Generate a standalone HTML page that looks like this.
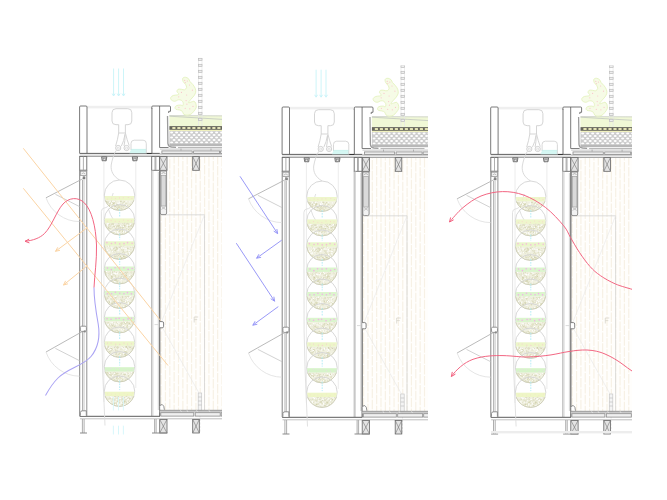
<!DOCTYPE html><html><head><meta charset="utf-8"><title>Section diagrams</title>
<style>html,body{margin:0;padding:0;background:#fff;font-family:"Liberation Sans",sans-serif;}svg{display:block;filter:blur(0.4px)}</style></head><body>
<svg width="667" height="500" viewBox="0 0 667 500">
<rect width="667" height="500" fill="#ffffff"/>
<defs>
<g id="pnl">
<rect x="160.50" y="157.00" width="65.50" height="253.50" fill="#fffefc" stroke="none" stroke-width="1" />
<line x1="161.10" y1="157.00" x2="161.10" y2="410.00" stroke="#f7f1e5" stroke-width="1.2" stroke-dasharray="9.5 1.4" stroke-dashoffset="0"/>
<line x1="165.45" y1="157.00" x2="165.45" y2="410.00" stroke="#f7f1e5" stroke-width="1.2" stroke-dasharray="9.5 1.4" stroke-dashoffset="5"/>
<line x1="169.80" y1="157.00" x2="169.80" y2="410.00" stroke="#f7f1e5" stroke-width="1.2" stroke-dasharray="9.5 1.4" stroke-dashoffset="9"/>
<line x1="174.15" y1="157.00" x2="174.15" y2="410.00" stroke="#f7f1e5" stroke-width="1.2" stroke-dasharray="9.5 1.4" stroke-dashoffset="3"/>
<line x1="178.50" y1="157.00" x2="178.50" y2="410.00" stroke="#f7f1e5" stroke-width="1.2" stroke-dasharray="9.5 1.4" stroke-dashoffset="11"/>
<line x1="182.85" y1="157.00" x2="182.85" y2="410.00" stroke="#f7f1e5" stroke-width="1.2" stroke-dasharray="9.5 1.4" stroke-dashoffset="7"/>
<line x1="187.20" y1="157.00" x2="187.20" y2="410.00" stroke="#f7f1e5" stroke-width="1.2" stroke-dasharray="9.5 1.4" stroke-dashoffset="2"/>
<line x1="191.55" y1="157.00" x2="191.55" y2="410.00" stroke="#f7f1e5" stroke-width="1.2" stroke-dasharray="9.5 1.4" stroke-dashoffset="0"/>
<line x1="195.90" y1="157.00" x2="195.90" y2="410.00" stroke="#f7f1e5" stroke-width="1.2" stroke-dasharray="9.5 1.4" stroke-dashoffset="5"/>
<line x1="200.25" y1="157.00" x2="200.25" y2="410.00" stroke="#f7f1e5" stroke-width="1.2" stroke-dasharray="9.5 1.4" stroke-dashoffset="9"/>
<line x1="204.60" y1="157.00" x2="204.60" y2="410.00" stroke="#f7f1e5" stroke-width="1.2" stroke-dasharray="9.5 1.4" stroke-dashoffset="3"/>
<line x1="208.95" y1="157.00" x2="208.95" y2="410.00" stroke="#f7f1e5" stroke-width="1.2" stroke-dasharray="9.5 1.4" stroke-dashoffset="11"/>
<line x1="213.30" y1="157.00" x2="213.30" y2="410.00" stroke="#f7f1e5" stroke-width="1.2" stroke-dasharray="9.5 1.4" stroke-dashoffset="7"/>
<line x1="217.65" y1="157.00" x2="217.65" y2="410.00" stroke="#f7f1e5" stroke-width="1.2" stroke-dasharray="9.5 1.4" stroke-dashoffset="2"/>
<line x1="222.00" y1="157.00" x2="222.00" y2="410.00" stroke="#f7f1e5" stroke-width="1.2" stroke-dasharray="9.5 1.4" stroke-dashoffset="0"/>
<path d="M160.8 214.8 H204.5 V410" fill="none" stroke="#d4d4d4" stroke-width="0.8" />
<line x1="204.50" y1="214.80" x2="161.00" y2="323.00" stroke="#e8e8e8" stroke-width="0.6" />
<line x1="161.00" y1="325.00" x2="199.00" y2="393.00" stroke="#e6e6e6" stroke-width="0.6" />
<rect x="198.20" y="393.00" width="3.50" height="17.50" fill="#f4f4f4" stroke="#c8c8c8" stroke-width="0.7" />
<line x1="198.20" y1="397.00" x2="201.70" y2="397.00" stroke="#c0c0c0" stroke-width="0.7" />
<line x1="198.20" y1="401.00" x2="201.70" y2="401.00" stroke="#c0c0c0" stroke-width="0.7" />
<line x1="198.20" y1="405.00" x2="201.70" y2="405.00" stroke="#c0c0c0" stroke-width="0.7" />
<line x1="200.00" y1="412.00" x2="200.00" y2="433.00" stroke="#d8d8d8" stroke-width="0.6" stroke-dasharray="2 1.5"/>
<path d="M194.2 322.5 V317 H198.2 M194.2 319.6 H197.2" fill="none" stroke="#d8d4ca" stroke-width="0.8" />
<rect x="169.40" y="115.50" width="57.00" height="10.50" fill="#f0f8d6" stroke="none" stroke-width="1" />
<line x1="169.40" y1="115.60" x2="226.00" y2="115.90" stroke="#cfd3cc" stroke-width="0.9" />
<line x1="169.40" y1="116.20" x2="226.00" y2="119.60" stroke="#c2c6c0" stroke-width="0.8" />
<rect x="169.40" y="126.10" width="57.00" height="3.80" fill="#66665a" stroke="none" stroke-width="1" />
<rect x="172.30" y="126.95" width="3.20" height="2.00" fill="#e2e2b4" stroke="none" stroke-width="1" rx="0.5"/>
<rect x="177.30" y="126.95" width="3.20" height="2.00" fill="#e2e2b4" stroke="none" stroke-width="1" rx="0.5"/>
<rect x="182.30" y="126.95" width="3.20" height="2.00" fill="#e2e2b4" stroke="none" stroke-width="1" rx="0.5"/>
<rect x="187.30" y="126.95" width="3.20" height="2.00" fill="#e2e2b4" stroke="none" stroke-width="1" rx="0.5"/>
<rect x="192.30" y="126.95" width="3.20" height="2.00" fill="#e2e2b4" stroke="none" stroke-width="1" rx="0.5"/>
<rect x="197.30" y="126.95" width="3.20" height="2.00" fill="#e2e2b4" stroke="none" stroke-width="1" rx="0.5"/>
<rect x="202.30" y="126.95" width="3.20" height="2.00" fill="#e2e2b4" stroke="none" stroke-width="1" rx="0.5"/>
<rect x="207.30" y="126.95" width="3.20" height="2.00" fill="#e2e2b4" stroke="none" stroke-width="1" rx="0.5"/>
<rect x="212.30" y="126.95" width="3.20" height="2.00" fill="#e2e2b4" stroke="none" stroke-width="1" rx="0.5"/>
<rect x="217.30" y="126.95" width="3.20" height="2.00" fill="#e2e2b4" stroke="none" stroke-width="1" rx="0.5"/>
<rect x="222.30" y="126.95" width="3.20" height="2.00" fill="#e2e2b4" stroke="none" stroke-width="1" rx="0.5"/>
<rect x="169.40" y="129.90" width="57.00" height="1.20" fill="#eff0bd" stroke="none" stroke-width="1" />
<rect x="169.40" y="131.10" width="57.00" height="12.70" fill="#cdcdcd" stroke="none" stroke-width="1" />
<ellipse cx="171.60" cy="132.40" rx="1.55" ry="1.0" fill="#fff"/>
<ellipse cx="176.60" cy="132.40" rx="1.55" ry="1.0" fill="#fff"/>
<ellipse cx="181.60" cy="132.40" rx="1.55" ry="1.0" fill="#fff"/>
<ellipse cx="186.60" cy="132.40" rx="1.55" ry="1.0" fill="#fff"/>
<ellipse cx="191.60" cy="132.40" rx="1.55" ry="1.0" fill="#fff"/>
<ellipse cx="196.60" cy="132.40" rx="1.55" ry="1.0" fill="#fff"/>
<ellipse cx="201.60" cy="132.40" rx="1.55" ry="1.0" fill="#fff"/>
<ellipse cx="206.60" cy="132.40" rx="1.55" ry="1.0" fill="#fff"/>
<ellipse cx="211.60" cy="132.40" rx="1.55" ry="1.0" fill="#fff"/>
<ellipse cx="216.60" cy="132.40" rx="1.55" ry="1.0" fill="#fff"/>
<ellipse cx="221.60" cy="132.40" rx="1.55" ry="1.0" fill="#fff"/>
<ellipse cx="226.60" cy="132.40" rx="1.55" ry="1.0" fill="#fff"/>
<ellipse cx="174.10" cy="134.90" rx="1.55" ry="1.0" fill="#fff"/>
<ellipse cx="179.10" cy="134.90" rx="1.55" ry="1.0" fill="#fff"/>
<ellipse cx="184.10" cy="134.90" rx="1.55" ry="1.0" fill="#fff"/>
<ellipse cx="189.10" cy="134.90" rx="1.55" ry="1.0" fill="#fff"/>
<ellipse cx="194.10" cy="134.90" rx="1.55" ry="1.0" fill="#fff"/>
<ellipse cx="199.10" cy="134.90" rx="1.55" ry="1.0" fill="#fff"/>
<ellipse cx="204.10" cy="134.90" rx="1.55" ry="1.0" fill="#fff"/>
<ellipse cx="209.10" cy="134.90" rx="1.55" ry="1.0" fill="#fff"/>
<ellipse cx="214.10" cy="134.90" rx="1.55" ry="1.0" fill="#fff"/>
<ellipse cx="219.10" cy="134.90" rx="1.55" ry="1.0" fill="#fff"/>
<ellipse cx="224.10" cy="134.90" rx="1.55" ry="1.0" fill="#fff"/>
<ellipse cx="171.60" cy="137.40" rx="1.55" ry="1.0" fill="#fff"/>
<ellipse cx="176.60" cy="137.40" rx="1.55" ry="1.0" fill="#fff"/>
<ellipse cx="181.60" cy="137.40" rx="1.55" ry="1.0" fill="#fff"/>
<ellipse cx="186.60" cy="137.40" rx="1.55" ry="1.0" fill="#fff"/>
<ellipse cx="191.60" cy="137.40" rx="1.55" ry="1.0" fill="#fff"/>
<ellipse cx="196.60" cy="137.40" rx="1.55" ry="1.0" fill="#fff"/>
<ellipse cx="201.60" cy="137.40" rx="1.55" ry="1.0" fill="#fff"/>
<ellipse cx="206.60" cy="137.40" rx="1.55" ry="1.0" fill="#fff"/>
<ellipse cx="211.60" cy="137.40" rx="1.55" ry="1.0" fill="#fff"/>
<ellipse cx="216.60" cy="137.40" rx="1.55" ry="1.0" fill="#fff"/>
<ellipse cx="221.60" cy="137.40" rx="1.55" ry="1.0" fill="#fff"/>
<ellipse cx="226.60" cy="137.40" rx="1.55" ry="1.0" fill="#fff"/>
<ellipse cx="174.10" cy="139.90" rx="1.55" ry="1.0" fill="#fff"/>
<ellipse cx="179.10" cy="139.90" rx="1.55" ry="1.0" fill="#fff"/>
<ellipse cx="184.10" cy="139.90" rx="1.55" ry="1.0" fill="#fff"/>
<ellipse cx="189.10" cy="139.90" rx="1.55" ry="1.0" fill="#fff"/>
<ellipse cx="194.10" cy="139.90" rx="1.55" ry="1.0" fill="#fff"/>
<ellipse cx="199.10" cy="139.90" rx="1.55" ry="1.0" fill="#fff"/>
<ellipse cx="204.10" cy="139.90" rx="1.55" ry="1.0" fill="#fff"/>
<ellipse cx="209.10" cy="139.90" rx="1.55" ry="1.0" fill="#fff"/>
<ellipse cx="214.10" cy="139.90" rx="1.55" ry="1.0" fill="#fff"/>
<ellipse cx="219.10" cy="139.90" rx="1.55" ry="1.0" fill="#fff"/>
<ellipse cx="224.10" cy="139.90" rx="1.55" ry="1.0" fill="#fff"/>
<ellipse cx="171.60" cy="142.40" rx="1.55" ry="1.0" fill="#fff"/>
<ellipse cx="176.60" cy="142.40" rx="1.55" ry="1.0" fill="#fff"/>
<ellipse cx="181.60" cy="142.40" rx="1.55" ry="1.0" fill="#fff"/>
<ellipse cx="186.60" cy="142.40" rx="1.55" ry="1.0" fill="#fff"/>
<ellipse cx="191.60" cy="142.40" rx="1.55" ry="1.0" fill="#fff"/>
<ellipse cx="196.60" cy="142.40" rx="1.55" ry="1.0" fill="#fff"/>
<ellipse cx="201.60" cy="142.40" rx="1.55" ry="1.0" fill="#fff"/>
<ellipse cx="206.60" cy="142.40" rx="1.55" ry="1.0" fill="#fff"/>
<ellipse cx="211.60" cy="142.40" rx="1.55" ry="1.0" fill="#fff"/>
<ellipse cx="216.60" cy="142.40" rx="1.55" ry="1.0" fill="#fff"/>
<ellipse cx="221.60" cy="142.40" rx="1.55" ry="1.0" fill="#fff"/>
<ellipse cx="226.60" cy="142.40" rx="1.55" ry="1.0" fill="#fff"/>
<rect x="169.40" y="143.60" width="57.00" height="2.60" fill="#b8b8b8" stroke="none" stroke-width="1" />
<path d="M167.5 116 L167.9 143.5 Q168.2 146.7 171.5 147 L176 147.3" fill="none" stroke="#9c9c9c" stroke-width="1.3" />
<path d="M183.2 77.8 C183.70 77.48 184.72 77.15 185.60 77.30 C186.48 77.45 187.77 77.98 188.50 78.70 C189.23 79.42 189.28 80.63 190.00 81.60 C190.72 82.57 191.93 83.38 192.80 84.50 C193.67 85.62 194.72 87.02 195.20 88.30 C195.68 89.58 195.93 90.92 195.70 92.20 C195.47 93.48 194.68 94.73 193.80 96.00 C192.92 97.27 191.28 98.68 190.40 99.80 C189.52 100.92 188.42 102.30 188.50 102.70 C188.58 103.10 190.02 102.43 190.90 102.20 C191.78 101.97 193.00 101.13 193.80 101.30 C194.60 101.47 195.30 102.17 195.70 103.20 C196.10 104.23 196.52 106.15 196.20 107.50 C195.88 108.85 194.68 110.18 193.80 111.30 C192.92 112.42 192.03 113.55 190.90 114.20 C189.77 114.85 188.20 115.20 187.00 115.20 C185.80 115.20 184.48 114.85 183.70 114.20 C182.92 113.55 183.02 112.02 182.30 111.30 C181.58 110.58 180.45 110.22 179.40 109.90 C178.35 109.58 176.73 109.80 176.00 109.40 C175.27 109.00 174.92 108.13 175.00 107.50 C175.08 106.87 175.60 106.00 176.50 105.60 C177.40 105.20 179.35 105.10 180.40 105.10 C181.45 105.10 182.33 106.00 182.80 105.60 C183.27 105.20 183.45 103.58 183.20 102.70 C182.95 101.82 182.10 100.78 181.30 100.30 C180.50 99.82 179.52 99.63 178.40 99.80 C177.28 99.97 175.80 101.30 174.60 101.30 C173.40 101.30 171.83 100.45 171.20 99.80 C170.57 99.15 170.47 98.12 170.80 97.40 C171.13 96.68 172.17 95.90 173.20 95.50 C174.23 95.10 176.05 95.25 177.00 95.00 C177.95 94.75 178.90 94.55 178.90 94.00 C178.90 93.45 177.15 92.48 177.00 91.70 C176.85 90.92 177.28 89.70 178.00 89.30 C178.72 88.90 180.18 89.22 181.30 89.30 C182.42 89.38 183.82 90.12 184.70 89.80 C185.58 89.48 186.45 88.28 186.60 87.40 C186.75 86.52 186.17 85.47 185.60 84.50 C185.03 83.53 183.70 82.48 183.20 81.60 C182.70 80.72 182.60 79.83 182.60 79.20 C182.60 78.57 182.70 78.12 183.20 77.80 Z" fill="#f6fbe6" stroke="#e7f4c4" stroke-width="1.0" />
<circle cx="184.7" cy="80.4" r="0.6" fill="#f9c6cc"/>
<circle cx="187.3" cy="81.1" r="0.6" fill="#f9c6cc"/>
<circle cx="185.3" cy="82.6" r="0.6" fill="#f9c6cc"/>
<circle cx="189.5" cy="85" r="0.6" fill="#f9c6cc"/>
<circle cx="192.4" cy="90.2" r="0.6" fill="#f9c6cc"/>
<circle cx="181.5" cy="92.4" r="0.6" fill="#f9c6cc"/>
<circle cx="186.6" cy="95" r="0.6" fill="#f9c6cc"/>
<circle cx="178.7" cy="96.8" r="0.6" fill="#f9c6cc"/>
<circle cx="186.1" cy="100.6" r="0.6" fill="#f9c6cc"/>
<circle cx="186.9" cy="104.2" r="0.6" fill="#f9c6cc"/>
<circle cx="193" cy="106.4" r="0.6" fill="#f9c6cc"/>
<circle cx="178.9" cy="107.3" r="0.6" fill="#f9c6cc"/>
<circle cx="185.2" cy="108.3" r="0.6" fill="#f9c6cc"/>
<circle cx="189.8" cy="108.8" r="0.6" fill="#f9c6cc"/>
<line x1="198.50" y1="58.00" x2="198.50" y2="126.00" stroke="#e6e6e6" stroke-width="0.7" />
<line x1="202.00" y1="58.00" x2="202.00" y2="126.00" stroke="#e6e6e6" stroke-width="0.7" />
<rect x="198.50" y="58.30" width="3.50" height="2.30" fill="#efefef" stroke="#bcbcbc" stroke-width="0.7" />
<rect x="198.50" y="64.30" width="3.50" height="2.30" fill="#efefef" stroke="#bcbcbc" stroke-width="0.7" />
<rect x="198.50" y="70.30" width="3.50" height="2.30" fill="#efefef" stroke="#bcbcbc" stroke-width="0.7" />
<rect x="198.50" y="76.30" width="3.50" height="2.30" fill="#efefef" stroke="#bcbcbc" stroke-width="0.7" />
<rect x="198.50" y="82.30" width="3.50" height="2.30" fill="#efefef" stroke="#bcbcbc" stroke-width="0.7" />
<rect x="198.50" y="88.30" width="3.50" height="2.30" fill="#efefef" stroke="#bcbcbc" stroke-width="0.7" />
<rect x="198.50" y="94.30" width="3.50" height="2.30" fill="#efefef" stroke="#bcbcbc" stroke-width="0.7" />
<rect x="198.50" y="100.30" width="3.50" height="2.30" fill="#efefef" stroke="#bcbcbc" stroke-width="0.7" />
<rect x="198.50" y="106.30" width="3.50" height="2.30" fill="#efefef" stroke="#bcbcbc" stroke-width="0.7" />
<rect x="198.50" y="112.30" width="3.50" height="2.30" fill="#efefef" stroke="#bcbcbc" stroke-width="0.7" />
<rect x="198.50" y="118.30" width="3.50" height="2.30" fill="#efefef" stroke="#bcbcbc" stroke-width="0.7" />
<rect x="87.00" y="105.80" width="65.00" height="2.60" fill="#efefef" stroke="none" stroke-width="1" />
<path d="M79.6 153.3 V107 Q79.6 106 80.6 106 H86 Q87 106 87 107 V153.3" fill="#fff" stroke="#585858" stroke-width="0.8" />
<path d="M151.8 109 V107 Q151.8 106 152.8 106 H169.5 Q170.5 106 170.5 107 V111.3 H168.7 V113" fill="none" stroke="#585858" stroke-width="0.8" />
<line x1="151.90" y1="108.00" x2="151.90" y2="153.30" stroke="#8c8c8c" stroke-width="1.2" />
<line x1="159.60" y1="106.00" x2="159.60" y2="147.50" stroke="#585858" stroke-width="0.8" />
<line x1="159.60" y1="147.50" x2="168.50" y2="147.50" stroke="#606060" stroke-width="0.8" />
<line x1="160.00" y1="149.10" x2="226.00" y2="149.10" stroke="#b8b8b8" stroke-width="0.8" />
<rect x="161.90" y="150.90" width="30.30" height="2.60" fill="#ececec" stroke="#8c8c8c" stroke-width="0.8" />
<rect x="193.60" y="150.90" width="26.00" height="2.60" fill="#ececec" stroke="#8c8c8c" stroke-width="0.8" />
<rect x="220.60" y="150.90" width="6.00" height="2.60" fill="#ececec" stroke="#8c8c8c" stroke-width="0.8" />
<line x1="178.00" y1="147.60" x2="222.00" y2="147.60" stroke="#a8a8a8" stroke-width="0.9" />
<line x1="181.00" y1="148.60" x2="181.00" y2="150.60" stroke="#999" stroke-width="0.7" />
<line x1="211.00" y1="148.60" x2="211.00" y2="150.60" stroke="#999" stroke-width="0.7" />
<rect x="79.60" y="153.40" width="80.20" height="2.80" fill="#e9e9e9" stroke="none" stroke-width="1" />
<line x1="79.60" y1="153.40" x2="159.80" y2="153.40" stroke="#505050" stroke-width="0.9" />
<line x1="79.60" y1="156.30" x2="226.00" y2="156.30" stroke="#858585" stroke-width="0.9" />
<line x1="159.80" y1="154.00" x2="226.00" y2="154.00" stroke="#9a9a9a" stroke-width="0.9" />
<rect x="159.70" y="156.60" width="7.30" height="13.70" fill="#e4e4e4" stroke="#666" stroke-width="0.8" /><line x1="159.70" y1="156.60" x2="167.00" y2="170.30" stroke="#777" stroke-width="0.6" /><line x1="167.00" y1="156.60" x2="159.70" y2="170.30" stroke="#777" stroke-width="0.6" />
<rect x="192.70" y="156.60" width="6.60" height="13.70" fill="#e4e4e4" stroke="#666" stroke-width="0.8" /><line x1="192.70" y1="156.60" x2="199.30" y2="170.30" stroke="#777" stroke-width="0.6" /><line x1="199.30" y1="156.60" x2="192.70" y2="170.30" stroke="#777" stroke-width="0.6" />
<rect x="151.70" y="156.50" width="7.80" height="13.80" fill="#fff" stroke="#6a6a6a" stroke-width="0.9" />
<line x1="155.00" y1="156.50" x2="155.00" y2="170.30" stroke="#8a8a8a" stroke-width="0.7" />
<line x1="155.90" y1="156.50" x2="155.90" y2="170.30" stroke="#8a8a8a" stroke-width="0.7" />
<line x1="151.70" y1="170.30" x2="151.70" y2="416.00" stroke="#a8a8a8" stroke-width="0.9" />
<line x1="152.90" y1="170.30" x2="152.90" y2="416.00" stroke="#c9c9c9" stroke-width="0.8" />
<line x1="158.30" y1="172.00" x2="158.30" y2="410.00" stroke="#cfcfcf" stroke-width="0.9" />
<line x1="159.70" y1="170.30" x2="159.70" y2="416.00" stroke="#7c7c7c" stroke-width="1.4" />
<path d="M160.3 171 H166.6 V213 Q166.6 214.6 165 214.6 H161.9 Q160.3 214.6 160.3 213 Z" fill="#f2f2f2" stroke="#777" stroke-width="0.8" />
<rect x="161.20" y="175.50" width="4.60" height="30.50" fill="#dadada" stroke="#9a9a9a" stroke-width="0.6" />
<path d="M161.5 173.5 Q163.5 171.8 165.5 173.5" fill="none" stroke="#888" stroke-width="0.6" />
<path d="M161.4 206.5 L165.6 209.5 M165.6 206.5 L161.4 209.5" fill="none" stroke="#999" stroke-width="0.5" />
<path d="M159.7 321.6 H162.2 Q163.6 321.6 163.6 323 V326.4 Q163.6 327.8 162.2 327.8 H159.7" fill="#fff" stroke="#666" stroke-width="0.8" />
<line x1="154.50" y1="324.60" x2="158.50" y2="324.60" stroke="#d0d0d0" stroke-width="0.8" />
<path d="M159.7 409.8 V406.5 Q160.2 404.3 162.3 404.6 Q164.2 405.2 164.4 409.8" fill="#fff" stroke="#777" stroke-width="0.8" />
<rect x="159.70" y="410.30" width="66.50" height="2.20" fill="#c9c9c9" stroke="none" stroke-width="1" />
<line x1="159.70" y1="410.30" x2="226.00" y2="410.30" stroke="#8a8a8a" stroke-width="0.8" />
<line x1="180.50" y1="410.30" x2="181.70" y2="412.30" stroke="#eee" stroke-width="0.7" />
<line x1="187.00" y1="410.30" x2="188.20" y2="412.30" stroke="#eee" stroke-width="0.7" />
<line x1="196.50" y1="410.30" x2="197.70" y2="412.30" stroke="#eee" stroke-width="0.7" />
<line x1="209.00" y1="410.30" x2="210.20" y2="412.30" stroke="#eee" stroke-width="0.7" />
<rect x="160.80" y="412.70" width="33.00" height="3.40" fill="#f0f0f0" stroke="#8a8a8a" stroke-width="0.8" />
<rect x="195.20" y="412.70" width="25.00" height="3.40" fill="#f0f0f0" stroke="#8a8a8a" stroke-width="0.8" />
<rect x="221.20" y="412.70" width="5.00" height="3.40" fill="#f0f0f0" stroke="#8a8a8a" stroke-width="0.8" />
<line x1="159.70" y1="418.80" x2="226.00" y2="418.80" stroke="#bdbdbd" stroke-width="1.0" />
<rect x="159.70" y="419.40" width="7.30" height="13.60" fill="#e4e4e4" stroke="#666" stroke-width="0.8" /><line x1="159.70" y1="419.40" x2="167.00" y2="433.00" stroke="#777" stroke-width="0.6" /><line x1="167.00" y1="419.40" x2="159.70" y2="433.00" stroke="#777" stroke-width="0.6" />
<rect x="192.70" y="419.40" width="6.60" height="13.60" fill="#e4e4e4" stroke="#666" stroke-width="0.8" /><line x1="192.70" y1="419.40" x2="199.30" y2="433.00" stroke="#777" stroke-width="0.6" /><line x1="199.30" y1="419.40" x2="192.70" y2="433.00" stroke="#777" stroke-width="0.6" />
<line x1="79.60" y1="416.30" x2="160.00" y2="416.30" stroke="#5a5a5a" stroke-width="1.0" />
<line x1="80.00" y1="418.80" x2="160.00" y2="418.80" stroke="#c2c2c2" stroke-width="1.0" />
<line x1="82.40" y1="419.00" x2="82.40" y2="433.00" stroke="#999" stroke-width="0.8" />
<line x1="84.10" y1="419.00" x2="84.10" y2="433.00" stroke="#999" stroke-width="0.8" />
<line x1="80.00" y1="433.00" x2="87.00" y2="433.00" stroke="#8a8a8a" stroke-width="1.0" />
<line x1="154.60" y1="419.00" x2="154.60" y2="433.00" stroke="#999" stroke-width="0.8" />
<line x1="156.10" y1="419.00" x2="156.10" y2="433.00" stroke="#999" stroke-width="0.8" />
<line x1="152.00" y1="433.00" x2="167.20" y2="433.00" stroke="#8a8a8a" stroke-width="1.0" />
<rect x="79.70" y="156.50" width="7.10" height="13.70" fill="#fff" stroke="#6a6a6a" stroke-width="0.9" />
<line x1="83.40" y1="156.50" x2="83.40" y2="170.20" stroke="#9a9a9a" stroke-width="0.8" />
<line x1="79.70" y1="170.20" x2="79.70" y2="416.00" stroke="#777" stroke-width="0.9" />
<line x1="82.50" y1="180.00" x2="82.50" y2="412.00" stroke="#a8a8a8" stroke-width="0.9" />
<line x1="84.00" y1="180.00" x2="84.00" y2="412.00" stroke="#b8b8b8" stroke-width="0.8" />
<line x1="86.80" y1="170.20" x2="86.80" y2="416.00" stroke="#858585" stroke-width="0.9" />
<rect x="80.30" y="171.20" width="6.20" height="4.20" fill="#f3f3f3" stroke="#8a8a8a" stroke-width="0.7" /><path d="M81.5 174.0 Q83.4 171.8 85.3 174.0" fill="none" stroke="#999" stroke-width="0.6" /><rect x="83.00" y="176.80" width="2.00" height="2.20" fill="#8a8a8a" stroke="#666" stroke-width="0.5" />
<rect x="80.40" y="326.20" width="6.00" height="5.20" fill="#fff" stroke="#808080" stroke-width="0.8" rx="1.2"/>
<rect x="83.80" y="330.40" width="1.80" height="2.00" fill="#888" stroke="none" stroke-width="1" />
<path d="M80.4 415.8 V412.5 Q80.6 410.6 82.6 410.8 H86.3 V415.8" fill="#fff" stroke="#777" stroke-width="0.8" />
<line x1="83.00" y1="178.60" x2="46.00" y2="197.80" stroke="#adadad" stroke-width="0.85" />
<line x1="55.40" y1="194.30" x2="79.50" y2="206.60" stroke="#c6c6c6" stroke-width="0.8" />
<path d="M46 197.8 A36 36 0 0 0 79.5 221.6" fill="none" stroke="#dedede" stroke-width="0.8" />
<line x1="82.20" y1="331.60" x2="46.00" y2="352.00" stroke="#adadad" stroke-width="0.85" />
<line x1="55.40" y1="348.40" x2="79.50" y2="360.70" stroke="#c6c6c6" stroke-width="0.8" />
<path d="M46 352 A36 36 0 0 0 79.5 376.2" fill="none" stroke="#dedede" stroke-width="0.8" />
<path d="M116 108.7 H127.8 Q131.8 108.7 131.8 112.7 V121 Q131.8 124.7 128 124.7 H125.4 V133 M118.7 133 V124.7 H116 Q112 124.7 112 121 V112.7 Q112 108.7 116 108.7 M118.7 133 H125.4 M118.7 133 Q117.6 140 115.6 146 M125.4 133 Q127 140 129.2 145.6 M125 134.3 Q124 141 121.3 146.2 M125 134.3 Q125.2 141 124 146" fill="none" stroke="#d0d0d0" stroke-width="0.9" />
<circle cx="118.2" cy="148" r="2.6" fill="#fff" stroke="#c6c6c6" stroke-width="0.8"/>
<circle cx="118.2" cy="148.2" r="1.1" fill="#fff" stroke="#cfcfcf" stroke-width="0.6"/>
<circle cx="126.6" cy="148" r="2.6" fill="#fff" stroke="#c6c6c6" stroke-width="0.8"/>
<circle cx="126.6" cy="148.2" r="1.1" fill="#fff" stroke="#cfcfcf" stroke-width="0.6"/>
<path d="M129.4 153.2 L131 149.4 H146.3 V153.2 Z" fill="#d5f7f3" stroke="none" stroke-width="1" />
<path d="M131 150 V143.4 Q131 140.2 134.2 140.2 H143.1 Q146.3 140.2 146.3 143.4 V153.2" fill="none" stroke="#d4d4d4" stroke-width="0.9" />
<line x1="131.00" y1="149.40" x2="146.30" y2="149.40" stroke="#bdeeea" stroke-width="0.7" />
<line x1="146.90" y1="153.50" x2="151.70" y2="153.50" stroke="#333" stroke-width="1.0" />
<path d="M116.4 150.2 C114 153.5 112 160 111.2 165 C110.6 171 113 176 119.5 180" fill="none" stroke="#d6d6d6" stroke-width="0.9" />
<path d="M101.6 156.8 H106.8 L106.19999999999999 160.8 H102.19999999999999 Z" fill="#cfcfcf" stroke="#5a5a5a" stroke-width="0.8" />
<rect x="103.10" y="158.40" width="2.20" height="1.70" fill="#f4f4f4" stroke="#777" stroke-width="0.5" />
<path d="M132.3 156.8 H137.5 L136.9 160.8 H132.9 Z" fill="#cfcfcf" stroke="#5a5a5a" stroke-width="0.8" />
<rect x="133.80" y="158.40" width="2.20" height="1.70" fill="#f4f4f4" stroke="#777" stroke-width="0.5" />
<line x1="103.90" y1="161.00" x2="103.90" y2="402.00" stroke="#e6e6e6" stroke-width="0.75" />
<line x1="135.80" y1="161.00" x2="135.80" y2="388.00" stroke="#e6e6e6" stroke-width="0.75" />
<path d="M113.2 193 L110 203 Q108.3 207.6 104.2 208 Q101.5 208.4 101.4 211.5 L101.6 330 L102.7 372 L105 425.5" fill="none" stroke="#dedede" stroke-width="0.9" />
<path d="M108.3 208.6 Q110 215 113.9 220.5" fill="none" stroke="#d8d8d8" stroke-width="0.8" />
<clipPath id="cc0"><circle cx="119.5" cy="195.20" r="14.899999999999999"/></clipPath>
<circle cx="119.5" cy="195.20" r="15.2" fill="none" stroke="#d4d4d4" stroke-width="0.9"/>
<g clip-path="url(#cc0)"><rect x="104.30" y="196.00" width="30.40" height="4.60" fill="#eef6cb" stroke="none" stroke-width="1" /><rect x="104.30" y="200.40" width="30.40" height="15.20" fill="#f0f0e0" stroke="none" stroke-width="1" /><line x1="114.14" y1="202.08" x2="113.75" y2="202.85" stroke="#c6c69a" stroke-width="0.45" /><line x1="120.59" y1="204.18" x2="121.83" y2="204.41" stroke="#c6c69a" stroke-width="0.45" /><line x1="105.44" y1="204.85" x2="106.30" y2="205.04" stroke="#c6c69a" stroke-width="0.45" /><line x1="117.21" y1="208.70" x2="118.13" y2="209.08" stroke="#c6c69a" stroke-width="0.45" /><line x1="123.37" y1="209.89" x2="123.10" y2="211.01" stroke="#c6c69a" stroke-width="0.45" /><line x1="133.98" y1="201.06" x2="133.02" y2="201.51" stroke="#c6c69a" stroke-width="0.45" /><line x1="108.69" y1="201.75" x2="109.55" y2="203.02" stroke="#c6c69a" stroke-width="0.45" /><line x1="109.79" y1="206.30" x2="109.31" y2="207.33" stroke="#c6c69a" stroke-width="0.45" /><line x1="120.95" y1="201.22" x2="121.92" y2="201.40" stroke="#c6c69a" stroke-width="0.45" /><line x1="124.98" y1="204.79" x2="125.72" y2="205.90" stroke="#c6c69a" stroke-width="0.45" /><line x1="118.08" y1="203.54" x2="116.94" y2="204.40" stroke="#c6c69a" stroke-width="0.45" /><line x1="111.72" y1="206.23" x2="111.59" y2="207.81" stroke="#c6c69a" stroke-width="0.45" /><line x1="126.48" y1="203.42" x2="125.57" y2="203.48" stroke="#c6c69a" stroke-width="0.45" /><line x1="117.01" y1="208.02" x2="118.11" y2="208.59" stroke="#c6c69a" stroke-width="0.45" /><line x1="105.49" y1="207.15" x2="104.52" y2="208.04" stroke="#c6c69a" stroke-width="0.45" /><line x1="130.91" y1="203.67" x2="130.15" y2="204.77" stroke="#c6c69a" stroke-width="0.45" /><line x1="121.93" y1="205.07" x2="120.48" y2="205.87" stroke="#c6c69a" stroke-width="0.45" /><line x1="118.71" y1="207.11" x2="120.12" y2="207.38" stroke="#c6c69a" stroke-width="0.45" /><line x1="123.97" y1="210.33" x2="123.08" y2="210.89" stroke="#c6c69a" stroke-width="0.45" /><line x1="116.03" y1="207.15" x2="117.24" y2="207.24" stroke="#c6c69a" stroke-width="0.45" /><line x1="109.41" y1="201.75" x2="110.87" y2="202.02" stroke="#c6c69a" stroke-width="0.45" /><line x1="108.23" y1="203.03" x2="108.76" y2="204.52" stroke="#c6c69a" stroke-width="0.45" /><line x1="106.75" y1="205.00" x2="106.50" y2="206.58" stroke="#c6c69a" stroke-width="0.45" /><line x1="129.21" y1="209.07" x2="129.96" y2="209.97" stroke="#c6c69a" stroke-width="0.45" /><line x1="115.21" y1="209.27" x2="114.28" y2="209.39" stroke="#c6c69a" stroke-width="0.45" /><line x1="109.66" y1="202.87" x2="110.58" y2="203.70" stroke="#c6c69a" stroke-width="0.45" /><line x1="122.21" y1="203.17" x2="123.39" y2="203.19" stroke="#c6c69a" stroke-width="0.45" /><line x1="115.53" y1="206.15" x2="114.12" y2="206.36" stroke="#c6c69a" stroke-width="0.45" /><line x1="119.97" y1="206.65" x2="119.52" y2="207.37" stroke="#c6c69a" stroke-width="0.45" /><line x1="131.65" y1="208.24" x2="130.24" y2="208.83" stroke="#c6c69a" stroke-width="0.45" /><line x1="116.23" y1="204.51" x2="117.53" y2="204.95" stroke="#c6c69a" stroke-width="0.45" /><line x1="106.19" y1="201.26" x2="106.94" y2="201.84" stroke="#c6c69a" stroke-width="0.45" /><line x1="114.64" y1="201.12" x2="115.57" y2="201.12" stroke="#c6c69a" stroke-width="0.45" /><line x1="107.38" y1="204.16" x2="108.97" y2="204.29" stroke="#c6c69a" stroke-width="0.45" /><line x1="122.97" y1="202.06" x2="123.75" y2="202.85" stroke="#c6c69a" stroke-width="0.45" /><line x1="115.37" y1="201.80" x2="113.86" y2="202.58" stroke="#c6c69a" stroke-width="0.45" /><line x1="118.47" y1="205.34" x2="119.33" y2="205.58" stroke="#c6c69a" stroke-width="0.45" /><line x1="114.72" y1="203.19" x2="113.90" y2="203.68" stroke="#c6c69a" stroke-width="0.45" /><line x1="105.00" y1="209.92" x2="104.92" y2="210.85" stroke="#c6c69a" stroke-width="0.45" /><line x1="120.81" y1="200.87" x2="120.66" y2="202.54" stroke="#c6c69a" stroke-width="0.45" /><line x1="130.55" y1="207.42" x2="131.32" y2="208.25" stroke="#c6c69a" stroke-width="0.45" /><line x1="109.38" y1="208.16" x2="109.22" y2="209.66" stroke="#c6c69a" stroke-width="0.45" /><line x1="114.32" y1="202.79" x2="112.92" y2="203.73" stroke="#c6c69a" stroke-width="0.45" /><line x1="130.22" y1="208.50" x2="128.99" y2="209.29" stroke="#c6c69a" stroke-width="0.45" /><line x1="111.19" y1="205.67" x2="111.55" y2="206.42" stroke="#c6c69a" stroke-width="0.45" /><line x1="105.15" y1="203.34" x2="106.13" y2="204.37" stroke="#c6c69a" stroke-width="0.45" /><line x1="133.38" y1="204.98" x2="131.72" y2="205.31" stroke="#c6c69a" stroke-width="0.45" /><line x1="133.33" y1="204.17" x2="134.10" y2="204.81" stroke="#c6c69a" stroke-width="0.45" /><line x1="110.28" y1="202.60" x2="109.67" y2="204.09" stroke="#c6c69a" stroke-width="0.45" /><line x1="129.85" y1="205.30" x2="129.15" y2="206.65" stroke="#c6c69a" stroke-width="0.45" /><line x1="106.88" y1="207.07" x2="105.43" y2="207.49" stroke="#c6c69a" stroke-width="0.45" /><line x1="127.10" y1="205.28" x2="128.38" y2="206.09" stroke="#c6c69a" stroke-width="0.45" /><line x1="114.41" y1="208.45" x2="113.26" y2="208.55" stroke="#c6c69a" stroke-width="0.45" /><line x1="116.50" y1="209.88" x2="115.88" y2="210.60" stroke="#c6c69a" stroke-width="0.45" /><line x1="108.16" y1="202.08" x2="106.70" y2="202.53" stroke="#c6c69a" stroke-width="0.45" /><line x1="108.74" y1="208.70" x2="107.35" y2="208.79" stroke="#c6c69a" stroke-width="0.45" /><line x1="114.95" y1="205.98" x2="115.70" y2="206.30" stroke="#c6c69a" stroke-width="0.45" /><line x1="133.82" y1="206.97" x2="133.68" y2="208.60" stroke="#c6c69a" stroke-width="0.45" /><line x1="117.49" y1="209.14" x2="116.64" y2="209.66" stroke="#c6c69a" stroke-width="0.45" /><line x1="111.96" y1="203.47" x2="112.92" y2="204.38" stroke="#c6c69a" stroke-width="0.45" /><line x1="112.18" y1="204.71" x2="113.67" y2="205.35" stroke="#c6c69a" stroke-width="0.45" /><line x1="115.06" y1="205.09" x2="114.64" y2="206.65" stroke="#c6c69a" stroke-width="0.45" /><line x1="117.09" y1="209.59" x2="117.08" y2="210.87" stroke="#c6c69a" stroke-width="0.45" /><line x1="120.21" y1="200.78" x2="120.40" y2="201.73" stroke="#c6c69a" stroke-width="0.45" /><line x1="104.42" y1="208.43" x2="105.47" y2="209.06" stroke="#c6c69a" stroke-width="0.45" /><line x1="126.35" y1="206.05" x2="127.00" y2="207.14" stroke="#c6c69a" stroke-width="0.45" /><line x1="121.19" y1="208.29" x2="122.42" y2="208.71" stroke="#c6c69a" stroke-width="0.45" /><line x1="111.85" y1="203.31" x2="110.91" y2="204.14" stroke="#c6c69a" stroke-width="0.45" /><line x1="121.38" y1="208.05" x2="120.22" y2="208.37" stroke="#c6c69a" stroke-width="0.45" /><line x1="122.92" y1="205.55" x2="122.87" y2="206.98" stroke="#c6c69a" stroke-width="0.45" /><line x1="118.05" y1="205.83" x2="118.16" y2="207.47" stroke="#c6c69a" stroke-width="0.45" /><line x1="125.56" y1="209.19" x2="124.54" y2="209.38" stroke="#c6c69a" stroke-width="0.45" /><line x1="121.31" y1="209.84" x2="120.50" y2="210.29" stroke="#c6c69a" stroke-width="0.45" /><line x1="108.00" y1="204.93" x2="108.99" y2="205.16" stroke="#c6c69a" stroke-width="0.45" /><line x1="106.52" y1="207.16" x2="105.27" y2="208.17" stroke="#c6c69a" stroke-width="0.45" /><line x1="109.00" y1="207.62" x2="108.55" y2="208.43" stroke="#c6c69a" stroke-width="0.45" /><line x1="131.14" y1="210.08" x2="132.42" y2="211.14" stroke="#c6c69a" stroke-width="0.45" /><line x1="116.41" y1="205.38" x2="114.86" y2="205.42" stroke="#c6c69a" stroke-width="0.45" /><line x1="109.21" y1="204.83" x2="109.15" y2="205.93" stroke="#c6c69a" stroke-width="0.45" /><line x1="110.25" y1="203.72" x2="109.73" y2="204.35" stroke="#c6c69a" stroke-width="0.45" /><line x1="121.14" y1="204.92" x2="122.24" y2="204.98" stroke="#c6c69a" stroke-width="0.45" /><line x1="123.27" y1="205.62" x2="124.92" y2="205.96" stroke="#c6c69a" stroke-width="0.45" /><line x1="128.27" y1="210.12" x2="129.25" y2="210.46" stroke="#c6c69a" stroke-width="0.45" /><line x1="105.50" y1="208.23" x2="106.11" y2="208.92" stroke="#c6c69a" stroke-width="0.45" /><line x1="117.14" y1="209.53" x2="116.27" y2="210.09" stroke="#c6c69a" stroke-width="0.45" /><line x1="108.84" y1="209.61" x2="108.53" y2="211.00" stroke="#c6c69a" stroke-width="0.45" /><line x1="107.02" y1="201.16" x2="106.36" y2="202.15" stroke="#c6c69a" stroke-width="0.45" /><line x1="106.50" y1="209.80" x2="105.88" y2="211.18" stroke="#c6c69a" stroke-width="0.45" /><line x1="106.85" y1="208.99" x2="108.39" y2="209.32" stroke="#c6c69a" stroke-width="0.45" /><line x1="118.09" y1="203.92" x2="117.82" y2="205.54" stroke="#c6c69a" stroke-width="0.45" /><line x1="112.44" y1="201.87" x2="112.36" y2="202.88" stroke="#c6c69a" stroke-width="0.45" /><line x1="107.63" y1="202.18" x2="108.60" y2="202.34" stroke="#c6c69a" stroke-width="0.45" /><line x1="113.78" y1="203.59" x2="113.01" y2="204.32" stroke="#c6c69a" stroke-width="0.45" /><line x1="119.50" y1="202.34" x2="119.88" y2="203.07" stroke="#c6c69a" stroke-width="0.45" /><line x1="111.91" y1="200.75" x2="111.05" y2="201.71" stroke="#c6c69a" stroke-width="0.45" /><line x1="110.06" y1="205.25" x2="109.18" y2="205.44" stroke="#c6c69a" stroke-width="0.45" /><line x1="129.20" y1="204.84" x2="129.22" y2="206.39" stroke="#c6c69a" stroke-width="0.45" /><line x1="116.25" y1="205.57" x2="115.31" y2="206.97" stroke="#c6c69a" stroke-width="0.45" /><line x1="114.72" y1="208.76" x2="113.89" y2="209.85" stroke="#c6c69a" stroke-width="0.45" /><line x1="116.60" y1="204.01" x2="117.51" y2="204.16" stroke="#c6c69a" stroke-width="0.45" /><line x1="106.45" y1="207.86" x2="107.11" y2="208.54" stroke="#c6c69a" stroke-width="0.45" /><line x1="106.87" y1="208.84" x2="105.58" y2="209.40" stroke="#c6c69a" stroke-width="0.45" /><line x1="112.87" y1="202.97" x2="113.61" y2="203.94" stroke="#c6c69a" stroke-width="0.45" /><line x1="109.09" y1="204.97" x2="110.22" y2="206.19" stroke="#c6c69a" stroke-width="0.45" /><line x1="133.87" y1="205.96" x2="135.07" y2="207.12" stroke="#c6c69a" stroke-width="0.45" /><line x1="113.71" y1="204.09" x2="114.85" y2="204.10" stroke="#c6c69a" stroke-width="0.45" /><line x1="118.73" y1="205.53" x2="119.74" y2="206.27" stroke="#c6c69a" stroke-width="0.45" /><line x1="104.45" y1="203.19" x2="105.56" y2="203.51" stroke="#c6c69a" stroke-width="0.45" /><line x1="105.57" y1="200.82" x2="106.15" y2="201.65" stroke="#c6c69a" stroke-width="0.45" /><line x1="122.10" y1="205.79" x2="121.12" y2="206.77" stroke="#c6c69a" stroke-width="0.45" /><line x1="126.07" y1="209.22" x2="126.44" y2="210.24" stroke="#c6c69a" stroke-width="0.45" /><line x1="134.24" y1="202.06" x2="133.34" y2="203.12" stroke="#c6c69a" stroke-width="0.45" /><line x1="105.63" y1="208.79" x2="104.34" y2="209.24" stroke="#c6c69a" stroke-width="0.45" /><line x1="126.61" y1="208.56" x2="127.76" y2="209.10" stroke="#c6c69a" stroke-width="0.45" /><line x1="119.63" y1="208.78" x2="118.37" y2="209.67" stroke="#c6c69a" stroke-width="0.45" /><line x1="122.06" y1="209.35" x2="121.28" y2="210.55" stroke="#c6c69a" stroke-width="0.45" /><line x1="111.29" y1="200.91" x2="112.32" y2="201.36" stroke="#c6c69a" stroke-width="0.45" /><line x1="107.49" y1="208.79" x2="107.24" y2="210.13" stroke="#c6c69a" stroke-width="0.45" /><line x1="123.34" y1="207.27" x2="123.36" y2="208.07" stroke="#c6c69a" stroke-width="0.45" /><line x1="128.55" y1="207.93" x2="128.54" y2="209.21" stroke="#c6c69a" stroke-width="0.45" /><line x1="124.34" y1="201.25" x2="123.65" y2="202.00" stroke="#c6c69a" stroke-width="0.45" /><line x1="106.56" y1="203.20" x2="105.91" y2="203.94" stroke="#c6c69a" stroke-width="0.45" /><line x1="126.79" y1="210.16" x2="126.81" y2="211.31" stroke="#c6c69a" stroke-width="0.45" /><line x1="118.86" y1="207.30" x2="117.85" y2="208.21" stroke="#c6c69a" stroke-width="0.45" /><line x1="123.84" y1="201.36" x2="124.76" y2="201.82" stroke="#c6c69a" stroke-width="0.45" /><line x1="126.89" y1="203.58" x2="126.72" y2="204.38" stroke="#c6c69a" stroke-width="0.45" /><line x1="106.14" y1="203.23" x2="105.41" y2="204.45" stroke="#c6c69a" stroke-width="0.45" /><line x1="124.84" y1="203.45" x2="124.78" y2="204.67" stroke="#c6c69a" stroke-width="0.45" /><line x1="118.48" y1="201.76" x2="117.55" y2="202.08" stroke="#c6c69a" stroke-width="0.45" /><line x1="134.04" y1="209.78" x2="135.25" y2="209.84" stroke="#c6c69a" stroke-width="0.45" /><circle cx="129.22" cy="210.09" r="0.6" fill="#fff"/><circle cx="117.96" cy="203.38" r="0.6" fill="#fff"/><circle cx="110.68" cy="209.88" r="0.6" fill="#fff"/><circle cx="110.71" cy="206.38" r="0.6" fill="#fff"/><circle cx="108.61" cy="205.83" r="0.6" fill="#fff"/><circle cx="133.26" cy="202.07" r="0.6" fill="#fff"/><circle cx="129.23" cy="205.68" r="0.6" fill="#fff"/><circle cx="131.26" cy="207.55" r="0.6" fill="#fff"/><circle cx="111.33" cy="209.42" r="0.6" fill="#fff"/><circle cx="119.08" cy="201.04" r="0.6" fill="#fff"/><circle cx="104.41" cy="205.52" r="0.6" fill="#fff"/><circle cx="118.00" cy="203.70" r="0.6" fill="#fff"/><circle cx="108.58" cy="204.10" r="0.6" fill="#fff"/><circle cx="113.91" cy="208.87" r="0.6" fill="#fff"/><circle cx="104.35" cy="208.01" r="0.6" fill="#fff"/><circle cx="129.81" cy="201.95" r="0.6" fill="#fff"/><circle cx="132.46" cy="207.65" r="0.6" fill="#fff"/><circle cx="131.71" cy="203.58" r="0.6" fill="#fff"/><circle cx="115.62" cy="204.57" r="0.6" fill="#fff"/><circle cx="134.66" cy="206.46" r="0.6" fill="#fff"/><circle cx="115.27" cy="204.91" r="0.6" fill="#fff"/><circle cx="112.66" cy="201.26" r="0.6" fill="#fff"/><circle cx="107.39" cy="208.81" r="0.6" fill="#fff"/><circle cx="112.98" cy="209.78" r="0.6" fill="#fff"/><circle cx="111.88" cy="203.35" r="0.6" fill="#fff"/><circle cx="119.83" cy="202.62" r="0.6" fill="#fff"/><circle cx="115.65" cy="209.98" r="0.6" fill="#fff"/><circle cx="131.18" cy="208.59" r="0.6" fill="#fff"/><circle cx="123.48" cy="209.57" r="0.6" fill="#fff"/><circle cx="132.90" cy="206.07" r="0.6" fill="#fff"/><circle cx="126.18" cy="201.27" r="0.6" fill="#fff"/><circle cx="126.56" cy="205.13" r="0.6" fill="#fff"/><circle cx="127.18" cy="206.99" r="0.6" fill="#fff"/><circle cx="113.00" cy="201.27" r="0.6" fill="#fff"/><circle cx="132.47" cy="202.02" r="0.6" fill="#fff"/><circle cx="118.65" cy="204.10" r="0.6" fill="#fff"/><circle cx="113.35" cy="207.89" r="0.6" fill="#fff"/><circle cx="133.98" cy="203.30" r="0.6" fill="#fff"/><circle cx="124.24" cy="203.69" r="0.6" fill="#fff"/><circle cx="121.24" cy="204.59" r="0.6" fill="#fff"/><circle cx="109.39" cy="202.35" r="0.6" fill="#fff"/><circle cx="110.62" cy="209.50" r="0.6" fill="#fff"/><circle cx="119.41" cy="202.91" r="0.6" fill="#fff"/><circle cx="131.85" cy="210.37" r="0.6" fill="#fff"/><circle cx="117.98" cy="202.14" r="0.6" fill="#fff"/><circle cx="110.15" cy="201.67" r="0.6" fill="#fff"/><circle cx="114.70" cy="201.67" r="0.6" fill="#fff"/><circle cx="111.57" cy="203.28" r="0.6" fill="#fff"/><circle cx="107.37" cy="198.97" r="0.55" fill="#f8d6cc"/><circle cx="111.65" cy="198.03" r="0.55" fill="#f8d6cc"/><circle cx="115.41" cy="198.25" r="0.55" fill="#f8d6cc"/><circle cx="119.48" cy="197.88" r="0.55" fill="#f8d6cc"/><circle cx="123.26" cy="197.76" r="0.55" fill="#f8d6cc"/><circle cx="128.27" cy="197.45" r="0.55" fill="#f8d6cc"/><circle cx="131.90" cy="198.46" r="0.55" fill="#f8d6cc"/></g>
<path d="M105.22 200.40 A15.2 15.2 0 0 0 133.78 200.40" fill="none" stroke="#cdcdb0" stroke-width="0.8" />
<line x1="119.70" y1="209.20" x2="119.70" y2="216.80" stroke="#a6eaf4" stroke-width="0.85" stroke-dasharray="1.7 1.1"/>
<clipPath id="cc1"><circle cx="119.5" cy="219.70" r="14.899999999999999"/></clipPath>
<circle cx="119.5" cy="219.70" r="15.2" fill="none" stroke="#d4d4d4" stroke-width="0.9"/>
<g clip-path="url(#cc1)"><rect x="104.30" y="218.40" width="30.40" height="4.60" fill="#eef6cb" stroke="none" stroke-width="1" /><rect x="104.30" y="222.80" width="30.40" height="15.20" fill="#f0f0e0" stroke="none" stroke-width="1" /><line x1="130.53" y1="225.57" x2="131.21" y2="226.34" stroke="#c6c69a" stroke-width="0.45" /><line x1="116.45" y1="228.31" x2="114.91" y2="228.53" stroke="#c6c69a" stroke-width="0.45" /><line x1="130.84" y1="223.26" x2="132.27" y2="223.41" stroke="#c6c69a" stroke-width="0.45" /><line x1="131.53" y1="228.63" x2="131.31" y2="229.40" stroke="#c6c69a" stroke-width="0.45" /><line x1="116.20" y1="234.03" x2="114.86" y2="234.85" stroke="#c6c69a" stroke-width="0.45" /><line x1="133.86" y1="225.96" x2="134.74" y2="226.27" stroke="#c6c69a" stroke-width="0.45" /><line x1="120.18" y1="231.12" x2="118.75" y2="231.38" stroke="#c6c69a" stroke-width="0.45" /><line x1="123.98" y1="232.10" x2="124.15" y2="233.39" stroke="#c6c69a" stroke-width="0.45" /><line x1="105.50" y1="232.31" x2="106.71" y2="233.40" stroke="#c6c69a" stroke-width="0.45" /><line x1="123.92" y1="226.62" x2="124.87" y2="227.02" stroke="#c6c69a" stroke-width="0.45" /><line x1="123.64" y1="231.31" x2="124.45" y2="231.61" stroke="#c6c69a" stroke-width="0.45" /><line x1="120.24" y1="229.94" x2="120.59" y2="230.88" stroke="#c6c69a" stroke-width="0.45" /><line x1="122.57" y1="223.12" x2="123.28" y2="224.11" stroke="#c6c69a" stroke-width="0.45" /><line x1="133.45" y1="230.67" x2="132.30" y2="231.11" stroke="#c6c69a" stroke-width="0.45" /><line x1="111.44" y1="225.94" x2="110.01" y2="226.12" stroke="#c6c69a" stroke-width="0.45" /><line x1="113.64" y1="223.26" x2="113.65" y2="224.67" stroke="#c6c69a" stroke-width="0.45" /><line x1="117.07" y1="226.06" x2="116.25" y2="227.47" stroke="#c6c69a" stroke-width="0.45" /><line x1="111.19" y1="223.41" x2="111.77" y2="224.43" stroke="#c6c69a" stroke-width="0.45" /><line x1="125.05" y1="225.36" x2="123.87" y2="226.23" stroke="#c6c69a" stroke-width="0.45" /><line x1="119.65" y1="225.44" x2="118.57" y2="225.54" stroke="#c6c69a" stroke-width="0.45" /><line x1="129.23" y1="225.75" x2="130.37" y2="226.70" stroke="#c6c69a" stroke-width="0.45" /><line x1="113.27" y1="234.33" x2="113.28" y2="235.30" stroke="#c6c69a" stroke-width="0.45" /><line x1="111.09" y1="227.96" x2="110.27" y2="229.40" stroke="#c6c69a" stroke-width="0.45" /><line x1="108.75" y1="227.68" x2="110.07" y2="228.72" stroke="#c6c69a" stroke-width="0.45" /><line x1="108.61" y1="223.62" x2="109.75" y2="223.83" stroke="#c6c69a" stroke-width="0.45" /><line x1="131.60" y1="233.51" x2="130.47" y2="234.78" stroke="#c6c69a" stroke-width="0.45" /><line x1="132.62" y1="226.92" x2="133.99" y2="227.82" stroke="#c6c69a" stroke-width="0.45" /><line x1="126.99" y1="223.38" x2="126.42" y2="224.37" stroke="#c6c69a" stroke-width="0.45" /><line x1="115.67" y1="226.95" x2="116.36" y2="227.35" stroke="#c6c69a" stroke-width="0.45" /><line x1="112.81" y1="227.18" x2="111.90" y2="227.31" stroke="#c6c69a" stroke-width="0.45" /><line x1="133.61" y1="225.47" x2="134.28" y2="226.85" stroke="#c6c69a" stroke-width="0.45" /><line x1="129.29" y1="228.15" x2="130.50" y2="228.34" stroke="#c6c69a" stroke-width="0.45" /><line x1="115.63" y1="233.94" x2="116.56" y2="234.58" stroke="#c6c69a" stroke-width="0.45" /><line x1="131.57" y1="223.36" x2="131.99" y2="224.83" stroke="#c6c69a" stroke-width="0.45" /><line x1="127.61" y1="223.48" x2="128.46" y2="223.58" stroke="#c6c69a" stroke-width="0.45" /><line x1="132.27" y1="226.06" x2="131.14" y2="227.21" stroke="#c6c69a" stroke-width="0.45" /><line x1="114.61" y1="226.24" x2="113.26" y2="226.42" stroke="#c6c69a" stroke-width="0.45" /><line x1="112.27" y1="231.53" x2="112.84" y2="232.41" stroke="#c6c69a" stroke-width="0.45" /><line x1="104.41" y1="231.99" x2="103.09" y2="232.35" stroke="#c6c69a" stroke-width="0.45" /><line x1="132.97" y1="223.29" x2="133.89" y2="224.11" stroke="#c6c69a" stroke-width="0.45" /><line x1="133.39" y1="234.35" x2="133.74" y2="235.31" stroke="#c6c69a" stroke-width="0.45" /><line x1="117.37" y1="228.87" x2="116.43" y2="229.09" stroke="#c6c69a" stroke-width="0.45" /><line x1="128.70" y1="231.79" x2="127.43" y2="232.58" stroke="#c6c69a" stroke-width="0.45" /><line x1="122.76" y1="226.90" x2="123.37" y2="227.85" stroke="#c6c69a" stroke-width="0.45" /><line x1="128.08" y1="223.94" x2="129.28" y2="224.80" stroke="#c6c69a" stroke-width="0.45" /><line x1="111.82" y1="223.77" x2="113.11" y2="223.91" stroke="#c6c69a" stroke-width="0.45" /><line x1="114.20" y1="234.67" x2="112.63" y2="235.27" stroke="#c6c69a" stroke-width="0.45" /><line x1="112.35" y1="224.00" x2="113.54" y2="224.37" stroke="#c6c69a" stroke-width="0.45" /><line x1="125.88" y1="228.32" x2="126.75" y2="229.11" stroke="#c6c69a" stroke-width="0.45" /><line x1="123.16" y1="231.02" x2="122.06" y2="232.13" stroke="#c6c69a" stroke-width="0.45" /><line x1="124.50" y1="224.44" x2="123.56" y2="224.95" stroke="#c6c69a" stroke-width="0.45" /><line x1="121.53" y1="227.44" x2="120.87" y2="228.16" stroke="#c6c69a" stroke-width="0.45" /><line x1="111.82" y1="225.92" x2="113.24" y2="226.66" stroke="#c6c69a" stroke-width="0.45" /><line x1="121.88" y1="226.88" x2="122.42" y2="228.49" stroke="#c6c69a" stroke-width="0.45" /><line x1="119.72" y1="225.75" x2="118.58" y2="226.54" stroke="#c6c69a" stroke-width="0.45" /><line x1="134.43" y1="224.22" x2="134.55" y2="225.75" stroke="#c6c69a" stroke-width="0.45" /><line x1="129.85" y1="233.88" x2="130.91" y2="234.02" stroke="#c6c69a" stroke-width="0.45" /><line x1="107.92" y1="225.26" x2="106.60" y2="225.37" stroke="#c6c69a" stroke-width="0.45" /><line x1="132.58" y1="227.43" x2="131.48" y2="227.92" stroke="#c6c69a" stroke-width="0.45" /><line x1="112.20" y1="232.26" x2="111.32" y2="232.41" stroke="#c6c69a" stroke-width="0.45" /><line x1="122.42" y1="230.38" x2="123.30" y2="231.09" stroke="#c6c69a" stroke-width="0.45" /><line x1="108.60" y1="225.43" x2="109.53" y2="226.39" stroke="#c6c69a" stroke-width="0.45" /><line x1="124.11" y1="225.42" x2="125.20" y2="225.46" stroke="#c6c69a" stroke-width="0.45" /><line x1="124.92" y1="225.20" x2="125.47" y2="226.02" stroke="#c6c69a" stroke-width="0.45" /><line x1="128.48" y1="229.52" x2="129.35" y2="229.70" stroke="#c6c69a" stroke-width="0.45" /><line x1="116.32" y1="229.55" x2="115.94" y2="230.35" stroke="#c6c69a" stroke-width="0.45" /><line x1="109.28" y1="231.28" x2="109.57" y2="232.29" stroke="#c6c69a" stroke-width="0.45" /><line x1="113.65" y1="234.34" x2="114.38" y2="235.43" stroke="#c6c69a" stroke-width="0.45" /><line x1="115.16" y1="227.96" x2="113.61" y2="228.66" stroke="#c6c69a" stroke-width="0.45" /><line x1="115.36" y1="225.35" x2="114.71" y2="226.09" stroke="#c6c69a" stroke-width="0.45" /><line x1="104.48" y1="233.73" x2="104.84" y2="235.22" stroke="#c6c69a" stroke-width="0.45" /><line x1="116.65" y1="233.51" x2="116.76" y2="234.44" stroke="#c6c69a" stroke-width="0.45" /><line x1="104.75" y1="229.56" x2="104.06" y2="231.03" stroke="#c6c69a" stroke-width="0.45" /><line x1="107.01" y1="230.40" x2="107.50" y2="231.56" stroke="#c6c69a" stroke-width="0.45" /><line x1="108.73" y1="226.37" x2="108.63" y2="228.00" stroke="#c6c69a" stroke-width="0.45" /><line x1="107.61" y1="228.84" x2="106.24" y2="229.80" stroke="#c6c69a" stroke-width="0.45" /><line x1="110.30" y1="224.51" x2="108.65" y2="224.81" stroke="#c6c69a" stroke-width="0.45" /><line x1="118.98" y1="223.64" x2="117.86" y2="223.90" stroke="#c6c69a" stroke-width="0.45" /><line x1="131.79" y1="230.38" x2="130.98" y2="230.88" stroke="#c6c69a" stroke-width="0.45" /><line x1="128.19" y1="225.64" x2="128.65" y2="227.13" stroke="#c6c69a" stroke-width="0.45" /><line x1="129.51" y1="225.18" x2="130.41" y2="225.91" stroke="#c6c69a" stroke-width="0.45" /><line x1="120.04" y1="227.56" x2="120.99" y2="227.95" stroke="#c6c69a" stroke-width="0.45" /><line x1="126.34" y1="233.68" x2="127.63" y2="233.85" stroke="#c6c69a" stroke-width="0.45" /><line x1="127.33" y1="223.45" x2="126.54" y2="223.89" stroke="#c6c69a" stroke-width="0.45" /><line x1="122.53" y1="229.55" x2="122.11" y2="230.54" stroke="#c6c69a" stroke-width="0.45" /><line x1="117.07" y1="229.93" x2="117.39" y2="231.29" stroke="#c6c69a" stroke-width="0.45" /><line x1="117.88" y1="228.22" x2="119.24" y2="228.32" stroke="#c6c69a" stroke-width="0.45" /><line x1="119.18" y1="225.80" x2="118.07" y2="226.82" stroke="#c6c69a" stroke-width="0.45" /><line x1="118.23" y1="225.14" x2="118.31" y2="226.03" stroke="#c6c69a" stroke-width="0.45" /><line x1="108.21" y1="228.12" x2="109.35" y2="228.46" stroke="#c6c69a" stroke-width="0.45" /><line x1="119.81" y1="223.49" x2="119.45" y2="224.28" stroke="#c6c69a" stroke-width="0.45" /><line x1="126.60" y1="232.25" x2="126.57" y2="233.10" stroke="#c6c69a" stroke-width="0.45" /><line x1="119.62" y1="227.50" x2="118.71" y2="227.64" stroke="#c6c69a" stroke-width="0.45" /><line x1="130.35" y1="234.85" x2="129.33" y2="236.00" stroke="#c6c69a" stroke-width="0.45" /><line x1="110.19" y1="234.68" x2="110.23" y2="236.34" stroke="#c6c69a" stroke-width="0.45" /><line x1="132.15" y1="224.96" x2="130.86" y2="225.98" stroke="#c6c69a" stroke-width="0.45" /><line x1="106.29" y1="227.18" x2="105.61" y2="227.83" stroke="#c6c69a" stroke-width="0.45" /><line x1="131.55" y1="226.27" x2="130.78" y2="226.78" stroke="#c6c69a" stroke-width="0.45" /><line x1="119.57" y1="233.95" x2="120.39" y2="234.58" stroke="#c6c69a" stroke-width="0.45" /><line x1="119.68" y1="226.80" x2="120.64" y2="226.91" stroke="#c6c69a" stroke-width="0.45" /><line x1="109.20" y1="234.14" x2="108.34" y2="235.50" stroke="#c6c69a" stroke-width="0.45" /><line x1="109.43" y1="232.34" x2="110.62" y2="232.79" stroke="#c6c69a" stroke-width="0.45" /><line x1="123.64" y1="227.28" x2="122.45" y2="227.79" stroke="#c6c69a" stroke-width="0.45" /><line x1="121.93" y1="233.50" x2="123.54" y2="234.05" stroke="#c6c69a" stroke-width="0.45" /><line x1="123.45" y1="227.69" x2="122.61" y2="228.31" stroke="#c6c69a" stroke-width="0.45" /><line x1="134.41" y1="229.87" x2="135.04" y2="231.22" stroke="#c6c69a" stroke-width="0.45" /><line x1="117.75" y1="225.10" x2="117.16" y2="225.71" stroke="#c6c69a" stroke-width="0.45" /><line x1="129.22" y1="226.02" x2="128.51" y2="227.55" stroke="#c6c69a" stroke-width="0.45" /><line x1="122.11" y1="230.90" x2="122.56" y2="231.56" stroke="#c6c69a" stroke-width="0.45" /><line x1="105.33" y1="224.78" x2="104.90" y2="225.89" stroke="#c6c69a" stroke-width="0.45" /><line x1="119.89" y1="233.66" x2="120.80" y2="234.06" stroke="#c6c69a" stroke-width="0.45" /><line x1="124.15" y1="223.27" x2="125.27" y2="223.27" stroke="#c6c69a" stroke-width="0.45" /><line x1="107.53" y1="227.25" x2="108.54" y2="228.11" stroke="#c6c69a" stroke-width="0.45" /><line x1="122.21" y1="225.43" x2="121.74" y2="226.57" stroke="#c6c69a" stroke-width="0.45" /><line x1="108.40" y1="234.15" x2="109.07" y2="234.79" stroke="#c6c69a" stroke-width="0.45" /><line x1="107.21" y1="230.59" x2="105.83" y2="231.19" stroke="#c6c69a" stroke-width="0.45" /><line x1="116.52" y1="226.14" x2="117.90" y2="226.19" stroke="#c6c69a" stroke-width="0.45" /><line x1="121.39" y1="227.17" x2="120.87" y2="228.25" stroke="#c6c69a" stroke-width="0.45" /><line x1="132.79" y1="231.73" x2="133.94" y2="232.86" stroke="#c6c69a" stroke-width="0.45" /><line x1="105.64" y1="229.33" x2="105.93" y2="230.30" stroke="#c6c69a" stroke-width="0.45" /><line x1="106.07" y1="232.27" x2="107.37" y2="232.32" stroke="#c6c69a" stroke-width="0.45" /><line x1="132.90" y1="224.69" x2="134.00" y2="225.48" stroke="#c6c69a" stroke-width="0.45" /><line x1="119.71" y1="230.63" x2="118.91" y2="231.16" stroke="#c6c69a" stroke-width="0.45" /><line x1="113.71" y1="226.57" x2="115.29" y2="226.82" stroke="#c6c69a" stroke-width="0.45" /><line x1="128.10" y1="231.51" x2="129.66" y2="231.54" stroke="#c6c69a" stroke-width="0.45" /><line x1="126.95" y1="228.54" x2="126.12" y2="229.41" stroke="#c6c69a" stroke-width="0.45" /><line x1="111.17" y1="224.25" x2="111.79" y2="224.81" stroke="#c6c69a" stroke-width="0.45" /><line x1="114.50" y1="231.92" x2="113.60" y2="233.20" stroke="#c6c69a" stroke-width="0.45" /><line x1="125.94" y1="226.17" x2="125.73" y2="227.34" stroke="#c6c69a" stroke-width="0.45" /><line x1="128.27" y1="229.23" x2="129.20" y2="230.25" stroke="#c6c69a" stroke-width="0.45" /><circle cx="133.64" cy="225.74" r="0.6" fill="#fff"/><circle cx="131.05" cy="223.38" r="0.6" fill="#fff"/><circle cx="112.22" cy="225.96" r="0.6" fill="#fff"/><circle cx="126.91" cy="234.25" r="0.6" fill="#fff"/><circle cx="126.98" cy="227.02" r="0.6" fill="#fff"/><circle cx="131.06" cy="227.04" r="0.6" fill="#fff"/><circle cx="111.57" cy="233.82" r="0.6" fill="#fff"/><circle cx="123.47" cy="231.31" r="0.6" fill="#fff"/><circle cx="124.52" cy="234.65" r="0.6" fill="#fff"/><circle cx="118.57" cy="233.02" r="0.6" fill="#fff"/><circle cx="125.51" cy="233.23" r="0.6" fill="#fff"/><circle cx="117.59" cy="231.68" r="0.6" fill="#fff"/><circle cx="121.64" cy="226.80" r="0.6" fill="#fff"/><circle cx="110.74" cy="230.48" r="0.6" fill="#fff"/><circle cx="106.67" cy="233.86" r="0.6" fill="#fff"/><circle cx="108.70" cy="223.51" r="0.6" fill="#fff"/><circle cx="107.54" cy="234.07" r="0.6" fill="#fff"/><circle cx="114.78" cy="224.86" r="0.6" fill="#fff"/><circle cx="105.17" cy="223.69" r="0.6" fill="#fff"/><circle cx="125.36" cy="230.62" r="0.6" fill="#fff"/><circle cx="125.49" cy="231.82" r="0.6" fill="#fff"/><circle cx="106.30" cy="230.11" r="0.6" fill="#fff"/><circle cx="115.35" cy="232.77" r="0.6" fill="#fff"/><circle cx="129.21" cy="233.63" r="0.6" fill="#fff"/><circle cx="106.30" cy="233.35" r="0.6" fill="#fff"/><circle cx="132.10" cy="234.25" r="0.6" fill="#fff"/><circle cx="107.56" cy="225.61" r="0.6" fill="#fff"/><circle cx="107.70" cy="223.60" r="0.6" fill="#fff"/><circle cx="130.07" cy="232.70" r="0.6" fill="#fff"/><circle cx="123.58" cy="232.85" r="0.6" fill="#fff"/><circle cx="123.50" cy="226.56" r="0.6" fill="#fff"/><circle cx="107.34" cy="224.34" r="0.6" fill="#fff"/><circle cx="127.32" cy="225.60" r="0.6" fill="#fff"/><circle cx="114.00" cy="228.16" r="0.6" fill="#fff"/><circle cx="104.94" cy="226.20" r="0.6" fill="#fff"/><circle cx="112.89" cy="231.57" r="0.6" fill="#fff"/><circle cx="115.49" cy="226.95" r="0.6" fill="#fff"/><circle cx="133.61" cy="229.09" r="0.6" fill="#fff"/><circle cx="130.18" cy="230.43" r="0.6" fill="#fff"/><circle cx="105.24" cy="228.03" r="0.6" fill="#fff"/><circle cx="117.57" cy="232.24" r="0.6" fill="#fff"/><circle cx="114.84" cy="231.44" r="0.6" fill="#fff"/><circle cx="120.65" cy="225.73" r="0.6" fill="#fff"/><circle cx="130.51" cy="224.26" r="0.6" fill="#fff"/><circle cx="129.22" cy="225.19" r="0.6" fill="#fff"/><circle cx="104.34" cy="225.56" r="0.6" fill="#fff"/><circle cx="127.47" cy="234.64" r="0.6" fill="#fff"/><circle cx="104.43" cy="228.94" r="0.6" fill="#fff"/><circle cx="107.29" cy="221.19" r="0.55" fill="#f8d6cc"/><circle cx="111.08" cy="220.59" r="0.55" fill="#f8d6cc"/><circle cx="115.35" cy="221.26" r="0.55" fill="#f8d6cc"/><circle cx="119.36" cy="221.49" r="0.55" fill="#f8d6cc"/><circle cx="123.48" cy="220.03" r="0.55" fill="#f8d6cc"/><circle cx="128.00" cy="220.60" r="0.55" fill="#f8d6cc"/><circle cx="131.51" cy="220.87" r="0.55" fill="#f8d6cc"/></g>
<path d="M104.62 222.80 A15.2 15.2 0 0 0 134.38 222.80" fill="none" stroke="#cdcdb0" stroke-width="0.8" />
<line x1="119.70" y1="233.70" x2="119.70" y2="239.70" stroke="#a6eaf4" stroke-width="0.85" stroke-dasharray="1.7 1.1"/>
<clipPath id="cc2"><circle cx="119.5" cy="244.20" r="14.899999999999999"/></clipPath>
<circle cx="119.5" cy="244.20" r="15.2" fill="none" stroke="#d4d4d4" stroke-width="0.9"/>
<g clip-path="url(#cc2)"><rect x="104.30" y="241.30" width="30.40" height="4.60" fill="#e9f6c9" stroke="none" stroke-width="1" /><rect x="104.30" y="245.70" width="30.40" height="15.20" fill="#f0f0e0" stroke="none" stroke-width="1" /><line x1="106.76" y1="256.54" x2="105.88" y2="257.76" stroke="#c6c69a" stroke-width="0.45" /><line x1="123.39" y1="250.70" x2="123.74" y2="251.80" stroke="#c6c69a" stroke-width="0.45" /><line x1="131.37" y1="247.06" x2="130.60" y2="247.35" stroke="#c6c69a" stroke-width="0.45" /><line x1="110.57" y1="249.45" x2="109.37" y2="249.84" stroke="#c6c69a" stroke-width="0.45" /><line x1="115.83" y1="257.83" x2="116.73" y2="258.65" stroke="#c6c69a" stroke-width="0.45" /><line x1="120.46" y1="256.09" x2="119.47" y2="257.05" stroke="#c6c69a" stroke-width="0.45" /><line x1="114.89" y1="250.31" x2="116.27" y2="251.04" stroke="#c6c69a" stroke-width="0.45" /><line x1="124.43" y1="255.92" x2="125.46" y2="256.52" stroke="#c6c69a" stroke-width="0.45" /><line x1="127.81" y1="253.72" x2="128.93" y2="254.19" stroke="#c6c69a" stroke-width="0.45" /><line x1="131.21" y1="249.11" x2="132.09" y2="249.72" stroke="#c6c69a" stroke-width="0.45" /><line x1="125.68" y1="257.29" x2="126.51" y2="257.73" stroke="#c6c69a" stroke-width="0.45" /><line x1="111.83" y1="250.31" x2="111.76" y2="251.25" stroke="#c6c69a" stroke-width="0.45" /><line x1="114.27" y1="248.46" x2="112.82" y2="248.57" stroke="#c6c69a" stroke-width="0.45" /><line x1="107.39" y1="258.89" x2="108.48" y2="259.25" stroke="#c6c69a" stroke-width="0.45" /><line x1="134.21" y1="256.63" x2="133.41" y2="257.52" stroke="#c6c69a" stroke-width="0.45" /><line x1="110.26" y1="254.51" x2="111.19" y2="254.84" stroke="#c6c69a" stroke-width="0.45" /><line x1="116.11" y1="246.36" x2="116.58" y2="247.79" stroke="#c6c69a" stroke-width="0.45" /><line x1="125.38" y1="252.66" x2="124.89" y2="253.77" stroke="#c6c69a" stroke-width="0.45" /><line x1="108.61" y1="254.05" x2="109.04" y2="255.45" stroke="#c6c69a" stroke-width="0.45" /><line x1="131.90" y1="251.71" x2="131.56" y2="253.14" stroke="#c6c69a" stroke-width="0.45" /><line x1="117.10" y1="248.99" x2="116.08" y2="250.21" stroke="#c6c69a" stroke-width="0.45" /><line x1="127.83" y1="255.35" x2="126.57" y2="255.98" stroke="#c6c69a" stroke-width="0.45" /><line x1="123.80" y1="252.03" x2="124.56" y2="253.16" stroke="#c6c69a" stroke-width="0.45" /><line x1="107.28" y1="251.56" x2="106.16" y2="252.48" stroke="#c6c69a" stroke-width="0.45" /><line x1="123.44" y1="249.28" x2="123.73" y2="250.45" stroke="#c6c69a" stroke-width="0.45" /><line x1="123.20" y1="251.43" x2="122.34" y2="252.82" stroke="#c6c69a" stroke-width="0.45" /><line x1="109.87" y1="254.74" x2="108.98" y2="255.47" stroke="#c6c69a" stroke-width="0.45" /><line x1="119.19" y1="259.06" x2="120.47" y2="259.21" stroke="#c6c69a" stroke-width="0.45" /><line x1="109.19" y1="256.45" x2="107.94" y2="256.69" stroke="#c6c69a" stroke-width="0.45" /><line x1="107.37" y1="253.66" x2="107.19" y2="255.09" stroke="#c6c69a" stroke-width="0.45" /><line x1="119.87" y1="254.53" x2="118.78" y2="255.18" stroke="#c6c69a" stroke-width="0.45" /><line x1="116.77" y1="258.70" x2="117.89" y2="259.57" stroke="#c6c69a" stroke-width="0.45" /><line x1="116.23" y1="256.20" x2="117.79" y2="256.83" stroke="#c6c69a" stroke-width="0.45" /><line x1="115.11" y1="246.66" x2="115.86" y2="247.54" stroke="#c6c69a" stroke-width="0.45" /><line x1="104.70" y1="251.55" x2="105.06" y2="252.94" stroke="#c6c69a" stroke-width="0.45" /><line x1="115.00" y1="249.48" x2="116.12" y2="250.43" stroke="#c6c69a" stroke-width="0.45" /><line x1="132.87" y1="253.02" x2="134.05" y2="253.98" stroke="#c6c69a" stroke-width="0.45" /><line x1="116.22" y1="248.76" x2="117.59" y2="249.35" stroke="#c6c69a" stroke-width="0.45" /><line x1="128.91" y1="254.46" x2="129.04" y2="255.76" stroke="#c6c69a" stroke-width="0.45" /><line x1="111.17" y1="258.91" x2="111.78" y2="260.14" stroke="#c6c69a" stroke-width="0.45" /><line x1="129.19" y1="256.92" x2="129.30" y2="257.98" stroke="#c6c69a" stroke-width="0.45" /><line x1="120.97" y1="247.59" x2="120.00" y2="248.15" stroke="#c6c69a" stroke-width="0.45" /><line x1="130.16" y1="249.51" x2="130.55" y2="250.46" stroke="#c6c69a" stroke-width="0.45" /><line x1="117.25" y1="248.41" x2="118.70" y2="248.42" stroke="#c6c69a" stroke-width="0.45" /><line x1="112.85" y1="249.21" x2="113.57" y2="250.21" stroke="#c6c69a" stroke-width="0.45" /><line x1="117.33" y1="254.50" x2="116.79" y2="255.49" stroke="#c6c69a" stroke-width="0.45" /><line x1="132.53" y1="257.44" x2="134.05" y2="257.71" stroke="#c6c69a" stroke-width="0.45" /><line x1="131.84" y1="256.48" x2="133.24" y2="257.15" stroke="#c6c69a" stroke-width="0.45" /><line x1="123.55" y1="246.10" x2="125.20" y2="246.16" stroke="#c6c69a" stroke-width="0.45" /><line x1="124.24" y1="249.28" x2="125.12" y2="249.57" stroke="#c6c69a" stroke-width="0.45" /><line x1="111.40" y1="256.38" x2="111.84" y2="257.21" stroke="#c6c69a" stroke-width="0.45" /><line x1="131.78" y1="256.59" x2="133.17" y2="257.39" stroke="#c6c69a" stroke-width="0.45" /><line x1="122.79" y1="256.45" x2="121.98" y2="257.83" stroke="#c6c69a" stroke-width="0.45" /><line x1="128.26" y1="257.22" x2="129.42" y2="258.05" stroke="#c6c69a" stroke-width="0.45" /><line x1="120.44" y1="255.92" x2="120.74" y2="257.48" stroke="#c6c69a" stroke-width="0.45" /><line x1="121.17" y1="249.47" x2="121.86" y2="250.09" stroke="#c6c69a" stroke-width="0.45" /><line x1="119.29" y1="246.69" x2="119.39" y2="247.61" stroke="#c6c69a" stroke-width="0.45" /><line x1="119.24" y1="252.63" x2="119.04" y2="254.19" stroke="#c6c69a" stroke-width="0.45" /><line x1="104.50" y1="257.25" x2="104.63" y2="258.55" stroke="#c6c69a" stroke-width="0.45" /><line x1="124.53" y1="257.25" x2="124.98" y2="258.33" stroke="#c6c69a" stroke-width="0.45" /><line x1="133.50" y1="246.92" x2="132.93" y2="248.17" stroke="#c6c69a" stroke-width="0.45" /><line x1="105.17" y1="254.13" x2="104.28" y2="255.51" stroke="#c6c69a" stroke-width="0.45" /><line x1="114.35" y1="259.15" x2="114.30" y2="260.39" stroke="#c6c69a" stroke-width="0.45" /><line x1="131.59" y1="246.36" x2="130.72" y2="247.41" stroke="#c6c69a" stroke-width="0.45" /><line x1="114.59" y1="257.53" x2="115.09" y2="258.65" stroke="#c6c69a" stroke-width="0.45" /><line x1="120.28" y1="256.30" x2="121.22" y2="257.04" stroke="#c6c69a" stroke-width="0.45" /><line x1="117.14" y1="253.38" x2="116.23" y2="253.93" stroke="#c6c69a" stroke-width="0.45" /><line x1="129.46" y1="251.35" x2="129.45" y2="252.39" stroke="#c6c69a" stroke-width="0.45" /><line x1="119.70" y1="259.06" x2="118.99" y2="260.40" stroke="#c6c69a" stroke-width="0.45" /><line x1="114.36" y1="250.18" x2="115.14" y2="251.25" stroke="#c6c69a" stroke-width="0.45" /><line x1="123.60" y1="256.49" x2="125.04" y2="256.67" stroke="#c6c69a" stroke-width="0.45" /><line x1="131.22" y1="253.26" x2="132.28" y2="253.43" stroke="#c6c69a" stroke-width="0.45" /><line x1="104.49" y1="248.46" x2="103.18" y2="248.79" stroke="#c6c69a" stroke-width="0.45" /><line x1="124.30" y1="256.55" x2="123.01" y2="256.93" stroke="#c6c69a" stroke-width="0.45" /><line x1="123.05" y1="254.36" x2="122.27" y2="255.45" stroke="#c6c69a" stroke-width="0.45" /><line x1="125.00" y1="248.77" x2="124.39" y2="249.82" stroke="#c6c69a" stroke-width="0.45" /><line x1="127.49" y1="247.27" x2="128.19" y2="247.72" stroke="#c6c69a" stroke-width="0.45" /><line x1="127.85" y1="258.24" x2="127.31" y2="259.24" stroke="#c6c69a" stroke-width="0.45" /><line x1="129.31" y1="256.52" x2="129.11" y2="257.53" stroke="#c6c69a" stroke-width="0.45" /><line x1="113.48" y1="251.59" x2="114.12" y2="252.59" stroke="#c6c69a" stroke-width="0.45" /><line x1="123.81" y1="258.51" x2="125.10" y2="258.73" stroke="#c6c69a" stroke-width="0.45" /><line x1="105.50" y1="247.50" x2="104.41" y2="248.24" stroke="#c6c69a" stroke-width="0.45" /><line x1="132.23" y1="251.93" x2="133.37" y2="251.98" stroke="#c6c69a" stroke-width="0.45" /><line x1="122.30" y1="258.56" x2="121.07" y2="258.63" stroke="#c6c69a" stroke-width="0.45" /><line x1="116.84" y1="247.28" x2="116.40" y2="248.17" stroke="#c6c69a" stroke-width="0.45" /><line x1="108.91" y1="246.11" x2="110.33" y2="246.13" stroke="#c6c69a" stroke-width="0.45" /><line x1="108.00" y1="258.95" x2="109.52" y2="259.38" stroke="#c6c69a" stroke-width="0.45" /><line x1="108.22" y1="246.14" x2="107.57" y2="246.93" stroke="#c6c69a" stroke-width="0.45" /><line x1="126.60" y1="248.43" x2="128.08" y2="248.66" stroke="#c6c69a" stroke-width="0.45" /><line x1="125.99" y1="257.45" x2="125.41" y2="258.11" stroke="#c6c69a" stroke-width="0.45" /><line x1="123.41" y1="255.47" x2="123.61" y2="257.10" stroke="#c6c69a" stroke-width="0.45" /><line x1="112.02" y1="258.92" x2="111.51" y2="259.55" stroke="#c6c69a" stroke-width="0.45" /><line x1="104.75" y1="254.68" x2="104.02" y2="255.16" stroke="#c6c69a" stroke-width="0.45" /><line x1="113.76" y1="255.75" x2="115.12" y2="256.53" stroke="#c6c69a" stroke-width="0.45" /><line x1="119.08" y1="246.71" x2="119.62" y2="247.91" stroke="#c6c69a" stroke-width="0.45" /><line x1="117.64" y1="255.04" x2="119.00" y2="255.71" stroke="#c6c69a" stroke-width="0.45" /><line x1="115.34" y1="254.61" x2="114.88" y2="255.69" stroke="#c6c69a" stroke-width="0.45" /><line x1="116.03" y1="256.51" x2="114.54" y2="256.77" stroke="#c6c69a" stroke-width="0.45" /><line x1="121.53" y1="249.85" x2="123.18" y2="250.16" stroke="#c6c69a" stroke-width="0.45" /><line x1="125.68" y1="257.07" x2="126.36" y2="258.23" stroke="#c6c69a" stroke-width="0.45" /><line x1="134.01" y1="257.12" x2="133.68" y2="258.15" stroke="#c6c69a" stroke-width="0.45" /><line x1="117.33" y1="257.89" x2="117.86" y2="259.20" stroke="#c6c69a" stroke-width="0.45" /><line x1="122.59" y1="258.00" x2="121.73" y2="258.60" stroke="#c6c69a" stroke-width="0.45" /><line x1="104.35" y1="249.45" x2="104.67" y2="250.74" stroke="#c6c69a" stroke-width="0.45" /><line x1="129.11" y1="257.88" x2="130.64" y2="258.09" stroke="#c6c69a" stroke-width="0.45" /><line x1="128.98" y1="257.61" x2="128.74" y2="258.63" stroke="#c6c69a" stroke-width="0.45" /><line x1="130.18" y1="256.79" x2="129.29" y2="258.15" stroke="#c6c69a" stroke-width="0.45" /><line x1="114.84" y1="247.05" x2="114.59" y2="248.54" stroke="#c6c69a" stroke-width="0.45" /><line x1="110.39" y1="256.03" x2="109.41" y2="256.24" stroke="#c6c69a" stroke-width="0.45" /><line x1="122.75" y1="255.05" x2="122.86" y2="256.03" stroke="#c6c69a" stroke-width="0.45" /><line x1="112.04" y1="256.04" x2="111.08" y2="256.78" stroke="#c6c69a" stroke-width="0.45" /><line x1="106.97" y1="256.79" x2="106.20" y2="257.45" stroke="#c6c69a" stroke-width="0.45" /><line x1="121.92" y1="258.01" x2="120.73" y2="258.46" stroke="#c6c69a" stroke-width="0.45" /><line x1="118.79" y1="253.86" x2="119.59" y2="254.40" stroke="#c6c69a" stroke-width="0.45" /><line x1="109.79" y1="255.36" x2="110.34" y2="256.55" stroke="#c6c69a" stroke-width="0.45" /><line x1="116.54" y1="252.88" x2="117.29" y2="253.26" stroke="#c6c69a" stroke-width="0.45" /><line x1="134.61" y1="250.95" x2="135.91" y2="251.40" stroke="#c6c69a" stroke-width="0.45" /><line x1="128.24" y1="248.01" x2="127.90" y2="249.07" stroke="#c6c69a" stroke-width="0.45" /><line x1="120.09" y1="246.18" x2="121.77" y2="246.36" stroke="#c6c69a" stroke-width="0.45" /><line x1="130.63" y1="252.47" x2="130.41" y2="253.48" stroke="#c6c69a" stroke-width="0.45" /><line x1="127.99" y1="251.65" x2="126.52" y2="251.90" stroke="#c6c69a" stroke-width="0.45" /><line x1="129.19" y1="258.91" x2="129.77" y2="259.50" stroke="#c6c69a" stroke-width="0.45" /><line x1="110.41" y1="248.34" x2="111.23" y2="248.56" stroke="#c6c69a" stroke-width="0.45" /><line x1="121.24" y1="257.65" x2="121.46" y2="259.29" stroke="#c6c69a" stroke-width="0.45" /><line x1="131.96" y1="246.77" x2="131.61" y2="247.87" stroke="#c6c69a" stroke-width="0.45" /><line x1="107.95" y1="258.85" x2="108.85" y2="259.80" stroke="#c6c69a" stroke-width="0.45" /><line x1="123.78" y1="258.81" x2="123.19" y2="259.81" stroke="#c6c69a" stroke-width="0.45" /><line x1="117.93" y1="248.06" x2="116.25" y2="248.24" stroke="#c6c69a" stroke-width="0.45" /><line x1="111.04" y1="246.42" x2="111.82" y2="247.23" stroke="#c6c69a" stroke-width="0.45" /><line x1="131.74" y1="258.11" x2="131.01" y2="258.52" stroke="#c6c69a" stroke-width="0.45" /><circle cx="128.21" cy="255.54" r="0.6" fill="#fff"/><circle cx="123.96" cy="259.21" r="0.6" fill="#fff"/><circle cx="106.00" cy="248.03" r="0.6" fill="#fff"/><circle cx="127.25" cy="258.59" r="0.6" fill="#fff"/><circle cx="124.88" cy="250.07" r="0.6" fill="#fff"/><circle cx="122.28" cy="256.18" r="0.6" fill="#fff"/><circle cx="107.50" cy="250.41" r="0.6" fill="#fff"/><circle cx="112.11" cy="247.75" r="0.6" fill="#fff"/><circle cx="118.93" cy="248.34" r="0.6" fill="#fff"/><circle cx="111.55" cy="248.00" r="0.6" fill="#fff"/><circle cx="124.90" cy="246.27" r="0.6" fill="#fff"/><circle cx="126.10" cy="248.69" r="0.6" fill="#fff"/><circle cx="105.39" cy="258.44" r="0.6" fill="#fff"/><circle cx="111.00" cy="258.52" r="0.6" fill="#fff"/><circle cx="130.65" cy="257.92" r="0.6" fill="#fff"/><circle cx="108.55" cy="252.05" r="0.6" fill="#fff"/><circle cx="107.25" cy="258.45" r="0.6" fill="#fff"/><circle cx="129.90" cy="254.46" r="0.6" fill="#fff"/><circle cx="118.05" cy="250.62" r="0.6" fill="#fff"/><circle cx="129.32" cy="252.45" r="0.6" fill="#fff"/><circle cx="123.40" cy="248.00" r="0.6" fill="#fff"/><circle cx="111.04" cy="246.85" r="0.6" fill="#fff"/><circle cx="126.00" cy="253.46" r="0.6" fill="#fff"/><circle cx="108.70" cy="257.68" r="0.6" fill="#fff"/><circle cx="112.40" cy="251.58" r="0.6" fill="#fff"/><circle cx="109.03" cy="249.71" r="0.6" fill="#fff"/><circle cx="129.82" cy="250.55" r="0.6" fill="#fff"/><circle cx="109.40" cy="252.63" r="0.6" fill="#fff"/><circle cx="113.97" cy="258.11" r="0.6" fill="#fff"/><circle cx="107.77" cy="259.12" r="0.6" fill="#fff"/><circle cx="106.03" cy="258.00" r="0.6" fill="#fff"/><circle cx="124.62" cy="248.91" r="0.6" fill="#fff"/><circle cx="118.81" cy="249.91" r="0.6" fill="#fff"/><circle cx="112.14" cy="248.78" r="0.6" fill="#fff"/><circle cx="115.37" cy="259.28" r="0.6" fill="#fff"/><circle cx="134.64" cy="258.40" r="0.6" fill="#fff"/><circle cx="107.27" cy="249.95" r="0.6" fill="#fff"/><circle cx="131.54" cy="246.86" r="0.6" fill="#fff"/><circle cx="126.38" cy="250.00" r="0.6" fill="#fff"/><circle cx="134.05" cy="246.31" r="0.6" fill="#fff"/><circle cx="128.83" cy="250.63" r="0.6" fill="#fff"/><circle cx="108.56" cy="246.13" r="0.6" fill="#fff"/><circle cx="129.60" cy="253.10" r="0.6" fill="#fff"/><circle cx="109.95" cy="251.89" r="0.6" fill="#fff"/><circle cx="132.02" cy="249.00" r="0.6" fill="#fff"/><circle cx="121.67" cy="247.94" r="0.6" fill="#fff"/><circle cx="109.78" cy="256.35" r="0.6" fill="#fff"/><circle cx="125.93" cy="248.72" r="0.6" fill="#fff"/><circle cx="106.88" cy="242.67" r="0.8" fill="#f6bcdc"/><circle cx="111.51" cy="243.49" r="0.8" fill="#f6bcdc"/><circle cx="115.27" cy="242.91" r="0.8" fill="#f6bcdc"/><circle cx="119.71" cy="243.92" r="0.8" fill="#f6bcdc"/><circle cx="124.01" cy="243.67" r="0.8" fill="#f6bcdc"/><circle cx="127.50" cy="242.63" r="0.8" fill="#f6bcdc"/><circle cx="132.13" cy="243.32" r="0.8" fill="#f6bcdc"/></g>
<path d="M104.37 245.70 A15.2 15.2 0 0 0 134.63 245.70" fill="none" stroke="#cdcdb0" stroke-width="0.8" />
<line x1="119.70" y1="258.20" x2="119.70" y2="264.90" stroke="#a6eaf4" stroke-width="0.85" stroke-dasharray="1.7 1.1"/>
<clipPath id="cc3"><circle cx="119.5" cy="268.70" r="14.899999999999999"/></clipPath>
<circle cx="119.5" cy="268.70" r="15.2" fill="none" stroke="#d4d4d4" stroke-width="0.9"/>
<g clip-path="url(#cc3)"><rect x="104.30" y="266.50" width="30.40" height="4.60" fill="#dbf5cd" stroke="none" stroke-width="1" /><rect x="104.30" y="270.90" width="30.40" height="15.20" fill="#f0f0e0" stroke="none" stroke-width="1" /><line x1="126.24" y1="271.81" x2="125.33" y2="272.43" stroke="#c6c69a" stroke-width="0.45" /><line x1="129.89" y1="282.17" x2="129.91" y2="282.98" stroke="#c6c69a" stroke-width="0.45" /><line x1="131.97" y1="277.20" x2="131.01" y2="277.61" stroke="#c6c69a" stroke-width="0.45" /><line x1="109.96" y1="281.74" x2="110.34" y2="282.61" stroke="#c6c69a" stroke-width="0.45" /><line x1="115.58" y1="278.71" x2="116.85" y2="278.73" stroke="#c6c69a" stroke-width="0.45" /><line x1="117.85" y1="277.70" x2="119.19" y2="278.23" stroke="#c6c69a" stroke-width="0.45" /><line x1="129.12" y1="282.18" x2="129.89" y2="283.40" stroke="#c6c69a" stroke-width="0.45" /><line x1="115.89" y1="280.72" x2="117.45" y2="281.02" stroke="#c6c69a" stroke-width="0.45" /><line x1="133.30" y1="277.43" x2="133.25" y2="278.71" stroke="#c6c69a" stroke-width="0.45" /><line x1="120.63" y1="271.36" x2="119.64" y2="271.47" stroke="#c6c69a" stroke-width="0.45" /><line x1="109.84" y1="272.41" x2="110.93" y2="273.50" stroke="#c6c69a" stroke-width="0.45" /><line x1="105.21" y1="272.33" x2="104.64" y2="273.13" stroke="#c6c69a" stroke-width="0.45" /><line x1="104.84" y1="278.77" x2="104.54" y2="280.01" stroke="#c6c69a" stroke-width="0.45" /><line x1="125.66" y1="272.42" x2="124.33" y2="272.99" stroke="#c6c69a" stroke-width="0.45" /><line x1="105.67" y1="272.68" x2="105.70" y2="273.93" stroke="#c6c69a" stroke-width="0.45" /><line x1="112.80" y1="272.66" x2="113.07" y2="273.55" stroke="#c6c69a" stroke-width="0.45" /><line x1="122.29" y1="282.12" x2="123.47" y2="282.71" stroke="#c6c69a" stroke-width="0.45" /><line x1="127.00" y1="273.20" x2="125.59" y2="274.06" stroke="#c6c69a" stroke-width="0.45" /><line x1="116.12" y1="276.48" x2="115.00" y2="277.10" stroke="#c6c69a" stroke-width="0.45" /><line x1="116.33" y1="283.15" x2="115.48" y2="283.86" stroke="#c6c69a" stroke-width="0.45" /><line x1="111.61" y1="275.39" x2="111.95" y2="277.04" stroke="#c6c69a" stroke-width="0.45" /><line x1="128.75" y1="282.78" x2="127.45" y2="283.64" stroke="#c6c69a" stroke-width="0.45" /><line x1="105.93" y1="277.72" x2="104.30" y2="277.94" stroke="#c6c69a" stroke-width="0.45" /><line x1="111.88" y1="276.50" x2="111.42" y2="277.53" stroke="#c6c69a" stroke-width="0.45" /><line x1="120.44" y1="271.99" x2="120.70" y2="273.21" stroke="#c6c69a" stroke-width="0.45" /><line x1="104.93" y1="272.88" x2="103.44" y2="273.03" stroke="#c6c69a" stroke-width="0.45" /><line x1="132.78" y1="279.21" x2="131.46" y2="280.11" stroke="#c6c69a" stroke-width="0.45" /><line x1="131.19" y1="271.54" x2="130.75" y2="272.48" stroke="#c6c69a" stroke-width="0.45" /><line x1="124.92" y1="274.60" x2="124.71" y2="276.22" stroke="#c6c69a" stroke-width="0.45" /><line x1="123.19" y1="274.31" x2="123.11" y2="275.50" stroke="#c6c69a" stroke-width="0.45" /><line x1="133.21" y1="274.78" x2="134.00" y2="275.91" stroke="#c6c69a" stroke-width="0.45" /><line x1="107.96" y1="278.71" x2="106.71" y2="278.88" stroke="#c6c69a" stroke-width="0.45" /><line x1="112.46" y1="277.07" x2="112.36" y2="278.00" stroke="#c6c69a" stroke-width="0.45" /><line x1="108.07" y1="272.78" x2="108.77" y2="273.71" stroke="#c6c69a" stroke-width="0.45" /><line x1="113.06" y1="274.22" x2="114.31" y2="274.57" stroke="#c6c69a" stroke-width="0.45" /><line x1="129.83" y1="278.91" x2="129.53" y2="280.26" stroke="#c6c69a" stroke-width="0.45" /><line x1="110.42" y1="280.19" x2="110.57" y2="281.48" stroke="#c6c69a" stroke-width="0.45" /><line x1="122.93" y1="277.10" x2="123.50" y2="277.95" stroke="#c6c69a" stroke-width="0.45" /><line x1="111.04" y1="277.66" x2="111.51" y2="278.90" stroke="#c6c69a" stroke-width="0.45" /><line x1="104.66" y1="275.61" x2="103.74" y2="276.04" stroke="#c6c69a" stroke-width="0.45" /><line x1="121.22" y1="277.39" x2="122.28" y2="278.71" stroke="#c6c69a" stroke-width="0.45" /><line x1="113.28" y1="280.98" x2="114.04" y2="281.39" stroke="#c6c69a" stroke-width="0.45" /><line x1="130.79" y1="276.73" x2="131.91" y2="276.95" stroke="#c6c69a" stroke-width="0.45" /><line x1="117.67" y1="280.51" x2="118.62" y2="280.85" stroke="#c6c69a" stroke-width="0.45" /><line x1="133.46" y1="280.55" x2="134.44" y2="281.07" stroke="#c6c69a" stroke-width="0.45" /><line x1="115.01" y1="279.74" x2="114.46" y2="281.21" stroke="#c6c69a" stroke-width="0.45" /><line x1="129.26" y1="277.73" x2="128.26" y2="278.80" stroke="#c6c69a" stroke-width="0.45" /><line x1="127.39" y1="277.18" x2="126.27" y2="278.08" stroke="#c6c69a" stroke-width="0.45" /><line x1="132.11" y1="272.73" x2="131.37" y2="273.05" stroke="#c6c69a" stroke-width="0.45" /><line x1="127.58" y1="278.60" x2="127.59" y2="280.27" stroke="#c6c69a" stroke-width="0.45" /><line x1="121.69" y1="276.45" x2="120.45" y2="277.45" stroke="#c6c69a" stroke-width="0.45" /><line x1="122.76" y1="275.96" x2="122.94" y2="277.16" stroke="#c6c69a" stroke-width="0.45" /><line x1="126.28" y1="274.85" x2="126.72" y2="276.07" stroke="#c6c69a" stroke-width="0.45" /><line x1="115.99" y1="275.22" x2="114.76" y2="276.19" stroke="#c6c69a" stroke-width="0.45" /><line x1="119.49" y1="276.78" x2="120.39" y2="277.37" stroke="#c6c69a" stroke-width="0.45" /><line x1="108.71" y1="278.47" x2="108.48" y2="279.32" stroke="#c6c69a" stroke-width="0.45" /><line x1="132.27" y1="275.25" x2="130.90" y2="275.98" stroke="#c6c69a" stroke-width="0.45" /><line x1="133.45" y1="273.72" x2="133.82" y2="275.29" stroke="#c6c69a" stroke-width="0.45" /><line x1="104.63" y1="271.71" x2="104.37" y2="272.93" stroke="#c6c69a" stroke-width="0.45" /><line x1="132.28" y1="281.00" x2="132.07" y2="282.69" stroke="#c6c69a" stroke-width="0.45" /><line x1="120.03" y1="277.72" x2="119.40" y2="278.68" stroke="#c6c69a" stroke-width="0.45" /><line x1="115.17" y1="278.71" x2="115.92" y2="280.19" stroke="#c6c69a" stroke-width="0.45" /><line x1="124.86" y1="277.82" x2="125.95" y2="278.17" stroke="#c6c69a" stroke-width="0.45" /><line x1="116.49" y1="278.29" x2="116.12" y2="279.83" stroke="#c6c69a" stroke-width="0.45" /><line x1="133.62" y1="277.33" x2="133.87" y2="278.67" stroke="#c6c69a" stroke-width="0.45" /><line x1="134.58" y1="275.49" x2="134.44" y2="277.02" stroke="#c6c69a" stroke-width="0.45" /><line x1="109.49" y1="275.17" x2="107.95" y2="275.28" stroke="#c6c69a" stroke-width="0.45" /><line x1="119.88" y1="272.51" x2="118.54" y2="272.98" stroke="#c6c69a" stroke-width="0.45" /><line x1="129.24" y1="283.78" x2="128.14" y2="284.18" stroke="#c6c69a" stroke-width="0.45" /><line x1="109.05" y1="274.81" x2="109.01" y2="276.06" stroke="#c6c69a" stroke-width="0.45" /><line x1="110.02" y1="273.43" x2="109.48" y2="274.67" stroke="#c6c69a" stroke-width="0.45" /><line x1="115.04" y1="283.82" x2="114.69" y2="284.58" stroke="#c6c69a" stroke-width="0.45" /><line x1="116.81" y1="281.18" x2="117.62" y2="282.35" stroke="#c6c69a" stroke-width="0.45" /><line x1="104.42" y1="275.00" x2="103.25" y2="275.63" stroke="#c6c69a" stroke-width="0.45" /><line x1="124.61" y1="273.62" x2="124.62" y2="274.92" stroke="#c6c69a" stroke-width="0.45" /><line x1="112.39" y1="279.38" x2="112.22" y2="281.07" stroke="#c6c69a" stroke-width="0.45" /><line x1="121.76" y1="276.36" x2="122.64" y2="276.71" stroke="#c6c69a" stroke-width="0.45" /><line x1="127.39" y1="272.47" x2="128.30" y2="272.76" stroke="#c6c69a" stroke-width="0.45" /><line x1="120.18" y1="281.64" x2="119.65" y2="283.07" stroke="#c6c69a" stroke-width="0.45" /><line x1="106.19" y1="271.26" x2="105.37" y2="271.98" stroke="#c6c69a" stroke-width="0.45" /><line x1="126.05" y1="275.63" x2="126.95" y2="276.16" stroke="#c6c69a" stroke-width="0.45" /><line x1="107.32" y1="282.67" x2="107.04" y2="283.75" stroke="#c6c69a" stroke-width="0.45" /><line x1="117.98" y1="276.04" x2="119.55" y2="276.31" stroke="#c6c69a" stroke-width="0.45" /><line x1="122.01" y1="283.38" x2="122.27" y2="284.72" stroke="#c6c69a" stroke-width="0.45" /><line x1="111.88" y1="271.66" x2="110.35" y2="272.00" stroke="#c6c69a" stroke-width="0.45" /><line x1="113.87" y1="282.61" x2="112.97" y2="283.19" stroke="#c6c69a" stroke-width="0.45" /><line x1="122.62" y1="283.39" x2="122.64" y2="285.04" stroke="#c6c69a" stroke-width="0.45" /><line x1="111.69" y1="276.09" x2="111.05" y2="276.86" stroke="#c6c69a" stroke-width="0.45" /><line x1="113.70" y1="282.30" x2="113.77" y2="283.82" stroke="#c6c69a" stroke-width="0.45" /><line x1="111.70" y1="273.32" x2="112.12" y2="274.19" stroke="#c6c69a" stroke-width="0.45" /><line x1="133.84" y1="274.82" x2="133.66" y2="275.71" stroke="#c6c69a" stroke-width="0.45" /><line x1="120.53" y1="276.04" x2="120.78" y2="276.86" stroke="#c6c69a" stroke-width="0.45" /><line x1="108.05" y1="281.67" x2="108.51" y2="282.58" stroke="#c6c69a" stroke-width="0.45" /><line x1="110.11" y1="274.73" x2="110.72" y2="275.29" stroke="#c6c69a" stroke-width="0.45" /><line x1="124.49" y1="275.47" x2="125.76" y2="276.15" stroke="#c6c69a" stroke-width="0.45" /><line x1="107.12" y1="274.55" x2="106.32" y2="275.01" stroke="#c6c69a" stroke-width="0.45" /><line x1="117.78" y1="281.80" x2="117.00" y2="282.35" stroke="#c6c69a" stroke-width="0.45" /><line x1="115.03" y1="280.35" x2="115.66" y2="281.89" stroke="#c6c69a" stroke-width="0.45" /><line x1="110.62" y1="283.27" x2="110.61" y2="284.28" stroke="#c6c69a" stroke-width="0.45" /><line x1="118.06" y1="272.78" x2="117.44" y2="273.60" stroke="#c6c69a" stroke-width="0.45" /><line x1="131.65" y1="278.62" x2="132.06" y2="279.56" stroke="#c6c69a" stroke-width="0.45" /><line x1="122.79" y1="273.82" x2="121.95" y2="274.18" stroke="#c6c69a" stroke-width="0.45" /><line x1="119.90" y1="278.05" x2="120.88" y2="279.17" stroke="#c6c69a" stroke-width="0.45" /><line x1="116.00" y1="279.52" x2="115.77" y2="280.57" stroke="#c6c69a" stroke-width="0.45" /><line x1="116.15" y1="272.20" x2="117.48" y2="273.03" stroke="#c6c69a" stroke-width="0.45" /><line x1="114.06" y1="279.58" x2="115.29" y2="280.02" stroke="#c6c69a" stroke-width="0.45" /><line x1="115.29" y1="277.50" x2="115.80" y2="278.20" stroke="#c6c69a" stroke-width="0.45" /><line x1="113.76" y1="274.00" x2="115.10" y2="274.56" stroke="#c6c69a" stroke-width="0.45" /><line x1="112.88" y1="276.26" x2="111.45" y2="276.69" stroke="#c6c69a" stroke-width="0.45" /><line x1="131.14" y1="282.12" x2="132.10" y2="282.55" stroke="#c6c69a" stroke-width="0.45" /><line x1="105.20" y1="279.80" x2="104.65" y2="280.77" stroke="#c6c69a" stroke-width="0.45" /><line x1="116.84" y1="279.54" x2="116.24" y2="280.37" stroke="#c6c69a" stroke-width="0.45" /><line x1="130.04" y1="275.61" x2="129.66" y2="276.49" stroke="#c6c69a" stroke-width="0.45" /><line x1="107.80" y1="282.78" x2="106.84" y2="283.85" stroke="#c6c69a" stroke-width="0.45" /><line x1="105.53" y1="271.61" x2="106.38" y2="272.09" stroke="#c6c69a" stroke-width="0.45" /><line x1="113.51" y1="275.97" x2="114.59" y2="276.11" stroke="#c6c69a" stroke-width="0.45" /><line x1="123.70" y1="273.40" x2="122.56" y2="274.03" stroke="#c6c69a" stroke-width="0.45" /><line x1="126.09" y1="274.36" x2="126.37" y2="275.75" stroke="#c6c69a" stroke-width="0.45" /><line x1="114.91" y1="271.11" x2="113.61" y2="271.86" stroke="#c6c69a" stroke-width="0.45" /><line x1="113.00" y1="271.65" x2="111.80" y2="272.25" stroke="#c6c69a" stroke-width="0.45" /><line x1="105.74" y1="274.23" x2="107.16" y2="274.75" stroke="#c6c69a" stroke-width="0.45" /><line x1="110.69" y1="282.81" x2="110.07" y2="283.43" stroke="#c6c69a" stroke-width="0.45" /><line x1="125.42" y1="276.14" x2="124.33" y2="277.24" stroke="#c6c69a" stroke-width="0.45" /><line x1="112.85" y1="272.25" x2="111.68" y2="272.45" stroke="#c6c69a" stroke-width="0.45" /><line x1="132.58" y1="279.95" x2="131.52" y2="281.09" stroke="#c6c69a" stroke-width="0.45" /><line x1="123.39" y1="276.90" x2="124.80" y2="277.14" stroke="#c6c69a" stroke-width="0.45" /><line x1="117.32" y1="277.65" x2="116.43" y2="277.86" stroke="#c6c69a" stroke-width="0.45" /><line x1="127.46" y1="271.66" x2="126.56" y2="272.89" stroke="#c6c69a" stroke-width="0.45" /><line x1="112.24" y1="278.09" x2="110.87" y2="278.23" stroke="#c6c69a" stroke-width="0.45" /><line x1="120.84" y1="274.30" x2="121.94" y2="274.50" stroke="#c6c69a" stroke-width="0.45" /><circle cx="116.81" cy="273.84" r="0.6" fill="#fff"/><circle cx="113.74" cy="273.02" r="0.6" fill="#fff"/><circle cx="125.79" cy="279.75" r="0.6" fill="#fff"/><circle cx="111.53" cy="274.35" r="0.6" fill="#fff"/><circle cx="119.97" cy="276.91" r="0.6" fill="#fff"/><circle cx="132.75" cy="275.73" r="0.6" fill="#fff"/><circle cx="113.40" cy="282.45" r="0.6" fill="#fff"/><circle cx="108.61" cy="278.40" r="0.6" fill="#fff"/><circle cx="114.44" cy="281.57" r="0.6" fill="#fff"/><circle cx="120.97" cy="280.88" r="0.6" fill="#fff"/><circle cx="109.44" cy="279.70" r="0.6" fill="#fff"/><circle cx="122.50" cy="277.11" r="0.6" fill="#fff"/><circle cx="127.59" cy="281.77" r="0.6" fill="#fff"/><circle cx="107.78" cy="274.95" r="0.6" fill="#fff"/><circle cx="115.26" cy="273.90" r="0.6" fill="#fff"/><circle cx="106.13" cy="274.84" r="0.6" fill="#fff"/><circle cx="110.29" cy="280.14" r="0.6" fill="#fff"/><circle cx="117.92" cy="272.72" r="0.6" fill="#fff"/><circle cx="114.16" cy="277.21" r="0.6" fill="#fff"/><circle cx="115.33" cy="273.42" r="0.6" fill="#fff"/><circle cx="106.48" cy="271.44" r="0.6" fill="#fff"/><circle cx="134.46" cy="280.76" r="0.6" fill="#fff"/><circle cx="106.85" cy="280.34" r="0.6" fill="#fff"/><circle cx="134.10" cy="278.40" r="0.6" fill="#fff"/><circle cx="107.61" cy="277.46" r="0.6" fill="#fff"/><circle cx="117.50" cy="273.69" r="0.6" fill="#fff"/><circle cx="120.81" cy="271.40" r="0.6" fill="#fff"/><circle cx="132.25" cy="279.42" r="0.6" fill="#fff"/><circle cx="123.38" cy="283.08" r="0.6" fill="#fff"/><circle cx="124.14" cy="274.47" r="0.6" fill="#fff"/><circle cx="111.78" cy="273.05" r="0.6" fill="#fff"/><circle cx="105.14" cy="281.06" r="0.6" fill="#fff"/><circle cx="129.82" cy="275.03" r="0.6" fill="#fff"/><circle cx="109.95" cy="279.34" r="0.6" fill="#fff"/><circle cx="130.01" cy="282.98" r="0.6" fill="#fff"/><circle cx="109.42" cy="281.19" r="0.6" fill="#fff"/><circle cx="129.54" cy="280.65" r="0.6" fill="#fff"/><circle cx="114.23" cy="273.63" r="0.6" fill="#fff"/><circle cx="129.39" cy="275.33" r="0.6" fill="#fff"/><circle cx="115.50" cy="278.24" r="0.6" fill="#fff"/><circle cx="115.53" cy="281.78" r="0.6" fill="#fff"/><circle cx="111.58" cy="271.82" r="0.6" fill="#fff"/><circle cx="121.53" cy="279.22" r="0.6" fill="#fff"/><circle cx="129.22" cy="280.19" r="0.6" fill="#fff"/><circle cx="131.82" cy="283.21" r="0.6" fill="#fff"/><circle cx="119.33" cy="277.59" r="0.6" fill="#fff"/><circle cx="109.09" cy="275.07" r="0.6" fill="#fff"/><circle cx="121.97" cy="272.31" r="0.6" fill="#fff"/><circle cx="107.49" cy="268.03" r="0.8" fill="#f3b0ea"/><circle cx="111.34" cy="269.64" r="0.8" fill="#f3b0ea"/><circle cx="115.09" cy="267.78" r="0.8" fill="#f3b0ea"/><circle cx="119.54" cy="268.08" r="0.8" fill="#f3b0ea"/><circle cx="123.92" cy="267.71" r="0.8" fill="#f3b0ea"/><circle cx="128.14" cy="269.41" r="0.8" fill="#f3b0ea"/><circle cx="132.19" cy="268.55" r="0.8" fill="#f3b0ea"/></g>
<path d="M104.46 270.90 A15.2 15.2 0 0 0 134.54 270.90" fill="none" stroke="#cdcdb0" stroke-width="0.8" />
<line x1="119.70" y1="282.70" x2="119.70" y2="289.40" stroke="#a6eaf4" stroke-width="0.85" stroke-dasharray="1.7 1.1"/>
<clipPath id="cc4"><circle cx="119.5" cy="293.20" r="14.899999999999999"/></clipPath>
<circle cx="119.5" cy="293.20" r="15.2" fill="none" stroke="#d4d4d4" stroke-width="0.9"/>
<g clip-path="url(#cc4)"><rect x="104.30" y="291.00" width="30.40" height="4.60" fill="#dcf5cd" stroke="none" stroke-width="1" /><rect x="104.30" y="295.40" width="30.40" height="15.20" fill="#f0f0e0" stroke="none" stroke-width="1" /><line x1="112.91" y1="304.07" x2="112.86" y2="305.25" stroke="#c6c69a" stroke-width="0.45" /><line x1="114.60" y1="301.22" x2="113.83" y2="302.55" stroke="#c6c69a" stroke-width="0.45" /><line x1="131.78" y1="297.71" x2="132.50" y2="298.67" stroke="#c6c69a" stroke-width="0.45" /><line x1="121.43" y1="300.06" x2="122.14" y2="300.56" stroke="#c6c69a" stroke-width="0.45" /><line x1="114.14" y1="301.49" x2="112.53" y2="301.64" stroke="#c6c69a" stroke-width="0.45" /><line x1="130.61" y1="308.07" x2="129.26" y2="308.23" stroke="#c6c69a" stroke-width="0.45" /><line x1="128.96" y1="296.37" x2="128.25" y2="297.51" stroke="#c6c69a" stroke-width="0.45" /><line x1="113.33" y1="302.91" x2="112.11" y2="303.09" stroke="#c6c69a" stroke-width="0.45" /><line x1="123.98" y1="299.43" x2="124.73" y2="300.84" stroke="#c6c69a" stroke-width="0.45" /><line x1="105.15" y1="298.02" x2="104.51" y2="299.04" stroke="#c6c69a" stroke-width="0.45" /><line x1="106.89" y1="304.05" x2="107.41" y2="305.27" stroke="#c6c69a" stroke-width="0.45" /><line x1="116.96" y1="302.38" x2="116.72" y2="303.52" stroke="#c6c69a" stroke-width="0.45" /><line x1="107.77" y1="297.91" x2="106.56" y2="298.35" stroke="#c6c69a" stroke-width="0.45" /><line x1="107.71" y1="306.64" x2="108.33" y2="307.27" stroke="#c6c69a" stroke-width="0.45" /><line x1="120.44" y1="298.82" x2="120.48" y2="300.12" stroke="#c6c69a" stroke-width="0.45" /><line x1="111.19" y1="302.93" x2="112.37" y2="303.37" stroke="#c6c69a" stroke-width="0.45" /><line x1="122.19" y1="296.63" x2="122.44" y2="297.46" stroke="#c6c69a" stroke-width="0.45" /><line x1="117.66" y1="306.65" x2="117.43" y2="308.08" stroke="#c6c69a" stroke-width="0.45" /><line x1="127.31" y1="297.07" x2="125.86" y2="297.11" stroke="#c6c69a" stroke-width="0.45" /><line x1="107.40" y1="306.23" x2="107.72" y2="307.13" stroke="#c6c69a" stroke-width="0.45" /><line x1="133.49" y1="302.81" x2="132.78" y2="303.41" stroke="#c6c69a" stroke-width="0.45" /><line x1="127.90" y1="296.34" x2="128.73" y2="297.11" stroke="#c6c69a" stroke-width="0.45" /><line x1="104.76" y1="303.21" x2="105.60" y2="303.87" stroke="#c6c69a" stroke-width="0.45" /><line x1="125.81" y1="301.05" x2="124.53" y2="301.52" stroke="#c6c69a" stroke-width="0.45" /><line x1="130.81" y1="302.81" x2="129.28" y2="303.21" stroke="#c6c69a" stroke-width="0.45" /><line x1="109.41" y1="305.14" x2="110.12" y2="306.45" stroke="#c6c69a" stroke-width="0.45" /><line x1="124.99" y1="306.17" x2="126.04" y2="306.60" stroke="#c6c69a" stroke-width="0.45" /><line x1="126.71" y1="307.73" x2="126.17" y2="308.38" stroke="#c6c69a" stroke-width="0.45" /><line x1="122.66" y1="296.88" x2="122.42" y2="298.38" stroke="#c6c69a" stroke-width="0.45" /><line x1="107.73" y1="307.44" x2="107.20" y2="308.32" stroke="#c6c69a" stroke-width="0.45" /><line x1="110.17" y1="301.32" x2="109.02" y2="301.96" stroke="#c6c69a" stroke-width="0.45" /><line x1="107.75" y1="295.87" x2="109.18" y2="296.39" stroke="#c6c69a" stroke-width="0.45" /><line x1="109.93" y1="302.69" x2="110.80" y2="303.82" stroke="#c6c69a" stroke-width="0.45" /><line x1="115.88" y1="297.45" x2="114.69" y2="297.94" stroke="#c6c69a" stroke-width="0.45" /><line x1="125.26" y1="305.94" x2="124.46" y2="306.08" stroke="#c6c69a" stroke-width="0.45" /><line x1="114.71" y1="297.53" x2="114.70" y2="299.12" stroke="#c6c69a" stroke-width="0.45" /><line x1="128.63" y1="296.05" x2="129.93" y2="296.89" stroke="#c6c69a" stroke-width="0.45" /><line x1="124.96" y1="300.62" x2="125.03" y2="301.56" stroke="#c6c69a" stroke-width="0.45" /><line x1="129.99" y1="300.64" x2="128.75" y2="301.16" stroke="#c6c69a" stroke-width="0.45" /><line x1="106.61" y1="299.81" x2="107.85" y2="300.82" stroke="#c6c69a" stroke-width="0.45" /><line x1="122.21" y1="296.16" x2="123.18" y2="296.73" stroke="#c6c69a" stroke-width="0.45" /><line x1="118.52" y1="302.99" x2="118.91" y2="304.04" stroke="#c6c69a" stroke-width="0.45" /><line x1="104.48" y1="303.01" x2="104.89" y2="303.72" stroke="#c6c69a" stroke-width="0.45" /><line x1="118.27" y1="308.23" x2="119.19" y2="308.36" stroke="#c6c69a" stroke-width="0.45" /><line x1="124.70" y1="299.09" x2="125.51" y2="300.04" stroke="#c6c69a" stroke-width="0.45" /><line x1="112.27" y1="302.88" x2="112.12" y2="304.54" stroke="#c6c69a" stroke-width="0.45" /><line x1="134.46" y1="296.04" x2="134.18" y2="297.50" stroke="#c6c69a" stroke-width="0.45" /><line x1="130.82" y1="305.51" x2="130.26" y2="306.76" stroke="#c6c69a" stroke-width="0.45" /><line x1="115.33" y1="299.20" x2="114.06" y2="300.15" stroke="#c6c69a" stroke-width="0.45" /><line x1="132.83" y1="304.32" x2="133.69" y2="305.53" stroke="#c6c69a" stroke-width="0.45" /><line x1="126.78" y1="302.11" x2="126.32" y2="303.13" stroke="#c6c69a" stroke-width="0.45" /><line x1="121.04" y1="300.80" x2="122.13" y2="301.00" stroke="#c6c69a" stroke-width="0.45" /><line x1="114.13" y1="308.25" x2="114.19" y2="309.38" stroke="#c6c69a" stroke-width="0.45" /><line x1="111.70" y1="298.61" x2="112.12" y2="299.43" stroke="#c6c69a" stroke-width="0.45" /><line x1="104.52" y1="306.75" x2="104.70" y2="307.94" stroke="#c6c69a" stroke-width="0.45" /><line x1="121.59" y1="299.47" x2="122.33" y2="299.91" stroke="#c6c69a" stroke-width="0.45" /><line x1="113.47" y1="299.55" x2="112.62" y2="300.53" stroke="#c6c69a" stroke-width="0.45" /><line x1="132.80" y1="299.96" x2="131.51" y2="300.28" stroke="#c6c69a" stroke-width="0.45" /><line x1="106.73" y1="297.89" x2="106.31" y2="299.52" stroke="#c6c69a" stroke-width="0.45" /><line x1="115.15" y1="305.51" x2="115.51" y2="307.05" stroke="#c6c69a" stroke-width="0.45" /><line x1="106.36" y1="301.80" x2="105.36" y2="302.13" stroke="#c6c69a" stroke-width="0.45" /><line x1="112.13" y1="295.90" x2="113.03" y2="296.41" stroke="#c6c69a" stroke-width="0.45" /><line x1="125.71" y1="298.39" x2="126.02" y2="299.33" stroke="#c6c69a" stroke-width="0.45" /><line x1="122.63" y1="306.66" x2="122.19" y2="307.53" stroke="#c6c69a" stroke-width="0.45" /><line x1="126.61" y1="307.93" x2="126.34" y2="308.76" stroke="#c6c69a" stroke-width="0.45" /><line x1="128.91" y1="306.81" x2="129.35" y2="307.62" stroke="#c6c69a" stroke-width="0.45" /><line x1="110.02" y1="302.47" x2="108.75" y2="303.00" stroke="#c6c69a" stroke-width="0.45" /><line x1="132.36" y1="298.32" x2="133.12" y2="299.58" stroke="#c6c69a" stroke-width="0.45" /><line x1="124.03" y1="300.79" x2="123.44" y2="301.72" stroke="#c6c69a" stroke-width="0.45" /><line x1="106.05" y1="300.90" x2="107.40" y2="301.10" stroke="#c6c69a" stroke-width="0.45" /><line x1="114.47" y1="301.93" x2="114.16" y2="302.91" stroke="#c6c69a" stroke-width="0.45" /><line x1="118.39" y1="295.77" x2="117.11" y2="296.08" stroke="#c6c69a" stroke-width="0.45" /><line x1="134.32" y1="296.32" x2="133.81" y2="297.68" stroke="#c6c69a" stroke-width="0.45" /><line x1="114.31" y1="296.80" x2="115.13" y2="297.23" stroke="#c6c69a" stroke-width="0.45" /><line x1="127.62" y1="296.75" x2="126.64" y2="297.40" stroke="#c6c69a" stroke-width="0.45" /><line x1="120.68" y1="303.13" x2="120.44" y2="304.50" stroke="#c6c69a" stroke-width="0.45" /><line x1="122.59" y1="299.83" x2="121.88" y2="300.58" stroke="#c6c69a" stroke-width="0.45" /><line x1="125.93" y1="305.37" x2="125.11" y2="306.07" stroke="#c6c69a" stroke-width="0.45" /><line x1="127.79" y1="308.11" x2="127.94" y2="309.15" stroke="#c6c69a" stroke-width="0.45" /><line x1="120.21" y1="307.64" x2="120.95" y2="307.97" stroke="#c6c69a" stroke-width="0.45" /><line x1="118.76" y1="303.99" x2="117.91" y2="304.72" stroke="#c6c69a" stroke-width="0.45" /><line x1="134.38" y1="298.52" x2="133.75" y2="299.13" stroke="#c6c69a" stroke-width="0.45" /><line x1="105.15" y1="297.32" x2="106.38" y2="297.55" stroke="#c6c69a" stroke-width="0.45" /><line x1="121.18" y1="297.93" x2="120.07" y2="298.14" stroke="#c6c69a" stroke-width="0.45" /><line x1="108.84" y1="297.87" x2="107.73" y2="299.07" stroke="#c6c69a" stroke-width="0.45" /><line x1="109.23" y1="295.97" x2="108.45" y2="296.63" stroke="#c6c69a" stroke-width="0.45" /><line x1="134.16" y1="301.99" x2="133.70" y2="303.00" stroke="#c6c69a" stroke-width="0.45" /><line x1="128.64" y1="301.49" x2="129.48" y2="302.86" stroke="#c6c69a" stroke-width="0.45" /><line x1="107.58" y1="304.99" x2="108.93" y2="305.27" stroke="#c6c69a" stroke-width="0.45" /><line x1="116.52" y1="306.66" x2="117.80" y2="306.90" stroke="#c6c69a" stroke-width="0.45" /><line x1="116.76" y1="307.36" x2="115.42" y2="307.60" stroke="#c6c69a" stroke-width="0.45" /><line x1="111.11" y1="298.82" x2="111.92" y2="299.70" stroke="#c6c69a" stroke-width="0.45" /><line x1="111.33" y1="298.20" x2="110.33" y2="299.15" stroke="#c6c69a" stroke-width="0.45" /><line x1="113.37" y1="308.33" x2="114.39" y2="309.15" stroke="#c6c69a" stroke-width="0.45" /><line x1="109.06" y1="306.65" x2="108.11" y2="307.06" stroke="#c6c69a" stroke-width="0.45" /><line x1="127.15" y1="306.13" x2="127.84" y2="306.98" stroke="#c6c69a" stroke-width="0.45" /><line x1="119.06" y1="307.00" x2="120.30" y2="307.69" stroke="#c6c69a" stroke-width="0.45" /><line x1="122.47" y1="301.40" x2="122.07" y2="302.94" stroke="#c6c69a" stroke-width="0.45" /><line x1="110.68" y1="306.91" x2="111.32" y2="308.27" stroke="#c6c69a" stroke-width="0.45" /><line x1="130.55" y1="297.93" x2="129.00" y2="298.64" stroke="#c6c69a" stroke-width="0.45" /><line x1="113.35" y1="295.91" x2="114.92" y2="296.49" stroke="#c6c69a" stroke-width="0.45" /><line x1="104.59" y1="307.27" x2="105.89" y2="307.94" stroke="#c6c69a" stroke-width="0.45" /><line x1="107.27" y1="297.76" x2="106.79" y2="298.50" stroke="#c6c69a" stroke-width="0.45" /><line x1="114.62" y1="307.36" x2="113.62" y2="308.60" stroke="#c6c69a" stroke-width="0.45" /><line x1="134.08" y1="296.02" x2="135.20" y2="297.04" stroke="#c6c69a" stroke-width="0.45" /><line x1="125.26" y1="296.08" x2="125.24" y2="297.09" stroke="#c6c69a" stroke-width="0.45" /><line x1="117.39" y1="296.94" x2="119.08" y2="297.05" stroke="#c6c69a" stroke-width="0.45" /><line x1="113.92" y1="306.85" x2="115.07" y2="307.30" stroke="#c6c69a" stroke-width="0.45" /><line x1="108.43" y1="301.08" x2="109.63" y2="301.84" stroke="#c6c69a" stroke-width="0.45" /><line x1="108.80" y1="305.05" x2="108.80" y2="305.95" stroke="#c6c69a" stroke-width="0.45" /><line x1="115.05" y1="301.95" x2="113.97" y2="302.23" stroke="#c6c69a" stroke-width="0.45" /><line x1="110.84" y1="307.98" x2="109.48" y2="308.51" stroke="#c6c69a" stroke-width="0.45" /><line x1="112.60" y1="297.87" x2="113.18" y2="298.51" stroke="#c6c69a" stroke-width="0.45" /><line x1="105.61" y1="302.11" x2="105.98" y2="303.36" stroke="#c6c69a" stroke-width="0.45" /><line x1="115.32" y1="295.74" x2="114.55" y2="296.89" stroke="#c6c69a" stroke-width="0.45" /><line x1="120.84" y1="302.62" x2="119.89" y2="304.02" stroke="#c6c69a" stroke-width="0.45" /><line x1="130.87" y1="304.79" x2="131.21" y2="305.82" stroke="#c6c69a" stroke-width="0.45" /><line x1="117.04" y1="308.05" x2="117.44" y2="309.13" stroke="#c6c69a" stroke-width="0.45" /><line x1="116.76" y1="297.43" x2="115.96" y2="297.44" stroke="#c6c69a" stroke-width="0.45" /><line x1="122.78" y1="307.46" x2="123.72" y2="308.42" stroke="#c6c69a" stroke-width="0.45" /><line x1="115.76" y1="298.68" x2="116.49" y2="299.21" stroke="#c6c69a" stroke-width="0.45" /><line x1="129.93" y1="305.63" x2="129.12" y2="305.87" stroke="#c6c69a" stroke-width="0.45" /><line x1="125.40" y1="299.75" x2="124.83" y2="300.91" stroke="#c6c69a" stroke-width="0.45" /><line x1="113.89" y1="308.04" x2="115.37" y2="308.04" stroke="#c6c69a" stroke-width="0.45" /><line x1="130.25" y1="302.13" x2="129.76" y2="303.75" stroke="#c6c69a" stroke-width="0.45" /><line x1="111.43" y1="303.66" x2="110.64" y2="304.48" stroke="#c6c69a" stroke-width="0.45" /><line x1="125.95" y1="300.64" x2="125.84" y2="301.98" stroke="#c6c69a" stroke-width="0.45" /><line x1="124.89" y1="299.72" x2="124.38" y2="300.91" stroke="#c6c69a" stroke-width="0.45" /><line x1="111.09" y1="303.44" x2="112.18" y2="304.64" stroke="#c6c69a" stroke-width="0.45" /><line x1="118.69" y1="304.84" x2="118.60" y2="306.06" stroke="#c6c69a" stroke-width="0.45" /><circle cx="111.03" cy="297.59" r="0.6" fill="#fff"/><circle cx="132.49" cy="302.46" r="0.6" fill="#fff"/><circle cx="120.23" cy="302.45" r="0.6" fill="#fff"/><circle cx="129.03" cy="298.81" r="0.6" fill="#fff"/><circle cx="109.54" cy="306.16" r="0.6" fill="#fff"/><circle cx="118.29" cy="303.87" r="0.6" fill="#fff"/><circle cx="129.45" cy="307.06" r="0.6" fill="#fff"/><circle cx="130.68" cy="296.35" r="0.6" fill="#fff"/><circle cx="115.89" cy="306.28" r="0.6" fill="#fff"/><circle cx="129.16" cy="297.35" r="0.6" fill="#fff"/><circle cx="108.98" cy="298.97" r="0.6" fill="#fff"/><circle cx="107.43" cy="300.29" r="0.6" fill="#fff"/><circle cx="128.72" cy="302.37" r="0.6" fill="#fff"/><circle cx="118.07" cy="296.91" r="0.6" fill="#fff"/><circle cx="116.32" cy="308.36" r="0.6" fill="#fff"/><circle cx="125.43" cy="301.46" r="0.6" fill="#fff"/><circle cx="118.84" cy="305.86" r="0.6" fill="#fff"/><circle cx="127.37" cy="297.69" r="0.6" fill="#fff"/><circle cx="124.98" cy="300.42" r="0.6" fill="#fff"/><circle cx="120.13" cy="298.79" r="0.6" fill="#fff"/><circle cx="115.57" cy="300.09" r="0.6" fill="#fff"/><circle cx="115.89" cy="296.02" r="0.6" fill="#fff"/><circle cx="110.41" cy="302.99" r="0.6" fill="#fff"/><circle cx="106.06" cy="298.05" r="0.6" fill="#fff"/><circle cx="126.13" cy="299.26" r="0.6" fill="#fff"/><circle cx="114.15" cy="298.85" r="0.6" fill="#fff"/><circle cx="129.66" cy="296.95" r="0.6" fill="#fff"/><circle cx="123.64" cy="306.62" r="0.6" fill="#fff"/><circle cx="110.43" cy="301.13" r="0.6" fill="#fff"/><circle cx="128.39" cy="303.59" r="0.6" fill="#fff"/><circle cx="115.60" cy="296.35" r="0.6" fill="#fff"/><circle cx="117.75" cy="300.43" r="0.6" fill="#fff"/><circle cx="125.96" cy="299.52" r="0.6" fill="#fff"/><circle cx="116.70" cy="303.97" r="0.6" fill="#fff"/><circle cx="128.95" cy="300.24" r="0.6" fill="#fff"/><circle cx="116.01" cy="303.09" r="0.6" fill="#fff"/><circle cx="132.41" cy="298.21" r="0.6" fill="#fff"/><circle cx="133.83" cy="304.77" r="0.6" fill="#fff"/><circle cx="115.62" cy="304.19" r="0.6" fill="#fff"/><circle cx="114.32" cy="296.69" r="0.6" fill="#fff"/><circle cx="127.28" cy="300.58" r="0.6" fill="#fff"/><circle cx="120.28" cy="302.06" r="0.6" fill="#fff"/><circle cx="131.70" cy="305.34" r="0.6" fill="#fff"/><circle cx="105.08" cy="303.27" r="0.6" fill="#fff"/><circle cx="118.36" cy="301.62" r="0.6" fill="#fff"/><circle cx="129.82" cy="301.03" r="0.6" fill="#fff"/><circle cx="118.70" cy="307.02" r="0.6" fill="#fff"/><circle cx="117.67" cy="301.99" r="0.6" fill="#fff"/><circle cx="107.31" cy="293.85" r="0.8" fill="#f3b0ea"/><circle cx="111.57" cy="293.68" r="0.8" fill="#f3b0ea"/><circle cx="115.40" cy="292.28" r="0.8" fill="#f3b0ea"/><circle cx="119.78" cy="293.31" r="0.8" fill="#f3b0ea"/><circle cx="123.97" cy="293.74" r="0.8" fill="#f3b0ea"/><circle cx="127.42" cy="292.64" r="0.8" fill="#f3b0ea"/><circle cx="131.48" cy="293.83" r="0.8" fill="#f3b0ea"/></g>
<path d="M104.46 295.40 A15.2 15.2 0 0 0 134.54 295.40" fill="none" stroke="#cdcdb0" stroke-width="0.8" />
<line x1="119.70" y1="307.20" x2="119.70" y2="315.20" stroke="#a6eaf4" stroke-width="0.85" stroke-dasharray="1.7 1.1"/>
<clipPath id="cc5"><circle cx="119.5" cy="317.70" r="14.899999999999999"/></clipPath>
<circle cx="119.5" cy="317.70" r="15.2" fill="none" stroke="#d4d4d4" stroke-width="0.9"/>
<g clip-path="url(#cc5)"><rect x="104.30" y="316.80" width="30.40" height="4.60" fill="#dbf5cd" stroke="none" stroke-width="1" /><rect x="104.30" y="321.20" width="30.40" height="15.20" fill="#f0f0e0" stroke="none" stroke-width="1" /><line x1="107.39" y1="322.41" x2="106.46" y2="323.33" stroke="#c6c69a" stroke-width="0.45" /><line x1="105.97" y1="329.23" x2="105.21" y2="330.20" stroke="#c6c69a" stroke-width="0.45" /><line x1="105.97" y1="329.35" x2="106.30" y2="330.63" stroke="#c6c69a" stroke-width="0.45" /><line x1="134.64" y1="330.79" x2="133.79" y2="331.16" stroke="#c6c69a" stroke-width="0.45" /><line x1="114.46" y1="327.36" x2="116.15" y2="327.39" stroke="#c6c69a" stroke-width="0.45" /><line x1="112.65" y1="324.42" x2="113.22" y2="325.27" stroke="#c6c69a" stroke-width="0.45" /><line x1="130.41" y1="327.79" x2="130.37" y2="328.97" stroke="#c6c69a" stroke-width="0.45" /><line x1="105.85" y1="324.90" x2="104.46" y2="325.52" stroke="#c6c69a" stroke-width="0.45" /><line x1="130.34" y1="324.36" x2="131.02" y2="324.86" stroke="#c6c69a" stroke-width="0.45" /><line x1="120.62" y1="325.70" x2="120.76" y2="326.93" stroke="#c6c69a" stroke-width="0.45" /><line x1="122.05" y1="325.61" x2="121.25" y2="326.18" stroke="#c6c69a" stroke-width="0.45" /><line x1="132.25" y1="327.80" x2="133.32" y2="327.97" stroke="#c6c69a" stroke-width="0.45" /><line x1="120.51" y1="326.10" x2="120.28" y2="327.17" stroke="#c6c69a" stroke-width="0.45" /><line x1="112.62" y1="330.56" x2="113.49" y2="331.70" stroke="#c6c69a" stroke-width="0.45" /><line x1="128.69" y1="328.21" x2="128.93" y2="329.83" stroke="#c6c69a" stroke-width="0.45" /><line x1="117.82" y1="331.50" x2="119.00" y2="331.71" stroke="#c6c69a" stroke-width="0.45" /><line x1="123.73" y1="321.96" x2="122.95" y2="322.32" stroke="#c6c69a" stroke-width="0.45" /><line x1="122.43" y1="323.47" x2="121.16" y2="323.79" stroke="#c6c69a" stroke-width="0.45" /><line x1="128.64" y1="327.13" x2="127.91" y2="328.33" stroke="#c6c69a" stroke-width="0.45" /><line x1="113.26" y1="323.83" x2="112.45" y2="324.28" stroke="#c6c69a" stroke-width="0.45" /><line x1="132.20" y1="323.78" x2="133.04" y2="324.06" stroke="#c6c69a" stroke-width="0.45" /><line x1="128.14" y1="332.34" x2="128.51" y2="333.68" stroke="#c6c69a" stroke-width="0.45" /><line x1="112.13" y1="331.82" x2="111.61" y2="332.60" stroke="#c6c69a" stroke-width="0.45" /><line x1="106.02" y1="329.40" x2="107.56" y2="329.60" stroke="#c6c69a" stroke-width="0.45" /><line x1="113.23" y1="324.08" x2="112.95" y2="325.13" stroke="#c6c69a" stroke-width="0.45" /><line x1="121.34" y1="323.17" x2="120.29" y2="323.47" stroke="#c6c69a" stroke-width="0.45" /><line x1="129.88" y1="323.15" x2="128.52" y2="324.14" stroke="#c6c69a" stroke-width="0.45" /><line x1="116.20" y1="321.78" x2="116.71" y2="323.06" stroke="#c6c69a" stroke-width="0.45" /><line x1="111.09" y1="327.68" x2="112.26" y2="328.03" stroke="#c6c69a" stroke-width="0.45" /><line x1="126.44" y1="326.34" x2="125.96" y2="327.11" stroke="#c6c69a" stroke-width="0.45" /><line x1="129.49" y1="322.80" x2="127.84" y2="323.21" stroke="#c6c69a" stroke-width="0.45" /><line x1="132.86" y1="327.45" x2="133.54" y2="328.33" stroke="#c6c69a" stroke-width="0.45" /><line x1="127.11" y1="327.11" x2="126.25" y2="327.30" stroke="#c6c69a" stroke-width="0.45" /><line x1="119.04" y1="331.34" x2="118.65" y2="332.56" stroke="#c6c69a" stroke-width="0.45" /><line x1="106.99" y1="323.01" x2="108.04" y2="324.21" stroke="#c6c69a" stroke-width="0.45" /><line x1="130.00" y1="324.01" x2="129.19" y2="324.21" stroke="#c6c69a" stroke-width="0.45" /><line x1="122.50" y1="332.52" x2="123.28" y2="333.98" stroke="#c6c69a" stroke-width="0.45" /><line x1="124.26" y1="321.98" x2="124.86" y2="323.02" stroke="#c6c69a" stroke-width="0.45" /><line x1="111.82" y1="329.94" x2="113.10" y2="330.74" stroke="#c6c69a" stroke-width="0.45" /><line x1="113.37" y1="322.20" x2="113.20" y2="323.07" stroke="#c6c69a" stroke-width="0.45" /><line x1="121.07" y1="330.46" x2="120.71" y2="331.62" stroke="#c6c69a" stroke-width="0.45" /><line x1="105.33" y1="327.30" x2="106.64" y2="327.72" stroke="#c6c69a" stroke-width="0.45" /><line x1="108.31" y1="328.05" x2="108.82" y2="329.06" stroke="#c6c69a" stroke-width="0.45" /><line x1="124.46" y1="323.28" x2="125.88" y2="324.12" stroke="#c6c69a" stroke-width="0.45" /><line x1="114.38" y1="331.09" x2="113.25" y2="331.56" stroke="#c6c69a" stroke-width="0.45" /><line x1="108.83" y1="322.48" x2="107.99" y2="322.82" stroke="#c6c69a" stroke-width="0.45" /><line x1="119.38" y1="327.56" x2="120.52" y2="328.00" stroke="#c6c69a" stroke-width="0.45" /><line x1="109.29" y1="327.56" x2="109.26" y2="328.69" stroke="#c6c69a" stroke-width="0.45" /><line x1="110.31" y1="326.04" x2="111.04" y2="326.59" stroke="#c6c69a" stroke-width="0.45" /><line x1="111.59" y1="331.42" x2="111.58" y2="333.02" stroke="#c6c69a" stroke-width="0.45" /><line x1="104.76" y1="332.25" x2="104.81" y2="333.76" stroke="#c6c69a" stroke-width="0.45" /><line x1="121.64" y1="329.32" x2="122.75" y2="330.30" stroke="#c6c69a" stroke-width="0.45" /><line x1="108.97" y1="324.44" x2="110.12" y2="324.55" stroke="#c6c69a" stroke-width="0.45" /><line x1="120.05" y1="324.76" x2="119.23" y2="325.05" stroke="#c6c69a" stroke-width="0.45" /><line x1="121.89" y1="324.09" x2="121.44" y2="325.53" stroke="#c6c69a" stroke-width="0.45" /><line x1="125.91" y1="322.11" x2="126.87" y2="323.05" stroke="#c6c69a" stroke-width="0.45" /><line x1="134.18" y1="321.87" x2="133.67" y2="323.20" stroke="#c6c69a" stroke-width="0.45" /><line x1="129.07" y1="325.33" x2="128.06" y2="326.02" stroke="#c6c69a" stroke-width="0.45" /><line x1="132.29" y1="321.52" x2="131.14" y2="321.74" stroke="#c6c69a" stroke-width="0.45" /><line x1="116.68" y1="322.41" x2="117.73" y2="323.43" stroke="#c6c69a" stroke-width="0.45" /><line x1="124.94" y1="323.14" x2="125.37" y2="323.96" stroke="#c6c69a" stroke-width="0.45" /><line x1="110.33" y1="323.93" x2="111.17" y2="325.37" stroke="#c6c69a" stroke-width="0.45" /><line x1="134.62" y1="330.50" x2="134.70" y2="331.75" stroke="#c6c69a" stroke-width="0.45" /><line x1="127.99" y1="331.84" x2="127.01" y2="332.81" stroke="#c6c69a" stroke-width="0.45" /><line x1="110.35" y1="328.59" x2="109.02" y2="329.29" stroke="#c6c69a" stroke-width="0.45" /><line x1="107.11" y1="329.65" x2="107.54" y2="330.49" stroke="#c6c69a" stroke-width="0.45" /><line x1="133.66" y1="329.14" x2="133.02" y2="329.80" stroke="#c6c69a" stroke-width="0.45" /><line x1="129.48" y1="332.18" x2="128.08" y2="332.61" stroke="#c6c69a" stroke-width="0.45" /><line x1="129.61" y1="330.62" x2="129.27" y2="331.77" stroke="#c6c69a" stroke-width="0.45" /><line x1="129.39" y1="330.42" x2="128.40" y2="330.84" stroke="#c6c69a" stroke-width="0.45" /><line x1="133.51" y1="327.51" x2="132.62" y2="327.67" stroke="#c6c69a" stroke-width="0.45" /><line x1="133.74" y1="330.46" x2="134.83" y2="331.56" stroke="#c6c69a" stroke-width="0.45" /><line x1="111.36" y1="323.68" x2="111.49" y2="324.68" stroke="#c6c69a" stroke-width="0.45" /><line x1="119.28" y1="331.84" x2="118.48" y2="333.05" stroke="#c6c69a" stroke-width="0.45" /><line x1="116.22" y1="330.41" x2="115.09" y2="331.27" stroke="#c6c69a" stroke-width="0.45" /><line x1="132.93" y1="330.90" x2="133.18" y2="331.74" stroke="#c6c69a" stroke-width="0.45" /><line x1="124.14" y1="331.02" x2="124.78" y2="332.19" stroke="#c6c69a" stroke-width="0.45" /><line x1="129.72" y1="330.52" x2="130.96" y2="330.54" stroke="#c6c69a" stroke-width="0.45" /><line x1="104.80" y1="322.67" x2="103.82" y2="323.33" stroke="#c6c69a" stroke-width="0.45" /><line x1="122.68" y1="326.66" x2="123.18" y2="327.52" stroke="#c6c69a" stroke-width="0.45" /><line x1="115.05" y1="331.11" x2="114.66" y2="332.10" stroke="#c6c69a" stroke-width="0.45" /><line x1="106.97" y1="324.52" x2="106.27" y2="325.48" stroke="#c6c69a" stroke-width="0.45" /><line x1="124.39" y1="330.68" x2="125.71" y2="331.21" stroke="#c6c69a" stroke-width="0.45" /><line x1="105.56" y1="330.86" x2="106.44" y2="331.43" stroke="#c6c69a" stroke-width="0.45" /><line x1="133.41" y1="325.57" x2="134.63" y2="326.60" stroke="#c6c69a" stroke-width="0.45" /><line x1="122.85" y1="331.68" x2="123.26" y2="332.86" stroke="#c6c69a" stroke-width="0.45" /><line x1="133.36" y1="327.23" x2="132.39" y2="327.26" stroke="#c6c69a" stroke-width="0.45" /><line x1="129.55" y1="323.27" x2="129.48" y2="324.06" stroke="#c6c69a" stroke-width="0.45" /><line x1="109.63" y1="332.27" x2="109.85" y2="333.78" stroke="#c6c69a" stroke-width="0.45" /><line x1="111.92" y1="325.45" x2="113.16" y2="325.86" stroke="#c6c69a" stroke-width="0.45" /><line x1="130.51" y1="327.31" x2="131.13" y2="328.82" stroke="#c6c69a" stroke-width="0.45" /><line x1="131.47" y1="329.06" x2="132.79" y2="329.38" stroke="#c6c69a" stroke-width="0.45" /><line x1="117.80" y1="332.42" x2="118.39" y2="333.68" stroke="#c6c69a" stroke-width="0.45" /><line x1="123.51" y1="325.72" x2="123.41" y2="327.13" stroke="#c6c69a" stroke-width="0.45" /><line x1="131.88" y1="327.13" x2="132.58" y2="328.66" stroke="#c6c69a" stroke-width="0.45" /><line x1="106.03" y1="331.00" x2="105.32" y2="332.09" stroke="#c6c69a" stroke-width="0.45" /><line x1="117.91" y1="330.04" x2="116.54" y2="330.53" stroke="#c6c69a" stroke-width="0.45" /><line x1="127.09" y1="321.80" x2="127.58" y2="322.59" stroke="#c6c69a" stroke-width="0.45" /><line x1="133.27" y1="331.65" x2="134.46" y2="332.23" stroke="#c6c69a" stroke-width="0.45" /><line x1="121.83" y1="321.94" x2="122.32" y2="323.33" stroke="#c6c69a" stroke-width="0.45" /><line x1="123.80" y1="324.63" x2="123.02" y2="325.35" stroke="#c6c69a" stroke-width="0.45" /><line x1="120.85" y1="326.24" x2="119.47" y2="326.33" stroke="#c6c69a" stroke-width="0.45" /><line x1="128.77" y1="329.18" x2="129.38" y2="330.73" stroke="#c6c69a" stroke-width="0.45" /><line x1="125.87" y1="329.34" x2="126.48" y2="330.07" stroke="#c6c69a" stroke-width="0.45" /><line x1="121.78" y1="330.90" x2="120.90" y2="331.57" stroke="#c6c69a" stroke-width="0.45" /><line x1="108.55" y1="327.33" x2="107.68" y2="327.69" stroke="#c6c69a" stroke-width="0.45" /><line x1="126.75" y1="323.36" x2="127.22" y2="324.07" stroke="#c6c69a" stroke-width="0.45" /><line x1="113.35" y1="325.80" x2="111.69" y2="325.98" stroke="#c6c69a" stroke-width="0.45" /><line x1="109.99" y1="324.96" x2="109.03" y2="325.13" stroke="#c6c69a" stroke-width="0.45" /><line x1="114.06" y1="326.44" x2="115.03" y2="326.79" stroke="#c6c69a" stroke-width="0.45" /><line x1="116.28" y1="325.83" x2="115.24" y2="325.95" stroke="#c6c69a" stroke-width="0.45" /><line x1="110.50" y1="331.85" x2="110.74" y2="333.39" stroke="#c6c69a" stroke-width="0.45" /><line x1="123.67" y1="330.35" x2="124.18" y2="331.14" stroke="#c6c69a" stroke-width="0.45" /><line x1="127.32" y1="326.81" x2="127.06" y2="328.19" stroke="#c6c69a" stroke-width="0.45" /><line x1="127.18" y1="324.57" x2="127.86" y2="326.04" stroke="#c6c69a" stroke-width="0.45" /><line x1="120.39" y1="324.72" x2="119.98" y2="325.66" stroke="#c6c69a" stroke-width="0.45" /><line x1="127.75" y1="321.88" x2="126.63" y2="322.55" stroke="#c6c69a" stroke-width="0.45" /><line x1="115.05" y1="332.21" x2="115.74" y2="332.96" stroke="#c6c69a" stroke-width="0.45" /><line x1="106.42" y1="327.71" x2="105.42" y2="328.69" stroke="#c6c69a" stroke-width="0.45" /><line x1="116.85" y1="330.69" x2="117.86" y2="331.06" stroke="#c6c69a" stroke-width="0.45" /><line x1="123.90" y1="332.52" x2="123.32" y2="333.82" stroke="#c6c69a" stroke-width="0.45" /><line x1="127.85" y1="325.94" x2="126.41" y2="326.21" stroke="#c6c69a" stroke-width="0.45" /><line x1="114.69" y1="325.91" x2="113.78" y2="326.55" stroke="#c6c69a" stroke-width="0.45" /><line x1="109.95" y1="331.42" x2="109.82" y2="332.69" stroke="#c6c69a" stroke-width="0.45" /><line x1="124.65" y1="331.77" x2="125.66" y2="332.22" stroke="#c6c69a" stroke-width="0.45" /><line x1="106.30" y1="326.15" x2="106.29" y2="327.72" stroke="#c6c69a" stroke-width="0.45" /><line x1="124.60" y1="328.04" x2="124.99" y2="329.30" stroke="#c6c69a" stroke-width="0.45" /><line x1="112.62" y1="331.12" x2="111.40" y2="332.07" stroke="#c6c69a" stroke-width="0.45" /><line x1="108.90" y1="329.12" x2="108.00" y2="330.00" stroke="#c6c69a" stroke-width="0.45" /><line x1="131.61" y1="331.74" x2="130.55" y2="332.85" stroke="#c6c69a" stroke-width="0.45" /><circle cx="124.02" cy="331.53" r="0.6" fill="#fff"/><circle cx="108.29" cy="329.56" r="0.6" fill="#fff"/><circle cx="125.69" cy="328.52" r="0.6" fill="#fff"/><circle cx="112.66" cy="322.36" r="0.6" fill="#fff"/><circle cx="122.64" cy="330.91" r="0.6" fill="#fff"/><circle cx="112.60" cy="324.01" r="0.6" fill="#fff"/><circle cx="111.11" cy="322.66" r="0.6" fill="#fff"/><circle cx="124.85" cy="332.62" r="0.6" fill="#fff"/><circle cx="128.68" cy="325.66" r="0.6" fill="#fff"/><circle cx="125.56" cy="322.42" r="0.6" fill="#fff"/><circle cx="129.79" cy="325.27" r="0.6" fill="#fff"/><circle cx="104.40" cy="328.71" r="0.6" fill="#fff"/><circle cx="108.52" cy="324.71" r="0.6" fill="#fff"/><circle cx="106.10" cy="326.64" r="0.6" fill="#fff"/><circle cx="121.17" cy="330.72" r="0.6" fill="#fff"/><circle cx="105.50" cy="330.95" r="0.6" fill="#fff"/><circle cx="107.66" cy="324.14" r="0.6" fill="#fff"/><circle cx="123.44" cy="325.44" r="0.6" fill="#fff"/><circle cx="114.36" cy="328.02" r="0.6" fill="#fff"/><circle cx="110.92" cy="330.57" r="0.6" fill="#fff"/><circle cx="110.65" cy="331.09" r="0.6" fill="#fff"/><circle cx="128.89" cy="327.67" r="0.6" fill="#fff"/><circle cx="105.23" cy="330.39" r="0.6" fill="#fff"/><circle cx="105.16" cy="327.30" r="0.6" fill="#fff"/><circle cx="117.19" cy="322.31" r="0.6" fill="#fff"/><circle cx="123.45" cy="329.79" r="0.6" fill="#fff"/><circle cx="122.08" cy="326.12" r="0.6" fill="#fff"/><circle cx="119.87" cy="328.25" r="0.6" fill="#fff"/><circle cx="111.18" cy="331.40" r="0.6" fill="#fff"/><circle cx="134.57" cy="330.69" r="0.6" fill="#fff"/><circle cx="133.52" cy="325.32" r="0.6" fill="#fff"/><circle cx="134.28" cy="322.41" r="0.6" fill="#fff"/><circle cx="118.83" cy="323.11" r="0.6" fill="#fff"/><circle cx="118.10" cy="329.31" r="0.6" fill="#fff"/><circle cx="125.84" cy="326.74" r="0.6" fill="#fff"/><circle cx="114.69" cy="323.75" r="0.6" fill="#fff"/><circle cx="116.55" cy="324.79" r="0.6" fill="#fff"/><circle cx="110.20" cy="329.92" r="0.6" fill="#fff"/><circle cx="119.99" cy="326.56" r="0.6" fill="#fff"/><circle cx="110.31" cy="329.55" r="0.6" fill="#fff"/><circle cx="110.28" cy="324.60" r="0.6" fill="#fff"/><circle cx="121.33" cy="329.52" r="0.6" fill="#fff"/><circle cx="133.88" cy="330.05" r="0.6" fill="#fff"/><circle cx="133.13" cy="332.00" r="0.6" fill="#fff"/><circle cx="126.27" cy="329.73" r="0.6" fill="#fff"/><circle cx="106.21" cy="323.92" r="0.6" fill="#fff"/><circle cx="104.70" cy="331.36" r="0.6" fill="#fff"/><circle cx="126.25" cy="328.72" r="0.6" fill="#fff"/><circle cx="107.06" cy="318.71" r="0.8" fill="#f3b0ea"/><circle cx="111.06" cy="319.26" r="0.8" fill="#f3b0ea"/><circle cx="115.99" cy="318.61" r="0.8" fill="#f3b0ea"/><circle cx="119.14" cy="318.35" r="0.8" fill="#f3b0ea"/><circle cx="123.56" cy="319.80" r="0.8" fill="#f3b0ea"/><circle cx="128.10" cy="318.91" r="0.8" fill="#f3b0ea"/><circle cx="131.50" cy="318.21" r="0.8" fill="#f3b0ea"/></g>
<path d="M104.71 321.20 A15.2 15.2 0 0 0 134.29 321.20" fill="none" stroke="#cdcdb0" stroke-width="0.8" />
<line x1="119.70" y1="331.70" x2="119.70" y2="339.70" stroke="#a6eaf4" stroke-width="0.85" stroke-dasharray="1.7 1.1"/>
<clipPath id="cc6"><circle cx="119.5" cy="342.20" r="14.899999999999999"/></clipPath>
<circle cx="119.5" cy="342.20" r="15.2" fill="none" stroke="#d4d4d4" stroke-width="0.9"/>
<g clip-path="url(#cc6)"><rect x="104.30" y="341.30" width="30.40" height="4.60" fill="#ecf6c8" stroke="none" stroke-width="1" /><rect x="104.30" y="345.70" width="30.40" height="15.20" fill="#f0f0e0" stroke="none" stroke-width="1" /><line x1="108.98" y1="354.84" x2="109.13" y2="356.53" stroke="#c6c69a" stroke-width="0.45" /><line x1="132.02" y1="355.04" x2="132.13" y2="356.58" stroke="#c6c69a" stroke-width="0.45" /><line x1="108.20" y1="347.15" x2="107.95" y2="348.38" stroke="#c6c69a" stroke-width="0.45" /><line x1="110.66" y1="348.80" x2="112.28" y2="348.91" stroke="#c6c69a" stroke-width="0.45" /><line x1="125.89" y1="356.77" x2="124.70" y2="356.84" stroke="#c6c69a" stroke-width="0.45" /><line x1="126.57" y1="350.32" x2="125.27" y2="351.19" stroke="#c6c69a" stroke-width="0.45" /><line x1="108.37" y1="346.05" x2="109.41" y2="346.87" stroke="#c6c69a" stroke-width="0.45" /><line x1="115.82" y1="346.00" x2="114.52" y2="346.77" stroke="#c6c69a" stroke-width="0.45" /><line x1="118.40" y1="346.40" x2="117.19" y2="346.83" stroke="#c6c69a" stroke-width="0.45" /><line x1="106.46" y1="349.62" x2="105.85" y2="351.09" stroke="#c6c69a" stroke-width="0.45" /><line x1="119.03" y1="353.25" x2="119.84" y2="353.87" stroke="#c6c69a" stroke-width="0.45" /><line x1="131.84" y1="350.30" x2="133.10" y2="350.73" stroke="#c6c69a" stroke-width="0.45" /><line x1="108.14" y1="348.20" x2="108.32" y2="349.51" stroke="#c6c69a" stroke-width="0.45" /><line x1="123.65" y1="354.03" x2="123.81" y2="354.88" stroke="#c6c69a" stroke-width="0.45" /><line x1="126.32" y1="346.52" x2="126.43" y2="347.67" stroke="#c6c69a" stroke-width="0.45" /><line x1="124.76" y1="354.11" x2="125.77" y2="355.06" stroke="#c6c69a" stroke-width="0.45" /><line x1="125.34" y1="351.32" x2="126.80" y2="352.02" stroke="#c6c69a" stroke-width="0.45" /><line x1="122.51" y1="346.62" x2="123.75" y2="347.77" stroke="#c6c69a" stroke-width="0.45" /><line x1="111.25" y1="350.41" x2="110.04" y2="351.36" stroke="#c6c69a" stroke-width="0.45" /><line x1="123.57" y1="354.43" x2="124.45" y2="354.53" stroke="#c6c69a" stroke-width="0.45" /><line x1="133.97" y1="355.13" x2="134.81" y2="355.23" stroke="#c6c69a" stroke-width="0.45" /><line x1="111.61" y1="356.60" x2="112.69" y2="357.50" stroke="#c6c69a" stroke-width="0.45" /><line x1="132.58" y1="353.24" x2="131.58" y2="353.50" stroke="#c6c69a" stroke-width="0.45" /><line x1="108.96" y1="346.11" x2="108.32" y2="346.73" stroke="#c6c69a" stroke-width="0.45" /><line x1="133.88" y1="354.06" x2="135.15" y2="354.91" stroke="#c6c69a" stroke-width="0.45" /><line x1="109.25" y1="351.79" x2="110.68" y2="352.28" stroke="#c6c69a" stroke-width="0.45" /><line x1="131.35" y1="356.44" x2="132.91" y2="356.45" stroke="#c6c69a" stroke-width="0.45" /><line x1="121.20" y1="355.35" x2="121.19" y2="356.70" stroke="#c6c69a" stroke-width="0.45" /><line x1="122.37" y1="355.09" x2="123.20" y2="355.30" stroke="#c6c69a" stroke-width="0.45" /><line x1="120.88" y1="349.25" x2="121.14" y2="350.01" stroke="#c6c69a" stroke-width="0.45" /><line x1="126.95" y1="346.18" x2="125.63" y2="346.96" stroke="#c6c69a" stroke-width="0.45" /><line x1="118.22" y1="347.30" x2="117.77" y2="348.18" stroke="#c6c69a" stroke-width="0.45" /><line x1="117.34" y1="347.17" x2="116.06" y2="347.27" stroke="#c6c69a" stroke-width="0.45" /><line x1="115.02" y1="346.98" x2="113.98" y2="348.15" stroke="#c6c69a" stroke-width="0.45" /><line x1="130.09" y1="347.07" x2="130.52" y2="348.05" stroke="#c6c69a" stroke-width="0.45" /><line x1="127.48" y1="347.60" x2="126.93" y2="349.19" stroke="#c6c69a" stroke-width="0.45" /><line x1="127.67" y1="345.98" x2="128.55" y2="346.19" stroke="#c6c69a" stroke-width="0.45" /><line x1="125.35" y1="352.79" x2="125.27" y2="353.99" stroke="#c6c69a" stroke-width="0.45" /><line x1="116.68" y1="352.93" x2="115.95" y2="354.38" stroke="#c6c69a" stroke-width="0.45" /><line x1="126.57" y1="355.06" x2="125.08" y2="355.48" stroke="#c6c69a" stroke-width="0.45" /><line x1="126.09" y1="346.25" x2="125.24" y2="347.57" stroke="#c6c69a" stroke-width="0.45" /><line x1="117.40" y1="356.00" x2="118.79" y2="356.88" stroke="#c6c69a" stroke-width="0.45" /><line x1="117.73" y1="354.02" x2="118.48" y2="354.79" stroke="#c6c69a" stroke-width="0.45" /><line x1="114.89" y1="349.63" x2="116.04" y2="349.98" stroke="#c6c69a" stroke-width="0.45" /><line x1="134.12" y1="353.42" x2="132.67" y2="353.74" stroke="#c6c69a" stroke-width="0.45" /><line x1="129.74" y1="357.33" x2="128.99" y2="358.07" stroke="#c6c69a" stroke-width="0.45" /><line x1="111.89" y1="350.64" x2="112.90" y2="350.71" stroke="#c6c69a" stroke-width="0.45" /><line x1="131.24" y1="356.49" x2="132.01" y2="357.77" stroke="#c6c69a" stroke-width="0.45" /><line x1="127.86" y1="356.13" x2="126.84" y2="356.90" stroke="#c6c69a" stroke-width="0.45" /><line x1="107.49" y1="355.39" x2="108.24" y2="356.53" stroke="#c6c69a" stroke-width="0.45" /><line x1="115.46" y1="352.08" x2="114.52" y2="352.18" stroke="#c6c69a" stroke-width="0.45" /><line x1="120.44" y1="353.37" x2="120.24" y2="355.01" stroke="#c6c69a" stroke-width="0.45" /><line x1="116.69" y1="356.41" x2="115.75" y2="357.79" stroke="#c6c69a" stroke-width="0.45" /><line x1="107.03" y1="348.34" x2="108.03" y2="349.61" stroke="#c6c69a" stroke-width="0.45" /><line x1="104.71" y1="348.89" x2="103.65" y2="350.21" stroke="#c6c69a" stroke-width="0.45" /><line x1="109.66" y1="350.94" x2="108.87" y2="352.12" stroke="#c6c69a" stroke-width="0.45" /><line x1="126.98" y1="354.56" x2="127.71" y2="355.29" stroke="#c6c69a" stroke-width="0.45" /><line x1="105.14" y1="353.85" x2="105.96" y2="354.48" stroke="#c6c69a" stroke-width="0.45" /><line x1="133.62" y1="353.30" x2="133.22" y2="354.63" stroke="#c6c69a" stroke-width="0.45" /><line x1="122.47" y1="353.89" x2="122.97" y2="354.59" stroke="#c6c69a" stroke-width="0.45" /><line x1="106.33" y1="346.07" x2="106.73" y2="346.91" stroke="#c6c69a" stroke-width="0.45" /><line x1="107.73" y1="351.58" x2="106.32" y2="351.71" stroke="#c6c69a" stroke-width="0.45" /><line x1="112.61" y1="354.75" x2="113.37" y2="355.22" stroke="#c6c69a" stroke-width="0.45" /><line x1="113.52" y1="350.60" x2="112.84" y2="351.60" stroke="#c6c69a" stroke-width="0.45" /><line x1="126.44" y1="346.99" x2="125.36" y2="347.22" stroke="#c6c69a" stroke-width="0.45" /><line x1="129.60" y1="346.25" x2="128.74" y2="346.77" stroke="#c6c69a" stroke-width="0.45" /><line x1="130.29" y1="355.13" x2="129.76" y2="356.04" stroke="#c6c69a" stroke-width="0.45" /><line x1="104.60" y1="348.08" x2="103.70" y2="348.36" stroke="#c6c69a" stroke-width="0.45" /><line x1="124.34" y1="352.65" x2="123.87" y2="353.49" stroke="#c6c69a" stroke-width="0.45" /><line x1="108.67" y1="347.02" x2="107.52" y2="347.08" stroke="#c6c69a" stroke-width="0.45" /><line x1="124.13" y1="352.45" x2="124.78" y2="353.00" stroke="#c6c69a" stroke-width="0.45" /><line x1="104.75" y1="355.70" x2="106.28" y2="356.37" stroke="#c6c69a" stroke-width="0.45" /><line x1="115.35" y1="354.21" x2="116.72" y2="354.85" stroke="#c6c69a" stroke-width="0.45" /><line x1="111.95" y1="350.11" x2="111.88" y2="351.01" stroke="#c6c69a" stroke-width="0.45" /><line x1="111.85" y1="355.05" x2="112.56" y2="355.95" stroke="#c6c69a" stroke-width="0.45" /><line x1="127.55" y1="348.48" x2="128.37" y2="349.05" stroke="#c6c69a" stroke-width="0.45" /><line x1="115.98" y1="350.10" x2="115.45" y2="351.21" stroke="#c6c69a" stroke-width="0.45" /><line x1="130.74" y1="346.48" x2="129.97" y2="347.83" stroke="#c6c69a" stroke-width="0.45" /><line x1="111.44" y1="346.24" x2="111.61" y2="347.13" stroke="#c6c69a" stroke-width="0.45" /><line x1="118.28" y1="354.08" x2="119.15" y2="354.35" stroke="#c6c69a" stroke-width="0.45" /><line x1="118.88" y1="347.90" x2="119.77" y2="348.69" stroke="#c6c69a" stroke-width="0.45" /><line x1="107.90" y1="346.68" x2="108.41" y2="347.79" stroke="#c6c69a" stroke-width="0.45" /><line x1="132.77" y1="352.28" x2="133.75" y2="352.50" stroke="#c6c69a" stroke-width="0.45" /><line x1="126.92" y1="352.37" x2="125.39" y2="353.03" stroke="#c6c69a" stroke-width="0.45" /><line x1="130.38" y1="347.17" x2="129.13" y2="347.39" stroke="#c6c69a" stroke-width="0.45" /><line x1="111.59" y1="347.86" x2="110.69" y2="348.27" stroke="#c6c69a" stroke-width="0.45" /><line x1="106.83" y1="348.95" x2="105.65" y2="349.24" stroke="#c6c69a" stroke-width="0.45" /><line x1="126.53" y1="346.76" x2="126.69" y2="347.83" stroke="#c6c69a" stroke-width="0.45" /><line x1="110.54" y1="353.52" x2="110.93" y2="354.35" stroke="#c6c69a" stroke-width="0.45" /><line x1="134.22" y1="351.44" x2="134.90" y2="351.87" stroke="#c6c69a" stroke-width="0.45" /><line x1="124.15" y1="351.82" x2="125.37" y2="351.91" stroke="#c6c69a" stroke-width="0.45" /><line x1="126.81" y1="352.08" x2="127.74" y2="352.91" stroke="#c6c69a" stroke-width="0.45" /><line x1="122.69" y1="353.39" x2="124.06" y2="354.06" stroke="#c6c69a" stroke-width="0.45" /><line x1="133.05" y1="354.41" x2="132.03" y2="354.90" stroke="#c6c69a" stroke-width="0.45" /><line x1="131.74" y1="347.99" x2="132.76" y2="348.86" stroke="#c6c69a" stroke-width="0.45" /><line x1="131.71" y1="346.84" x2="132.35" y2="347.37" stroke="#c6c69a" stroke-width="0.45" /><line x1="117.65" y1="347.52" x2="118.86" y2="348.35" stroke="#c6c69a" stroke-width="0.45" /><line x1="122.03" y1="356.70" x2="122.46" y2="358.05" stroke="#c6c69a" stroke-width="0.45" /><line x1="104.68" y1="356.81" x2="105.60" y2="357.63" stroke="#c6c69a" stroke-width="0.45" /><line x1="119.85" y1="356.81" x2="119.90" y2="358.50" stroke="#c6c69a" stroke-width="0.45" /><line x1="123.19" y1="348.39" x2="122.33" y2="348.88" stroke="#c6c69a" stroke-width="0.45" /><line x1="134.69" y1="351.15" x2="135.95" y2="352.24" stroke="#c6c69a" stroke-width="0.45" /><line x1="114.08" y1="350.58" x2="114.75" y2="351.82" stroke="#c6c69a" stroke-width="0.45" /><line x1="105.00" y1="350.20" x2="106.35" y2="350.95" stroke="#c6c69a" stroke-width="0.45" /><line x1="104.30" y1="352.89" x2="105.14" y2="353.76" stroke="#c6c69a" stroke-width="0.45" /><line x1="121.38" y1="354.08" x2="122.30" y2="354.51" stroke="#c6c69a" stroke-width="0.45" /><line x1="107.96" y1="356.94" x2="108.79" y2="357.36" stroke="#c6c69a" stroke-width="0.45" /><line x1="120.18" y1="352.59" x2="119.38" y2="352.88" stroke="#c6c69a" stroke-width="0.45" /><line x1="111.42" y1="347.83" x2="111.10" y2="348.99" stroke="#c6c69a" stroke-width="0.45" /><line x1="116.73" y1="356.12" x2="115.97" y2="357.49" stroke="#c6c69a" stroke-width="0.45" /><line x1="133.39" y1="348.99" x2="132.24" y2="349.20" stroke="#c6c69a" stroke-width="0.45" /><line x1="105.87" y1="356.42" x2="106.64" y2="356.68" stroke="#c6c69a" stroke-width="0.45" /><line x1="113.11" y1="349.22" x2="111.53" y2="349.39" stroke="#c6c69a" stroke-width="0.45" /><line x1="117.07" y1="351.99" x2="115.71" y2="352.69" stroke="#c6c69a" stroke-width="0.45" /><line x1="124.16" y1="351.80" x2="125.12" y2="352.16" stroke="#c6c69a" stroke-width="0.45" /><line x1="124.31" y1="352.64" x2="123.00" y2="353.58" stroke="#c6c69a" stroke-width="0.45" /><line x1="133.56" y1="348.12" x2="135.12" y2="348.50" stroke="#c6c69a" stroke-width="0.45" /><line x1="121.64" y1="347.99" x2="121.05" y2="348.84" stroke="#c6c69a" stroke-width="0.45" /><line x1="111.49" y1="350.11" x2="111.39" y2="351.52" stroke="#c6c69a" stroke-width="0.45" /><line x1="106.53" y1="354.42" x2="106.07" y2="355.56" stroke="#c6c69a" stroke-width="0.45" /><line x1="124.73" y1="355.10" x2="125.96" y2="355.13" stroke="#c6c69a" stroke-width="0.45" /><line x1="124.91" y1="354.05" x2="124.48" y2="354.92" stroke="#c6c69a" stroke-width="0.45" /><line x1="133.44" y1="354.94" x2="134.32" y2="355.73" stroke="#c6c69a" stroke-width="0.45" /><line x1="133.42" y1="348.28" x2="133.89" y2="349.88" stroke="#c6c69a" stroke-width="0.45" /><line x1="131.66" y1="348.57" x2="130.91" y2="349.40" stroke="#c6c69a" stroke-width="0.45" /><line x1="124.47" y1="354.72" x2="125.39" y2="355.11" stroke="#c6c69a" stroke-width="0.45" /><line x1="110.83" y1="348.96" x2="111.75" y2="349.06" stroke="#c6c69a" stroke-width="0.45" /><line x1="116.65" y1="350.74" x2="117.93" y2="351.06" stroke="#c6c69a" stroke-width="0.45" /><line x1="132.95" y1="352.54" x2="133.58" y2="353.82" stroke="#c6c69a" stroke-width="0.45" /><line x1="117.59" y1="347.92" x2="117.64" y2="348.73" stroke="#c6c69a" stroke-width="0.45" /><circle cx="124.85" cy="347.92" r="0.6" fill="#fff"/><circle cx="115.54" cy="356.98" r="0.6" fill="#fff"/><circle cx="127.61" cy="355.54" r="0.6" fill="#fff"/><circle cx="123.82" cy="353.27" r="0.6" fill="#fff"/><circle cx="125.73" cy="357.02" r="0.6" fill="#fff"/><circle cx="110.27" cy="354.76" r="0.6" fill="#fff"/><circle cx="113.45" cy="348.99" r="0.6" fill="#fff"/><circle cx="129.28" cy="352.89" r="0.6" fill="#fff"/><circle cx="130.13" cy="355.99" r="0.6" fill="#fff"/><circle cx="122.20" cy="348.34" r="0.6" fill="#fff"/><circle cx="104.76" cy="352.14" r="0.6" fill="#fff"/><circle cx="126.36" cy="349.18" r="0.6" fill="#fff"/><circle cx="106.43" cy="346.15" r="0.6" fill="#fff"/><circle cx="109.57" cy="353.96" r="0.6" fill="#fff"/><circle cx="104.42" cy="348.70" r="0.6" fill="#fff"/><circle cx="112.36" cy="354.14" r="0.6" fill="#fff"/><circle cx="134.31" cy="346.32" r="0.6" fill="#fff"/><circle cx="107.77" cy="356.66" r="0.6" fill="#fff"/><circle cx="133.79" cy="347.78" r="0.6" fill="#fff"/><circle cx="114.49" cy="352.00" r="0.6" fill="#fff"/><circle cx="114.03" cy="350.82" r="0.6" fill="#fff"/><circle cx="118.86" cy="349.02" r="0.6" fill="#fff"/><circle cx="105.97" cy="347.05" r="0.6" fill="#fff"/><circle cx="109.24" cy="347.13" r="0.6" fill="#fff"/><circle cx="123.27" cy="353.97" r="0.6" fill="#fff"/><circle cx="112.29" cy="355.05" r="0.6" fill="#fff"/><circle cx="126.45" cy="349.96" r="0.6" fill="#fff"/><circle cx="119.25" cy="348.23" r="0.6" fill="#fff"/><circle cx="132.54" cy="352.43" r="0.6" fill="#fff"/><circle cx="105.86" cy="347.84" r="0.6" fill="#fff"/><circle cx="125.36" cy="350.45" r="0.6" fill="#fff"/><circle cx="126.10" cy="348.69" r="0.6" fill="#fff"/><circle cx="128.53" cy="355.16" r="0.6" fill="#fff"/><circle cx="107.16" cy="352.72" r="0.6" fill="#fff"/><circle cx="110.12" cy="354.10" r="0.6" fill="#fff"/><circle cx="128.74" cy="355.04" r="0.6" fill="#fff"/><circle cx="111.33" cy="347.15" r="0.6" fill="#fff"/><circle cx="124.47" cy="352.48" r="0.6" fill="#fff"/><circle cx="108.50" cy="348.28" r="0.6" fill="#fff"/><circle cx="122.01" cy="347.32" r="0.6" fill="#fff"/><circle cx="123.57" cy="348.82" r="0.6" fill="#fff"/><circle cx="112.16" cy="350.89" r="0.6" fill="#fff"/><circle cx="120.51" cy="354.29" r="0.6" fill="#fff"/><circle cx="105.24" cy="354.29" r="0.6" fill="#fff"/><circle cx="111.02" cy="349.39" r="0.6" fill="#fff"/><circle cx="123.75" cy="353.91" r="0.6" fill="#fff"/><circle cx="122.99" cy="356.29" r="0.6" fill="#fff"/><circle cx="110.52" cy="349.62" r="0.6" fill="#fff"/><circle cx="107.46" cy="343.02" r="0.55" fill="#f7cad4"/><circle cx="111.06" cy="342.95" r="0.55" fill="#f7cad4"/><circle cx="115.77" cy="344.15" r="0.55" fill="#f7cad4"/><circle cx="119.82" cy="344.42" r="0.55" fill="#f7cad4"/><circle cx="123.99" cy="343.12" r="0.55" fill="#f7cad4"/><circle cx="127.62" cy="343.94" r="0.55" fill="#f7cad4"/><circle cx="131.46" cy="343.72" r="0.55" fill="#f7cad4"/></g>
<path d="M104.71 345.70 A15.2 15.2 0 0 0 134.29 345.70" fill="none" stroke="#cdcdb0" stroke-width="0.8" />
<line x1="119.70" y1="356.20" x2="119.70" y2="365.60" stroke="#a6eaf4" stroke-width="0.85" stroke-dasharray="1.7 1.1"/>
<clipPath id="cc7"><circle cx="119.5" cy="366.70" r="14.899999999999999"/></clipPath>
<circle cx="119.5" cy="366.70" r="15.2" fill="none" stroke="#d4d4d4" stroke-width="0.9"/>
<g clip-path="url(#cc7)"><rect x="104.30" y="367.20" width="30.40" height="4.60" fill="#d6f4c9" stroke="none" stroke-width="1" /><rect x="104.30" y="371.60" width="30.40" height="15.20" fill="#f0f0e0" stroke="none" stroke-width="1" /><line x1="107.01" y1="372.30" x2="106.97" y2="373.23" stroke="#c6c69a" stroke-width="0.45" /><line x1="132.62" y1="380.66" x2="132.74" y2="381.63" stroke="#c6c69a" stroke-width="0.45" /><line x1="107.94" y1="376.92" x2="107.86" y2="378.04" stroke="#c6c69a" stroke-width="0.45" /><line x1="126.08" y1="377.15" x2="125.39" y2="377.73" stroke="#c6c69a" stroke-width="0.45" /><line x1="106.43" y1="375.71" x2="106.48" y2="376.73" stroke="#c6c69a" stroke-width="0.45" /><line x1="124.62" y1="374.04" x2="125.29" y2="375.08" stroke="#c6c69a" stroke-width="0.45" /><line x1="125.96" y1="379.58" x2="126.43" y2="380.69" stroke="#c6c69a" stroke-width="0.45" /><line x1="132.50" y1="381.23" x2="132.17" y2="382.07" stroke="#c6c69a" stroke-width="0.45" /><line x1="118.15" y1="378.23" x2="118.69" y2="378.87" stroke="#c6c69a" stroke-width="0.45" /><line x1="134.13" y1="380.99" x2="135.25" y2="381.47" stroke="#c6c69a" stroke-width="0.45" /><line x1="123.13" y1="374.83" x2="124.57" y2="375.15" stroke="#c6c69a" stroke-width="0.45" /><line x1="127.73" y1="376.22" x2="128.84" y2="376.52" stroke="#c6c69a" stroke-width="0.45" /><line x1="107.16" y1="381.53" x2="108.20" y2="381.70" stroke="#c6c69a" stroke-width="0.45" /><line x1="127.64" y1="373.16" x2="128.46" y2="373.45" stroke="#c6c69a" stroke-width="0.45" /><line x1="109.29" y1="377.17" x2="108.46" y2="377.65" stroke="#c6c69a" stroke-width="0.45" /><line x1="109.58" y1="379.53" x2="109.84" y2="380.60" stroke="#c6c69a" stroke-width="0.45" /><line x1="108.05" y1="374.25" x2="107.15" y2="374.33" stroke="#c6c69a" stroke-width="0.45" /><line x1="112.19" y1="379.28" x2="110.67" y2="379.82" stroke="#c6c69a" stroke-width="0.45" /><line x1="118.67" y1="381.46" x2="118.33" y2="382.46" stroke="#c6c69a" stroke-width="0.45" /><line x1="118.44" y1="379.03" x2="117.83" y2="379.71" stroke="#c6c69a" stroke-width="0.45" /><line x1="110.19" y1="381.48" x2="111.63" y2="381.98" stroke="#c6c69a" stroke-width="0.45" /><line x1="114.60" y1="374.30" x2="115.45" y2="375.18" stroke="#c6c69a" stroke-width="0.45" /><line x1="134.41" y1="373.30" x2="133.44" y2="373.78" stroke="#c6c69a" stroke-width="0.45" /><line x1="109.55" y1="379.32" x2="110.02" y2="380.17" stroke="#c6c69a" stroke-width="0.45" /><line x1="117.02" y1="380.10" x2="115.82" y2="380.65" stroke="#c6c69a" stroke-width="0.45" /><line x1="104.62" y1="379.51" x2="104.09" y2="381.03" stroke="#c6c69a" stroke-width="0.45" /><line x1="133.24" y1="375.10" x2="131.88" y2="375.81" stroke="#c6c69a" stroke-width="0.45" /><line x1="112.39" y1="375.49" x2="112.81" y2="376.53" stroke="#c6c69a" stroke-width="0.45" /><line x1="115.80" y1="372.91" x2="117.02" y2="373.97" stroke="#c6c69a" stroke-width="0.45" /><line x1="116.78" y1="378.22" x2="115.39" y2="378.73" stroke="#c6c69a" stroke-width="0.45" /><line x1="111.73" y1="381.09" x2="110.35" y2="382.06" stroke="#c6c69a" stroke-width="0.45" /><line x1="126.43" y1="379.42" x2="125.58" y2="379.99" stroke="#c6c69a" stroke-width="0.45" /><line x1="124.24" y1="375.64" x2="123.43" y2="376.09" stroke="#c6c69a" stroke-width="0.45" /><line x1="120.69" y1="375.20" x2="119.75" y2="375.79" stroke="#c6c69a" stroke-width="0.45" /><line x1="129.95" y1="380.36" x2="129.09" y2="380.71" stroke="#c6c69a" stroke-width="0.45" /><line x1="132.82" y1="379.32" x2="132.09" y2="380.50" stroke="#c6c69a" stroke-width="0.45" /><line x1="105.76" y1="380.59" x2="105.58" y2="381.79" stroke="#c6c69a" stroke-width="0.45" /><line x1="114.62" y1="379.71" x2="113.39" y2="380.71" stroke="#c6c69a" stroke-width="0.45" /><line x1="110.81" y1="375.24" x2="111.44" y2="375.87" stroke="#c6c69a" stroke-width="0.45" /><line x1="114.24" y1="372.06" x2="113.44" y2="372.66" stroke="#c6c69a" stroke-width="0.45" /><line x1="106.45" y1="372.48" x2="105.78" y2="373.19" stroke="#c6c69a" stroke-width="0.45" /><line x1="118.35" y1="375.86" x2="117.00" y2="376.82" stroke="#c6c69a" stroke-width="0.45" /><line x1="113.72" y1="378.19" x2="112.56" y2="378.58" stroke="#c6c69a" stroke-width="0.45" /><line x1="131.65" y1="379.21" x2="132.54" y2="380.53" stroke="#c6c69a" stroke-width="0.45" /><line x1="121.73" y1="372.87" x2="121.31" y2="374.36" stroke="#c6c69a" stroke-width="0.45" /><line x1="120.06" y1="376.69" x2="120.48" y2="378.23" stroke="#c6c69a" stroke-width="0.45" /><line x1="124.53" y1="373.90" x2="125.00" y2="374.92" stroke="#c6c69a" stroke-width="0.45" /><line x1="133.44" y1="378.83" x2="134.94" y2="379.45" stroke="#c6c69a" stroke-width="0.45" /><line x1="105.36" y1="377.77" x2="105.67" y2="379.18" stroke="#c6c69a" stroke-width="0.45" /><line x1="117.35" y1="372.73" x2="117.24" y2="374.27" stroke="#c6c69a" stroke-width="0.45" /><line x1="128.28" y1="375.40" x2="129.41" y2="376.35" stroke="#c6c69a" stroke-width="0.45" /><line x1="128.67" y1="374.01" x2="127.09" y2="374.62" stroke="#c6c69a" stroke-width="0.45" /><line x1="117.48" y1="375.64" x2="116.47" y2="376.94" stroke="#c6c69a" stroke-width="0.45" /><line x1="110.43" y1="374.85" x2="111.18" y2="376.10" stroke="#c6c69a" stroke-width="0.45" /><line x1="109.98" y1="377.32" x2="109.98" y2="378.72" stroke="#c6c69a" stroke-width="0.45" /><line x1="108.65" y1="381.46" x2="107.35" y2="381.46" stroke="#c6c69a" stroke-width="0.45" /><line x1="128.47" y1="373.65" x2="127.23" y2="374.01" stroke="#c6c69a" stroke-width="0.45" /><line x1="127.39" y1="380.57" x2="128.08" y2="382.05" stroke="#c6c69a" stroke-width="0.45" /><line x1="110.60" y1="372.04" x2="110.59" y2="373.65" stroke="#c6c69a" stroke-width="0.45" /><line x1="131.67" y1="381.45" x2="131.62" y2="383.08" stroke="#c6c69a" stroke-width="0.45" /><line x1="121.32" y1="373.25" x2="120.71" y2="374.65" stroke="#c6c69a" stroke-width="0.45" /><line x1="117.19" y1="377.88" x2="117.90" y2="378.64" stroke="#c6c69a" stroke-width="0.45" /><line x1="117.08" y1="376.98" x2="117.16" y2="377.86" stroke="#c6c69a" stroke-width="0.45" /><line x1="104.47" y1="375.24" x2="103.54" y2="376.38" stroke="#c6c69a" stroke-width="0.45" /><line x1="111.51" y1="374.38" x2="111.46" y2="375.34" stroke="#c6c69a" stroke-width="0.45" /><line x1="122.63" y1="380.93" x2="123.70" y2="381.72" stroke="#c6c69a" stroke-width="0.45" /><line x1="126.21" y1="379.37" x2="125.32" y2="380.50" stroke="#c6c69a" stroke-width="0.45" /><line x1="112.59" y1="380.27" x2="111.76" y2="380.46" stroke="#c6c69a" stroke-width="0.45" /><line x1="133.00" y1="376.27" x2="133.83" y2="376.50" stroke="#c6c69a" stroke-width="0.45" /><line x1="128.52" y1="378.64" x2="129.62" y2="379.17" stroke="#c6c69a" stroke-width="0.45" /><line x1="123.72" y1="381.88" x2="124.45" y2="383.17" stroke="#c6c69a" stroke-width="0.45" /><line x1="111.75" y1="373.81" x2="112.77" y2="374.38" stroke="#c6c69a" stroke-width="0.45" /><line x1="123.09" y1="374.86" x2="123.96" y2="375.35" stroke="#c6c69a" stroke-width="0.45" /><line x1="106.88" y1="373.75" x2="107.57" y2="374.80" stroke="#c6c69a" stroke-width="0.45" /><line x1="109.88" y1="376.65" x2="110.20" y2="378.29" stroke="#c6c69a" stroke-width="0.45" /><line x1="119.08" y1="381.34" x2="119.17" y2="382.32" stroke="#c6c69a" stroke-width="0.45" /><line x1="122.30" y1="373.26" x2="123.04" y2="373.70" stroke="#c6c69a" stroke-width="0.45" /><line x1="125.62" y1="381.57" x2="125.96" y2="382.63" stroke="#c6c69a" stroke-width="0.45" /><line x1="117.23" y1="375.36" x2="116.58" y2="376.31" stroke="#c6c69a" stroke-width="0.45" /><line x1="108.93" y1="380.53" x2="108.75" y2="381.31" stroke="#c6c69a" stroke-width="0.45" /><line x1="130.12" y1="379.16" x2="130.73" y2="380.38" stroke="#c6c69a" stroke-width="0.45" /><line x1="132.27" y1="375.86" x2="132.50" y2="376.90" stroke="#c6c69a" stroke-width="0.45" /><line x1="121.15" y1="378.49" x2="120.03" y2="379.72" stroke="#c6c69a" stroke-width="0.45" /><line x1="108.72" y1="375.50" x2="107.37" y2="376.17" stroke="#c6c69a" stroke-width="0.45" /><line x1="122.24" y1="378.64" x2="123.03" y2="380.09" stroke="#c6c69a" stroke-width="0.45" /><line x1="121.00" y1="375.87" x2="121.76" y2="376.36" stroke="#c6c69a" stroke-width="0.45" /><line x1="131.58" y1="379.88" x2="132.67" y2="379.98" stroke="#c6c69a" stroke-width="0.45" /><line x1="118.88" y1="376.81" x2="119.55" y2="378.27" stroke="#c6c69a" stroke-width="0.45" /><line x1="114.94" y1="377.17" x2="113.59" y2="377.48" stroke="#c6c69a" stroke-width="0.45" /><line x1="118.80" y1="375.16" x2="119.27" y2="376.42" stroke="#c6c69a" stroke-width="0.45" /><line x1="128.19" y1="374.43" x2="128.65" y2="375.49" stroke="#c6c69a" stroke-width="0.45" /><line x1="115.33" y1="381.02" x2="115.20" y2="382.06" stroke="#c6c69a" stroke-width="0.45" /><line x1="114.40" y1="380.10" x2="115.65" y2="380.78" stroke="#c6c69a" stroke-width="0.45" /><line x1="104.96" y1="373.75" x2="106.46" y2="374.03" stroke="#c6c69a" stroke-width="0.45" /><line x1="108.77" y1="374.10" x2="109.79" y2="374.29" stroke="#c6c69a" stroke-width="0.45" /><line x1="126.60" y1="379.07" x2="125.01" y2="379.53" stroke="#c6c69a" stroke-width="0.45" /><line x1="121.05" y1="381.11" x2="122.62" y2="381.57" stroke="#c6c69a" stroke-width="0.45" /><line x1="117.49" y1="373.75" x2="116.39" y2="374.87" stroke="#c6c69a" stroke-width="0.45" /><line x1="116.03" y1="372.74" x2="114.67" y2="373.32" stroke="#c6c69a" stroke-width="0.45" /><line x1="122.45" y1="381.67" x2="123.29" y2="381.77" stroke="#c6c69a" stroke-width="0.45" /><line x1="108.08" y1="372.02" x2="107.24" y2="373.10" stroke="#c6c69a" stroke-width="0.45" /><line x1="107.72" y1="373.44" x2="108.85" y2="374.16" stroke="#c6c69a" stroke-width="0.45" /><line x1="124.74" y1="381.59" x2="125.46" y2="383.12" stroke="#c6c69a" stroke-width="0.45" /><line x1="117.51" y1="375.75" x2="118.21" y2="376.47" stroke="#c6c69a" stroke-width="0.45" /><line x1="133.93" y1="381.85" x2="133.35" y2="382.61" stroke="#c6c69a" stroke-width="0.45" /><line x1="109.77" y1="373.34" x2="110.43" y2="374.64" stroke="#c6c69a" stroke-width="0.45" /><line x1="106.09" y1="377.16" x2="105.65" y2="377.86" stroke="#c6c69a" stroke-width="0.45" /><line x1="117.66" y1="379.79" x2="117.38" y2="380.96" stroke="#c6c69a" stroke-width="0.45" /><line x1="131.09" y1="377.87" x2="131.66" y2="378.88" stroke="#c6c69a" stroke-width="0.45" /><line x1="132.98" y1="380.48" x2="131.72" y2="380.83" stroke="#c6c69a" stroke-width="0.45" /><line x1="108.63" y1="373.57" x2="109.14" y2="374.90" stroke="#c6c69a" stroke-width="0.45" /><line x1="104.44" y1="379.90" x2="103.45" y2="380.69" stroke="#c6c69a" stroke-width="0.45" /><line x1="104.47" y1="379.86" x2="104.84" y2="381.21" stroke="#c6c69a" stroke-width="0.45" /><line x1="121.62" y1="379.16" x2="122.09" y2="380.75" stroke="#c6c69a" stroke-width="0.45" /><line x1="133.35" y1="381.18" x2="132.96" y2="382.20" stroke="#c6c69a" stroke-width="0.45" /><line x1="115.75" y1="374.52" x2="114.30" y2="374.97" stroke="#c6c69a" stroke-width="0.45" /><line x1="128.26" y1="380.09" x2="126.84" y2="380.14" stroke="#c6c69a" stroke-width="0.45" /><line x1="113.98" y1="379.45" x2="114.89" y2="380.44" stroke="#c6c69a" stroke-width="0.45" /><line x1="109.12" y1="380.46" x2="109.15" y2="381.51" stroke="#c6c69a" stroke-width="0.45" /><line x1="132.36" y1="372.64" x2="130.91" y2="372.96" stroke="#c6c69a" stroke-width="0.45" /><line x1="108.83" y1="379.49" x2="108.46" y2="381.06" stroke="#c6c69a" stroke-width="0.45" /><line x1="122.13" y1="376.12" x2="121.27" y2="376.30" stroke="#c6c69a" stroke-width="0.45" /><line x1="127.92" y1="372.84" x2="128.51" y2="373.53" stroke="#c6c69a" stroke-width="0.45" /><line x1="130.79" y1="376.26" x2="130.11" y2="377.04" stroke="#c6c69a" stroke-width="0.45" /><line x1="126.50" y1="378.35" x2="127.69" y2="378.73" stroke="#c6c69a" stroke-width="0.45" /><line x1="126.24" y1="373.97" x2="125.75" y2="374.90" stroke="#c6c69a" stroke-width="0.45" /><line x1="115.56" y1="381.09" x2="113.89" y2="381.39" stroke="#c6c69a" stroke-width="0.45" /><line x1="117.27" y1="377.57" x2="116.05" y2="378.41" stroke="#c6c69a" stroke-width="0.45" /><line x1="118.17" y1="380.52" x2="118.67" y2="382.10" stroke="#c6c69a" stroke-width="0.45" /><line x1="118.67" y1="373.00" x2="118.02" y2="373.66" stroke="#c6c69a" stroke-width="0.45" /><circle cx="124.96" cy="372.53" r="0.6" fill="#fff"/><circle cx="134.34" cy="377.36" r="0.6" fill="#fff"/><circle cx="126.81" cy="373.30" r="0.6" fill="#fff"/><circle cx="123.66" cy="375.73" r="0.6" fill="#fff"/><circle cx="111.87" cy="380.07" r="0.6" fill="#fff"/><circle cx="105.31" cy="376.73" r="0.6" fill="#fff"/><circle cx="106.94" cy="380.43" r="0.6" fill="#fff"/><circle cx="131.45" cy="372.34" r="0.6" fill="#fff"/><circle cx="118.42" cy="376.64" r="0.6" fill="#fff"/><circle cx="126.15" cy="379.22" r="0.6" fill="#fff"/><circle cx="114.73" cy="381.23" r="0.6" fill="#fff"/><circle cx="109.93" cy="373.35" r="0.6" fill="#fff"/><circle cx="129.07" cy="373.19" r="0.6" fill="#fff"/><circle cx="109.95" cy="376.95" r="0.6" fill="#fff"/><circle cx="114.52" cy="373.62" r="0.6" fill="#fff"/><circle cx="132.57" cy="376.69" r="0.6" fill="#fff"/><circle cx="128.19" cy="374.48" r="0.6" fill="#fff"/><circle cx="132.04" cy="374.19" r="0.6" fill="#fff"/><circle cx="131.86" cy="378.07" r="0.6" fill="#fff"/><circle cx="133.82" cy="379.63" r="0.6" fill="#fff"/><circle cx="123.48" cy="377.28" r="0.6" fill="#fff"/><circle cx="130.29" cy="376.39" r="0.6" fill="#fff"/><circle cx="107.29" cy="381.05" r="0.6" fill="#fff"/><circle cx="128.79" cy="378.75" r="0.6" fill="#fff"/><circle cx="126.94" cy="374.30" r="0.6" fill="#fff"/><circle cx="118.39" cy="380.15" r="0.6" fill="#fff"/><circle cx="133.54" cy="381.14" r="0.6" fill="#fff"/><circle cx="109.18" cy="378.77" r="0.6" fill="#fff"/><circle cx="121.15" cy="376.01" r="0.6" fill="#fff"/><circle cx="109.40" cy="373.36" r="0.6" fill="#fff"/><circle cx="118.60" cy="376.88" r="0.6" fill="#fff"/><circle cx="112.44" cy="375.64" r="0.6" fill="#fff"/><circle cx="121.14" cy="379.54" r="0.6" fill="#fff"/><circle cx="122.22" cy="373.61" r="0.6" fill="#fff"/><circle cx="131.24" cy="375.64" r="0.6" fill="#fff"/><circle cx="133.48" cy="381.72" r="0.6" fill="#fff"/><circle cx="108.57" cy="377.76" r="0.6" fill="#fff"/><circle cx="133.69" cy="375.81" r="0.6" fill="#fff"/><circle cx="120.94" cy="375.11" r="0.6" fill="#fff"/><circle cx="105.17" cy="374.03" r="0.6" fill="#fff"/><circle cx="108.07" cy="374.81" r="0.6" fill="#fff"/><circle cx="123.44" cy="377.57" r="0.6" fill="#fff"/><circle cx="133.13" cy="378.79" r="0.6" fill="#fff"/><circle cx="115.31" cy="381.40" r="0.6" fill="#fff"/><circle cx="123.57" cy="377.38" r="0.6" fill="#fff"/><circle cx="130.52" cy="378.63" r="0.6" fill="#fff"/><circle cx="115.25" cy="377.99" r="0.6" fill="#fff"/><circle cx="113.43" cy="381.60" r="0.6" fill="#fff"/><circle cx="107.04" cy="370.35" r="0.55" fill="#e9d8e8"/><circle cx="110.96" cy="368.42" r="0.55" fill="#e9d8e8"/><circle cx="115.55" cy="368.81" r="0.55" fill="#e9d8e8"/><circle cx="119.61" cy="368.64" r="0.55" fill="#e9d8e8"/><circle cx="124.04" cy="369.74" r="0.55" fill="#e9d8e8"/><circle cx="127.98" cy="370.25" r="0.55" fill="#e9d8e8"/><circle cx="132.39" cy="369.76" r="0.55" fill="#e9d8e8"/></g>
<path d="M105.11 371.60 A15.2 15.2 0 0 0 133.89 371.60" fill="none" stroke="#cdcdb0" stroke-width="0.8" />
<line x1="119.70" y1="380.70" x2="119.70" y2="390.10" stroke="#a6eaf4" stroke-width="0.85" stroke-dasharray="1.7 1.1"/>
<clipPath id="cc8"><circle cx="119.5" cy="391.20" r="14.899999999999999"/></clipPath>
<circle cx="119.5" cy="391.20" r="15.2" fill="none" stroke="#d4d4d4" stroke-width="0.9"/>
<g clip-path="url(#cc8)"><rect x="104.30" y="391.70" width="30.40" height="4.60" fill="#eef6c6" stroke="none" stroke-width="1" /><rect x="104.30" y="396.10" width="30.40" height="15.20" fill="#f0f0e0" stroke="none" stroke-width="1" /><line x1="125.98" y1="396.32" x2="127.15" y2="396.50" stroke="#c6c69a" stroke-width="0.45" /><line x1="133.76" y1="399.46" x2="133.59" y2="400.25" stroke="#c6c69a" stroke-width="0.45" /><line x1="116.94" y1="405.42" x2="116.51" y2="406.90" stroke="#c6c69a" stroke-width="0.45" /><line x1="104.70" y1="398.35" x2="106.01" y2="399.17" stroke="#c6c69a" stroke-width="0.45" /><line x1="107.39" y1="405.71" x2="108.45" y2="406.90" stroke="#c6c69a" stroke-width="0.45" /><line x1="119.97" y1="399.57" x2="118.82" y2="399.69" stroke="#c6c69a" stroke-width="0.45" /><line x1="125.50" y1="396.98" x2="124.05" y2="397.83" stroke="#c6c69a" stroke-width="0.45" /><line x1="107.66" y1="403.84" x2="108.28" y2="404.54" stroke="#c6c69a" stroke-width="0.45" /><line x1="115.37" y1="402.98" x2="113.70" y2="403.23" stroke="#c6c69a" stroke-width="0.45" /><line x1="134.50" y1="402.60" x2="134.07" y2="403.43" stroke="#c6c69a" stroke-width="0.45" /><line x1="126.37" y1="401.87" x2="127.06" y2="403.32" stroke="#c6c69a" stroke-width="0.45" /><line x1="112.05" y1="397.73" x2="112.88" y2="398.18" stroke="#c6c69a" stroke-width="0.45" /><line x1="122.19" y1="404.39" x2="123.29" y2="404.99" stroke="#c6c69a" stroke-width="0.45" /><line x1="121.76" y1="401.96" x2="122.11" y2="403.20" stroke="#c6c69a" stroke-width="0.45" /><line x1="104.76" y1="396.89" x2="105.00" y2="397.87" stroke="#c6c69a" stroke-width="0.45" /><line x1="127.31" y1="398.74" x2="126.44" y2="399.28" stroke="#c6c69a" stroke-width="0.45" /><line x1="107.11" y1="401.12" x2="107.50" y2="402.16" stroke="#c6c69a" stroke-width="0.45" /><line x1="127.56" y1="398.55" x2="126.77" y2="399.88" stroke="#c6c69a" stroke-width="0.45" /><line x1="118.06" y1="401.38" x2="116.75" y2="401.70" stroke="#c6c69a" stroke-width="0.45" /><line x1="109.80" y1="397.00" x2="110.86" y2="397.28" stroke="#c6c69a" stroke-width="0.45" /><line x1="107.00" y1="402.85" x2="107.26" y2="403.90" stroke="#c6c69a" stroke-width="0.45" /><line x1="119.87" y1="405.76" x2="120.55" y2="406.41" stroke="#c6c69a" stroke-width="0.45" /><line x1="113.58" y1="399.58" x2="112.20" y2="399.98" stroke="#c6c69a" stroke-width="0.45" /><line x1="117.34" y1="397.98" x2="118.24" y2="398.11" stroke="#c6c69a" stroke-width="0.45" /><line x1="130.06" y1="402.85" x2="131.26" y2="403.49" stroke="#c6c69a" stroke-width="0.45" /><line x1="106.07" y1="401.42" x2="106.52" y2="402.20" stroke="#c6c69a" stroke-width="0.45" /><line x1="126.87" y1="403.54" x2="126.84" y2="404.49" stroke="#c6c69a" stroke-width="0.45" /><line x1="124.66" y1="400.68" x2="124.23" y2="401.45" stroke="#c6c69a" stroke-width="0.45" /><line x1="131.74" y1="396.34" x2="132.63" y2="397.08" stroke="#c6c69a" stroke-width="0.45" /><line x1="110.33" y1="397.19" x2="109.39" y2="398.60" stroke="#c6c69a" stroke-width="0.45" /><line x1="114.48" y1="398.99" x2="113.97" y2="399.85" stroke="#c6c69a" stroke-width="0.45" /><line x1="116.48" y1="403.25" x2="116.69" y2="404.17" stroke="#c6c69a" stroke-width="0.45" /><line x1="106.44" y1="401.78" x2="104.81" y2="401.83" stroke="#c6c69a" stroke-width="0.45" /><line x1="107.34" y1="401.37" x2="107.37" y2="402.35" stroke="#c6c69a" stroke-width="0.45" /><line x1="124.66" y1="401.31" x2="123.79" y2="401.91" stroke="#c6c69a" stroke-width="0.45" /><line x1="132.69" y1="404.53" x2="132.77" y2="405.45" stroke="#c6c69a" stroke-width="0.45" /><line x1="119.00" y1="397.58" x2="118.22" y2="398.77" stroke="#c6c69a" stroke-width="0.45" /><line x1="121.88" y1="406.16" x2="123.30" y2="406.37" stroke="#c6c69a" stroke-width="0.45" /><line x1="128.65" y1="397.44" x2="129.10" y2="398.16" stroke="#c6c69a" stroke-width="0.45" /><line x1="122.02" y1="403.60" x2="122.68" y2="404.87" stroke="#c6c69a" stroke-width="0.45" /><line x1="115.45" y1="403.49" x2="116.53" y2="404.78" stroke="#c6c69a" stroke-width="0.45" /><line x1="117.61" y1="396.34" x2="119.01" y2="396.75" stroke="#c6c69a" stroke-width="0.45" /><line x1="130.59" y1="402.73" x2="131.99" y2="403.47" stroke="#c6c69a" stroke-width="0.45" /><line x1="126.09" y1="397.46" x2="126.61" y2="398.77" stroke="#c6c69a" stroke-width="0.45" /><line x1="104.41" y1="396.73" x2="105.11" y2="398.15" stroke="#c6c69a" stroke-width="0.45" /><line x1="134.59" y1="399.51" x2="133.14" y2="399.94" stroke="#c6c69a" stroke-width="0.45" /><line x1="130.60" y1="402.24" x2="129.23" y2="402.37" stroke="#c6c69a" stroke-width="0.45" /><line x1="133.11" y1="402.02" x2="134.15" y2="402.75" stroke="#c6c69a" stroke-width="0.45" /><line x1="118.98" y1="399.71" x2="119.47" y2="400.87" stroke="#c6c69a" stroke-width="0.45" /><line x1="122.18" y1="398.55" x2="122.98" y2="399.51" stroke="#c6c69a" stroke-width="0.45" /><line x1="119.62" y1="400.53" x2="119.14" y2="401.37" stroke="#c6c69a" stroke-width="0.45" /><line x1="120.47" y1="399.09" x2="119.39" y2="400.03" stroke="#c6c69a" stroke-width="0.45" /><line x1="128.04" y1="401.53" x2="129.20" y2="402.68" stroke="#c6c69a" stroke-width="0.45" /><line x1="119.83" y1="400.09" x2="120.54" y2="401.01" stroke="#c6c69a" stroke-width="0.45" /><line x1="125.84" y1="404.57" x2="125.92" y2="406.02" stroke="#c6c69a" stroke-width="0.45" /><line x1="110.77" y1="400.87" x2="111.24" y2="401.84" stroke="#c6c69a" stroke-width="0.45" /><line x1="115.23" y1="403.92" x2="114.57" y2="404.66" stroke="#c6c69a" stroke-width="0.45" /><line x1="111.41" y1="404.22" x2="110.75" y2="405.47" stroke="#c6c69a" stroke-width="0.45" /><line x1="123.61" y1="403.30" x2="124.17" y2="403.95" stroke="#c6c69a" stroke-width="0.45" /><line x1="115.26" y1="396.63" x2="114.00" y2="396.78" stroke="#c6c69a" stroke-width="0.45" /><line x1="124.67" y1="406.06" x2="123.85" y2="406.64" stroke="#c6c69a" stroke-width="0.45" /><line x1="114.54" y1="397.40" x2="113.37" y2="398.27" stroke="#c6c69a" stroke-width="0.45" /><line x1="119.12" y1="400.03" x2="119.94" y2="400.96" stroke="#c6c69a" stroke-width="0.45" /><line x1="125.95" y1="405.34" x2="124.54" y2="406.07" stroke="#c6c69a" stroke-width="0.45" /><line x1="117.65" y1="400.55" x2="118.58" y2="401.95" stroke="#c6c69a" stroke-width="0.45" /><line x1="109.87" y1="397.89" x2="110.91" y2="399.15" stroke="#c6c69a" stroke-width="0.45" /><line x1="130.22" y1="399.65" x2="128.79" y2="400.37" stroke="#c6c69a" stroke-width="0.45" /><line x1="117.29" y1="398.24" x2="116.43" y2="398.99" stroke="#c6c69a" stroke-width="0.45" /><line x1="107.93" y1="405.42" x2="108.15" y2="406.56" stroke="#c6c69a" stroke-width="0.45" /><line x1="122.40" y1="398.88" x2="123.55" y2="398.95" stroke="#c6c69a" stroke-width="0.45" /><line x1="115.83" y1="396.41" x2="116.41" y2="397.78" stroke="#c6c69a" stroke-width="0.45" /><line x1="114.42" y1="403.16" x2="114.05" y2="404.06" stroke="#c6c69a" stroke-width="0.45" /><line x1="104.92" y1="403.11" x2="104.56" y2="404.11" stroke="#c6c69a" stroke-width="0.45" /><line x1="110.39" y1="404.94" x2="109.42" y2="405.22" stroke="#c6c69a" stroke-width="0.45" /><line x1="122.11" y1="402.10" x2="122.56" y2="402.81" stroke="#c6c69a" stroke-width="0.45" /><line x1="114.19" y1="402.81" x2="113.79" y2="404.00" stroke="#c6c69a" stroke-width="0.45" /><line x1="108.02" y1="398.45" x2="108.68" y2="399.42" stroke="#c6c69a" stroke-width="0.45" /><line x1="115.34" y1="405.41" x2="116.92" y2="406.01" stroke="#c6c69a" stroke-width="0.45" /><line x1="111.61" y1="404.95" x2="112.57" y2="405.87" stroke="#c6c69a" stroke-width="0.45" /><line x1="115.77" y1="396.68" x2="114.54" y2="397.60" stroke="#c6c69a" stroke-width="0.45" /><line x1="112.48" y1="404.14" x2="112.59" y2="405.82" stroke="#c6c69a" stroke-width="0.45" /><line x1="105.95" y1="400.14" x2="106.98" y2="401.04" stroke="#c6c69a" stroke-width="0.45" /><line x1="127.95" y1="404.81" x2="127.78" y2="405.94" stroke="#c6c69a" stroke-width="0.45" /><line x1="128.61" y1="397.36" x2="129.62" y2="398.43" stroke="#c6c69a" stroke-width="0.45" /><line x1="117.69" y1="406.33" x2="118.86" y2="406.67" stroke="#c6c69a" stroke-width="0.45" /><line x1="110.76" y1="396.32" x2="111.60" y2="396.58" stroke="#c6c69a" stroke-width="0.45" /><line x1="115.52" y1="400.67" x2="115.49" y2="401.73" stroke="#c6c69a" stroke-width="0.45" /><line x1="125.64" y1="401.51" x2="124.69" y2="401.57" stroke="#c6c69a" stroke-width="0.45" /><line x1="119.82" y1="401.29" x2="120.44" y2="402.74" stroke="#c6c69a" stroke-width="0.45" /><line x1="110.67" y1="405.16" x2="111.15" y2="406.16" stroke="#c6c69a" stroke-width="0.45" /><line x1="122.99" y1="401.99" x2="123.54" y2="402.67" stroke="#c6c69a" stroke-width="0.45" /><line x1="133.34" y1="400.03" x2="134.64" y2="400.52" stroke="#c6c69a" stroke-width="0.45" /><line x1="120.47" y1="399.61" x2="121.27" y2="400.95" stroke="#c6c69a" stroke-width="0.45" /><line x1="114.59" y1="400.52" x2="113.48" y2="400.67" stroke="#c6c69a" stroke-width="0.45" /><line x1="116.52" y1="397.94" x2="115.84" y2="399.16" stroke="#c6c69a" stroke-width="0.45" /><line x1="117.87" y1="400.40" x2="118.99" y2="401.41" stroke="#c6c69a" stroke-width="0.45" /><line x1="118.20" y1="404.70" x2="118.76" y2="406.05" stroke="#c6c69a" stroke-width="0.45" /><line x1="105.17" y1="398.52" x2="103.77" y2="398.69" stroke="#c6c69a" stroke-width="0.45" /><line x1="124.84" y1="401.32" x2="124.93" y2="402.29" stroke="#c6c69a" stroke-width="0.45" /><line x1="109.56" y1="402.82" x2="108.97" y2="403.66" stroke="#c6c69a" stroke-width="0.45" /><line x1="123.89" y1="397.68" x2="123.56" y2="398.57" stroke="#c6c69a" stroke-width="0.45" /><line x1="119.79" y1="399.47" x2="119.64" y2="400.38" stroke="#c6c69a" stroke-width="0.45" /><line x1="118.99" y1="402.53" x2="119.98" y2="402.97" stroke="#c6c69a" stroke-width="0.45" /><line x1="124.93" y1="401.82" x2="124.39" y2="403.22" stroke="#c6c69a" stroke-width="0.45" /><line x1="121.67" y1="398.54" x2="121.95" y2="400.07" stroke="#c6c69a" stroke-width="0.45" /><line x1="121.53" y1="403.91" x2="122.03" y2="405.00" stroke="#c6c69a" stroke-width="0.45" /><line x1="133.78" y1="404.60" x2="133.37" y2="405.40" stroke="#c6c69a" stroke-width="0.45" /><line x1="122.90" y1="396.64" x2="121.26" y2="396.98" stroke="#c6c69a" stroke-width="0.45" /><line x1="126.43" y1="399.00" x2="125.58" y2="399.45" stroke="#c6c69a" stroke-width="0.45" /><line x1="129.47" y1="401.56" x2="131.07" y2="401.64" stroke="#c6c69a" stroke-width="0.45" /><line x1="117.68" y1="404.68" x2="116.96" y2="405.75" stroke="#c6c69a" stroke-width="0.45" /><line x1="130.52" y1="398.35" x2="129.47" y2="398.70" stroke="#c6c69a" stroke-width="0.45" /><line x1="105.09" y1="399.70" x2="105.94" y2="399.88" stroke="#c6c69a" stroke-width="0.45" /><line x1="123.27" y1="397.52" x2="124.21" y2="398.03" stroke="#c6c69a" stroke-width="0.45" /><line x1="112.77" y1="405.59" x2="111.26" y2="406.06" stroke="#c6c69a" stroke-width="0.45" /><line x1="134.39" y1="400.75" x2="133.55" y2="401.38" stroke="#c6c69a" stroke-width="0.45" /><line x1="132.47" y1="404.49" x2="131.80" y2="405.24" stroke="#c6c69a" stroke-width="0.45" /><line x1="107.08" y1="405.64" x2="106.86" y2="406.98" stroke="#c6c69a" stroke-width="0.45" /><line x1="130.50" y1="397.75" x2="129.79" y2="398.74" stroke="#c6c69a" stroke-width="0.45" /><line x1="128.20" y1="400.90" x2="129.55" y2="401.87" stroke="#c6c69a" stroke-width="0.45" /><line x1="112.85" y1="403.82" x2="111.96" y2="404.34" stroke="#c6c69a" stroke-width="0.45" /><line x1="125.43" y1="400.30" x2="126.19" y2="400.94" stroke="#c6c69a" stroke-width="0.45" /><line x1="133.30" y1="400.02" x2="133.26" y2="401.27" stroke="#c6c69a" stroke-width="0.45" /><line x1="105.11" y1="403.91" x2="104.00" y2="405.05" stroke="#c6c69a" stroke-width="0.45" /><line x1="115.15" y1="398.42" x2="115.82" y2="399.71" stroke="#c6c69a" stroke-width="0.45" /><line x1="124.30" y1="400.40" x2="124.23" y2="401.34" stroke="#c6c69a" stroke-width="0.45" /><line x1="132.22" y1="401.07" x2="132.19" y2="402.57" stroke="#c6c69a" stroke-width="0.45" /><line x1="110.31" y1="403.60" x2="111.00" y2="404.97" stroke="#c6c69a" stroke-width="0.45" /><line x1="107.17" y1="399.09" x2="106.66" y2="400.21" stroke="#c6c69a" stroke-width="0.45" /><line x1="115.76" y1="402.14" x2="116.68" y2="402.90" stroke="#c6c69a" stroke-width="0.45" /><circle cx="104.36" cy="404.41" r="0.6" fill="#fff"/><circle cx="112.02" cy="404.72" r="0.6" fill="#fff"/><circle cx="121.09" cy="402.45" r="0.6" fill="#fff"/><circle cx="123.33" cy="397.74" r="0.6" fill="#fff"/><circle cx="127.93" cy="399.39" r="0.6" fill="#fff"/><circle cx="130.53" cy="404.29" r="0.6" fill="#fff"/><circle cx="124.92" cy="404.57" r="0.6" fill="#fff"/><circle cx="117.58" cy="403.17" r="0.6" fill="#fff"/><circle cx="133.27" cy="398.37" r="0.6" fill="#fff"/><circle cx="107.36" cy="400.58" r="0.6" fill="#fff"/><circle cx="119.79" cy="397.98" r="0.6" fill="#fff"/><circle cx="111.02" cy="405.08" r="0.6" fill="#fff"/><circle cx="116.09" cy="397.97" r="0.6" fill="#fff"/><circle cx="109.86" cy="402.22" r="0.6" fill="#fff"/><circle cx="110.07" cy="401.20" r="0.6" fill="#fff"/><circle cx="120.65" cy="400.85" r="0.6" fill="#fff"/><circle cx="119.61" cy="404.78" r="0.6" fill="#fff"/><circle cx="104.81" cy="405.71" r="0.6" fill="#fff"/><circle cx="110.36" cy="396.88" r="0.6" fill="#fff"/><circle cx="127.63" cy="402.14" r="0.6" fill="#fff"/><circle cx="120.65" cy="398.65" r="0.6" fill="#fff"/><circle cx="128.04" cy="399.53" r="0.6" fill="#fff"/><circle cx="126.40" cy="398.76" r="0.6" fill="#fff"/><circle cx="121.71" cy="402.92" r="0.6" fill="#fff"/><circle cx="115.60" cy="401.25" r="0.6" fill="#fff"/><circle cx="106.28" cy="402.87" r="0.6" fill="#fff"/><circle cx="125.31" cy="398.02" r="0.6" fill="#fff"/><circle cx="121.04" cy="403.76" r="0.6" fill="#fff"/><circle cx="107.37" cy="404.81" r="0.6" fill="#fff"/><circle cx="130.76" cy="397.00" r="0.6" fill="#fff"/><circle cx="111.85" cy="397.33" r="0.6" fill="#fff"/><circle cx="111.98" cy="397.35" r="0.6" fill="#fff"/><circle cx="119.18" cy="398.98" r="0.6" fill="#fff"/><circle cx="113.42" cy="401.07" r="0.6" fill="#fff"/><circle cx="115.60" cy="404.31" r="0.6" fill="#fff"/><circle cx="126.27" cy="397.63" r="0.6" fill="#fff"/><circle cx="111.09" cy="396.58" r="0.6" fill="#fff"/><circle cx="114.31" cy="397.57" r="0.6" fill="#fff"/><circle cx="125.49" cy="404.23" r="0.6" fill="#fff"/><circle cx="134.57" cy="398.57" r="0.6" fill="#fff"/><circle cx="105.41" cy="403.99" r="0.6" fill="#fff"/><circle cx="116.82" cy="405.72" r="0.6" fill="#fff"/><circle cx="116.23" cy="399.59" r="0.6" fill="#fff"/><circle cx="106.51" cy="405.88" r="0.6" fill="#fff"/><circle cx="119.87" cy="400.86" r="0.6" fill="#fff"/><circle cx="117.59" cy="404.11" r="0.6" fill="#fff"/><circle cx="129.56" cy="401.21" r="0.6" fill="#fff"/><circle cx="109.72" cy="400.52" r="0.6" fill="#fff"/><circle cx="107.69" cy="393.72" r="0.55" fill="#f3e6c6"/><circle cx="111.56" cy="394.02" r="0.55" fill="#f3e6c6"/><circle cx="115.46" cy="394.05" r="0.55" fill="#f3e6c6"/><circle cx="119.35" cy="394.01" r="0.55" fill="#f3e6c6"/><circle cx="124.06" cy="393.06" r="0.55" fill="#f3e6c6"/><circle cx="127.67" cy="394.66" r="0.55" fill="#f3e6c6"/><circle cx="132.38" cy="392.93" r="0.55" fill="#f3e6c6"/></g>
<path d="M105.11 396.10 A15.2 15.2 0 0 0 133.89 396.10" fill="none" stroke="#cdcdb0" stroke-width="0.8" />
</g>
<clipPath id="c1"><rect x="0" y="57.5" width="222" height="400"/></clipPath>
<clipPath id="c2"><rect x="202" y="65.5" width="226" height="400"/></clipPath>
<clipPath id="c3"><rect x="411" y="65.5" width="221" height="400"/></clipPath>
</defs>
<g clip-path="url(#c1)"><use href="#pnl"/></g>
<g clip-path="url(#c2)"><use href="#pnl" transform="translate(202.5 1)"/></g>
<g clip-path="url(#c3)"><use href="#pnl" transform="translate(411.1 1)"/></g>
<line x1="23.30" y1="148.30" x2="160.50" y2="320.50" stroke="#fbd4a4" stroke-width="1.0" />
<line x1="23.30" y1="188.30" x2="168.00" y2="365.50" stroke="#fbd4a4" stroke-width="1.0" />
<line x1="87.50" y1="227.50" x2="55.50" y2="251.30" stroke="#fbd4a4" stroke-width="1.0" /><path d="M57.56 247.64 L55.50 251.30 L59.60 250.39" fill="none" stroke="#fbd4a4" stroke-width="1.0" stroke-linejoin="round" stroke-linecap="round"/>
<line x1="87.50" y1="265.50" x2="63.50" y2="285.00" stroke="#fbd4a4" stroke-width="1.0" /><path d="M65.40 281.25 L63.50 285.00 L67.56 283.91" fill="none" stroke="#fbd4a4" stroke-width="1.0" stroke-linejoin="round" stroke-linecap="round"/>
<path d="M25 241.3 C33 240.5 40 238 44.5 233.5 C52 226 56 212 63 204 C69 197.5 78 196.5 84.5 203 C91.5 210 95.8 226 96.5 245 C96.9 260 94.6 275 94 287.6" fill="none" stroke="#f2627f" stroke-width="0.98" />
<path d="M28.79 239.28 L25.00 241.30 L29.04 242.78" fill="none" stroke="#f2627f" stroke-width="1.0" stroke-linejoin="round" stroke-linecap="round"/>
<path d="M94 287.6 C94 300 96 312 98.2 324 C100.3 337 98 348 91 356.5 C83 366 68 368 58 378 C52.5 383.5 48.5 390 45.5 395.5" fill="none" stroke="#aaa3f4" stroke-width="1.05" />
<line x1="113.60" y1="68.50" x2="113.60" y2="95.30" stroke="#cdf5f9" stroke-width="1.0" />
<path d="M112.35 93.95 L113.60 96.00 L114.85 93.95" fill="none" stroke="#c4f2f8" stroke-width="0.9" stroke-linejoin="round" stroke-linecap="round"/>
<line x1="118.60" y1="68.50" x2="118.60" y2="95.30" stroke="#cdf5f9" stroke-width="1.0" />
<path d="M117.35 93.95 L118.60 96.00 L119.85 93.95" fill="none" stroke="#c4f2f8" stroke-width="0.9" stroke-linejoin="round" stroke-linecap="round"/>
<line x1="123.50" y1="68.50" x2="123.50" y2="95.30" stroke="#cdf5f9" stroke-width="1.0" />
<path d="M122.25 93.95 L123.50 96.00 L124.75 93.95" fill="none" stroke="#c4f2f8" stroke-width="0.9" stroke-linejoin="round" stroke-linecap="round"/>
<line x1="316.10" y1="69.70" x2="316.10" y2="96.50" stroke="#cdf5f9" stroke-width="1.0" />
<path d="M314.85 95.15 L316.10 97.20 L317.35 95.15" fill="none" stroke="#c4f2f8" stroke-width="0.9" stroke-linejoin="round" stroke-linecap="round"/>
<line x1="321.10" y1="69.70" x2="321.10" y2="96.50" stroke="#cdf5f9" stroke-width="1.0" />
<path d="M319.85 95.15 L321.10 97.20 L322.35 95.15" fill="none" stroke="#c4f2f8" stroke-width="0.9" stroke-linejoin="round" stroke-linecap="round"/>
<line x1="326.00" y1="69.70" x2="326.00" y2="96.50" stroke="#cdf5f9" stroke-width="1.0" />
<path d="M324.75 95.15 L326.00 97.20 L327.25 95.15" fill="none" stroke="#c4f2f8" stroke-width="0.9" stroke-linejoin="round" stroke-linecap="round"/>
<line x1="113.40" y1="397.00" x2="113.40" y2="410.50" stroke="#d8f7fa" stroke-width="0.9" />
<line x1="113.40" y1="425.70" x2="113.40" y2="434.50" stroke="#d2f6fa" stroke-width="0.9" />
<line x1="118.50" y1="397.00" x2="118.50" y2="410.50" stroke="#d8f7fa" stroke-width="0.9" />
<line x1="118.50" y1="425.70" x2="118.50" y2="434.50" stroke="#d2f6fa" stroke-width="0.9" />
<line x1="123.40" y1="397.00" x2="123.40" y2="410.50" stroke="#d8f7fa" stroke-width="0.9" />
<line x1="123.40" y1="425.70" x2="123.40" y2="434.50" stroke="#d2f6fa" stroke-width="0.9" />
<line x1="240.00" y1="176.30" x2="277.60" y2="233.60" stroke="#9494f7" stroke-width="0.95" /><path d="M274.06 231.33 L277.60 233.60 L276.93 229.45" fill="none" stroke="#9494f7" stroke-width="0.95" stroke-linejoin="round" stroke-linecap="round"/>
<line x1="236.30" y1="243.20" x2="274.60" y2="301.20" stroke="#9494f7" stroke-width="0.95" /><path d="M271.06 298.94 L274.60 301.20 L273.92 297.06" fill="none" stroke="#9494f7" stroke-width="0.95" stroke-linejoin="round" stroke-linecap="round"/>
<line x1="281.70" y1="240.20" x2="256.60" y2="258.20" stroke="#9494f7" stroke-width="0.95" /><path d="M258.72 254.57 L256.60 258.20 L260.71 257.36" fill="none" stroke="#9494f7" stroke-width="0.95" stroke-linejoin="round" stroke-linecap="round"/>
<line x1="278.30" y1="306.60" x2="252.80" y2="325.20" stroke="#9494f7" stroke-width="0.95" /><path d="M254.89 321.56 L252.80 325.20 L256.91 324.32" fill="none" stroke="#9494f7" stroke-width="0.95" stroke-linejoin="round" stroke-linecap="round"/>
<path d="M449.50 222.00 C451.75 219.60 457.75 211.93 463.00 207.60 C468.25 203.27 474.42 198.67 481.00 196.00 C487.58 193.33 495.33 191.73 502.50 191.60 C509.67 191.47 516.80 192.53 524.00 195.20 C531.20 197.87 539.08 202.50 545.70 207.60 C552.32 212.70 559.57 220.82 563.70 225.80 C567.83 230.78 567.87 233.05 570.50 237.50 C573.13 241.95 576.25 247.67 579.50 252.50 C582.75 257.33 586.50 262.63 590.00 266.50 C593.50 270.37 596.25 272.78 600.50 275.70 C604.75 278.62 610.25 281.73 615.50 284.00 C620.75 286.27 629.25 288.42 632.00 289.30 " fill="none" stroke="#f2627f" stroke-width="0.98" />
<path d="M450.54 217.83 L449.50 222.00 L453.30 219.99" fill="none" stroke="#f2627f" stroke-width="1.0" stroke-linejoin="round" stroke-linecap="round"/>
<path d="M451.4 376.5 C456 370 464 362.5 473 359.3 C484 355.5 495 355.5 503 355.6 C513 355.8 520 357.2 527 357 C536 356.8 543 356 551 354.9 C558 353.8 563 352.4 569 351.5 C575 350.5 581 349.8 587 350 C594 350.3 600 351.8 605 354 C612 357 618 360.8 623 364.5 C626 366.8 629 369 632 371" fill="none" stroke="#f2627f" stroke-width="0.98" />
<path d="M452.22 372.28 L451.40 376.50 L455.09 374.29" fill="none" stroke="#f2627f" stroke-width="1.0" stroke-linejoin="round" stroke-linecap="round"/>
<rect x="491.00" y="431.00" width="141.00" height="2.40" fill="#ededed" stroke="none" stroke-width="1" />
</svg></body></html>
